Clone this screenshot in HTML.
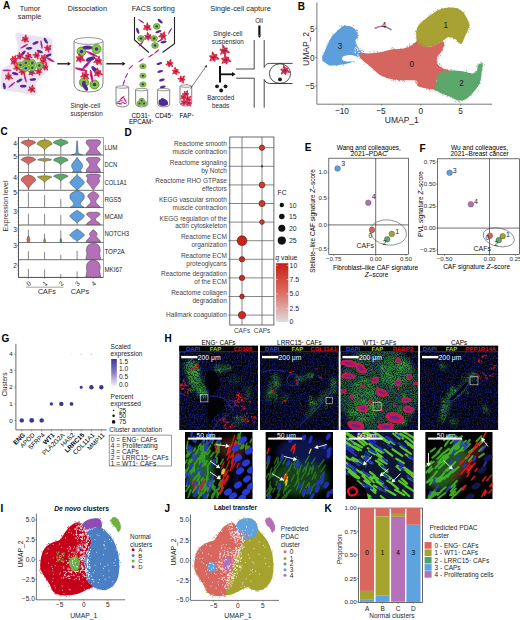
<!DOCTYPE html>
<html><head><meta charset="utf-8"><style>
html,body{margin:0;padding:0;background:#fff;}
svg{display:block;font-family:"Liberation Sans",sans-serif;}
</style></head><body>
<svg width="520" height="620" viewBox="0 0 520 620">
<rect width="520" height="620" fill="#fff"/>
<text x="0.6" y="135.4" font-size="10" font-weight="bold" fill="#000">C</text>
<rect x="18.5" y="137.5" width="84.8" height="17.5" fill="none" stroke="#666" stroke-width="0.6"/>
<rect x="18.5" y="155.0" width="84.8" height="17.5" fill="none" stroke="#666" stroke-width="0.6"/>
<rect x="18.5" y="172.5" width="84.8" height="17.7" fill="none" stroke="#666" stroke-width="0.6"/>
<rect x="18.5" y="190.2" width="84.8" height="17.4" fill="none" stroke="#666" stroke-width="0.6"/>
<rect x="18.5" y="207.6" width="84.8" height="17.4" fill="none" stroke="#666" stroke-width="0.6"/>
<rect x="18.5" y="225.0" width="84.8" height="17.4" fill="none" stroke="#666" stroke-width="0.6"/>
<rect x="18.5" y="242.4" width="84.8" height="17.4" fill="none" stroke="#666" stroke-width="0.6"/>
<rect x="18.5" y="259.8" width="84.8" height="17.6" fill="none" stroke="#666" stroke-width="0.6"/>
<line x1="18.5" y1="137.5" x2="18.5" y2="277.4" stroke="#444" stroke-width="0.8"/>
<line x1="18.5" y1="277.4" x2="103.3" y2="277.4" stroke="#444" stroke-width="0.8"/>
<line x1="28.4" y1="138.2" x2="28.4" y2="140.0" stroke="#555" stroke-width="0.7"/>
<line x1="28.4" y1="147.8" x2="28.4" y2="154.7" stroke="#555" stroke-width="0.7"/>
<path d="M28.7,140.0 L32.0,140.5 L33.5,140.9 L34.5,141.4 L35.2,141.9 L35.6,142.3 L35.7,142.8 L34.4,143.4 L33.1,144.1 L32.0,144.7 L31.0,145.3 L30.1,145.9 L29.3,146.6 L28.7,147.2 L28.7,147.8 L28.1,147.8 L28.1,147.2 L27.5,146.6 L26.7,145.9 L25.8,145.3 L24.8,144.7 L23.7,144.1 L22.4,143.4 L21.1,142.8 L21.2,142.3 L21.6,141.9 L22.3,141.4 L23.3,140.9 L24.8,140.5 L28.1,140.0Z" fill="#d4665f" stroke="#333" stroke-width="0.45"/>
<line x1="44.6" y1="138.2" x2="44.6" y2="139.8" stroke="#555" stroke-width="0.7"/>
<line x1="44.6" y1="150.4" x2="44.6" y2="154.7" stroke="#555" stroke-width="0.7"/>
<path d="M44.9,139.8 L48.3,140.5 L49.9,141.3 L50.9,142.0 L51.6,142.7 L52.0,143.5 L52.1,144.2 L50.7,145.0 L49.5,145.8 L48.3,146.5 L47.3,147.3 L46.3,148.1 L45.5,148.8 L44.9,149.6 L44.9,150.4 L44.3,150.4 L44.3,149.6 L43.7,148.8 L42.9,148.1 L41.9,147.3 L40.9,146.5 L39.7,145.8 L38.5,145.0 L37.1,144.2 L37.2,143.5 L37.6,142.7 L38.3,142.0 L39.3,141.3 L40.9,140.5 L44.3,139.8Z" fill="#a8a133" stroke="#333" stroke-width="0.45"/>
<line x1="60.8" y1="138.2" x2="60.8" y2="139.6" stroke="#555" stroke-width="0.7"/>
<line x1="60.8" y1="146.9" x2="60.8" y2="154.7" stroke="#555" stroke-width="0.7"/>
<path d="M61.1,139.6 L64.4,140.2 L65.9,140.7 L66.9,141.3 L67.6,141.9 L68.0,142.4 L68.1,143.0 L66.8,143.5 L65.5,144.0 L64.4,144.5 L63.4,144.9 L62.5,145.4 L61.7,145.9 L61.1,146.4 L61.1,146.9 L60.5,146.9 L60.5,146.4 L59.9,145.9 L59.1,145.4 L58.2,144.9 L57.2,144.5 L56.1,144.0 L54.8,143.5 L53.5,143.0 L53.6,142.4 L54.0,141.9 L54.7,141.3 L55.7,140.7 L57.2,140.2 L60.5,139.6Z" fill="#5ca86c" stroke="#333" stroke-width="0.45"/>
<path d="M77.3,140.8 L77.7,146.0 L78.0,151.0 L78.4,153.4 L80.6,154.2 L82.6,154.7 L71.6,154.7 L73.6,154.2 L75.8,153.4 L76.2,151.0 L76.5,146.0 L76.9,140.8Z" fill="#5d9fdc" stroke="#333" stroke-width="0.45"/>
<path d="M97.8,139.8 L100.1,140.6 L100.6,142.8 L98.8,145.5 L96.8,147.5 L96.9,149.5 L98.8,151.5 L100.3,153.5 L100.7,154.7 L85.9,154.7 L86.3,153.5 L87.8,151.5 L89.7,149.5 L89.8,147.5 L87.8,145.5 L86.0,142.8 L86.5,140.6 L88.8,139.8Z" fill="#b46fb9" stroke="#333" stroke-width="0.45"/>
<line x1="28.4" y1="165.0" x2="28.4" y2="172.0" stroke="#555" stroke-width="0.7"/>
<path d="M28.7,156.8 L32.0,157.3 L33.5,157.9 L34.5,158.4 L35.2,158.9 L35.6,159.5 L35.7,160.0 L34.4,160.6 L33.1,161.2 L32.0,161.9 L31.0,162.5 L30.1,163.1 L29.3,163.8 L28.7,164.4 L28.7,165.0 L28.1,165.0 L28.1,164.4 L27.5,163.8 L26.7,163.1 L25.8,162.5 L24.8,161.9 L23.7,161.2 L22.4,160.6 L21.1,160.0 L21.2,159.5 L21.6,158.9 L22.3,158.4 L23.3,157.9 L24.8,157.3 L28.1,156.8Z" fill="#d4665f" stroke="#333" stroke-width="0.45"/>
<line x1="44.6" y1="156.0" x2="44.6" y2="158.4" stroke="#555" stroke-width="0.7"/>
<line x1="44.6" y1="161.6" x2="44.6" y2="171.8" stroke="#555" stroke-width="0.7"/>
<path d="M44.9,158.4 L48.0,158.7 L49.5,158.9 L50.5,159.2 L51.1,159.5 L51.5,159.7 L51.6,160.0 L50.3,160.2 L49.1,160.4 L48.1,160.6 L47.1,160.8 L46.2,161.0 L45.5,161.2 L44.9,161.4 L44.9,161.6 L44.3,161.6 L44.3,161.4 L43.7,161.2 L43.0,161.0 L42.1,160.8 L41.1,160.6 L40.1,160.4 L38.9,160.2 L37.6,160.0 L37.7,159.7 L38.1,159.5 L38.7,159.2 L39.7,158.9 L41.2,158.7 L44.3,158.4Z" fill="#a8a133" stroke="#333" stroke-width="0.45"/>
<line x1="60.8" y1="156.0" x2="60.8" y2="157.2" stroke="#555" stroke-width="0.7"/>
<line x1="60.8" y1="164.8" x2="60.8" y2="171.8" stroke="#555" stroke-width="0.7"/>
<path d="M61.1,157.2 L64.3,157.7 L65.9,158.3 L66.9,158.8 L67.5,159.3 L67.9,159.9 L68.0,160.4 L66.7,161.0 L65.5,161.5 L64.4,162.1 L63.3,162.6 L62.5,163.2 L61.7,163.7 L61.1,164.2 L61.1,164.8 L60.5,164.8 L60.5,164.2 L59.9,163.7 L59.1,163.2 L58.3,162.6 L57.2,162.1 L56.1,161.5 L54.9,161.0 L53.6,160.4 L53.7,159.9 L54.1,159.3 L54.7,158.8 L55.7,158.3 L57.3,157.7 L60.5,157.2Z" fill="#5ca86c" stroke="#333" stroke-width="0.45"/>
<path d="M77.4,157.6 L78.6,159.5 L80.3,161.5 L81.9,163.5 L82.7,165.8 L82.1,168.0 L80.6,170.0 L80.6,171.5 L82.1,172.2 L72.1,172.2 L73.6,171.5 L73.6,170.0 L72.1,168.0 L71.5,165.8 L72.3,163.5 L73.9,161.5 L75.6,159.5 L76.8,157.6Z" fill="#5d9fdc" stroke="#333" stroke-width="0.45"/>
<path d="M97.8,157.5 L99.8,158.3 L100.3,159.8 L98.3,162.0 L96.7,164.5 L97.8,166.8 L99.8,169.0 L100.3,171.6 L100.5,172.3 L86.1,172.3 L86.3,171.6 L86.8,169.0 L88.8,166.8 L89.9,164.5 L88.3,162.0 L86.3,159.8 L86.8,158.3 L88.8,157.5Z" fill="#b46fb9" stroke="#333" stroke-width="0.45"/>
<line x1="28.4" y1="173.2" x2="28.4" y2="175.0" stroke="#555" stroke-width="0.7"/>
<path d="M28.7,175.0 L32.0,175.9 L33.5,176.8 L34.5,177.8 L35.2,178.7 L35.6,179.6 L35.7,180.5 L34.4,181.6 L33.1,182.8 L32.0,183.9 L31.0,185.1 L30.1,186.2 L29.3,187.3 L28.7,188.5 L28.7,189.6 L28.1,189.6 L28.1,188.5 L27.5,187.3 L26.7,186.2 L25.8,185.1 L24.8,183.9 L23.7,182.8 L22.4,181.6 L21.1,180.5 L21.2,179.6 L21.6,178.7 L22.3,177.8 L23.3,176.8 L24.8,175.9 L28.1,175.0Z" fill="#d4665f" stroke="#333" stroke-width="0.45"/>
<line x1="44.6" y1="173.2" x2="44.6" y2="175.8" stroke="#555" stroke-width="0.7"/>
<line x1="44.6" y1="182.6" x2="44.6" y2="189.6" stroke="#555" stroke-width="0.7"/>
<path d="M44.9,175.8 L48.2,176.0 L49.7,176.2 L50.7,176.4 L51.4,176.7 L51.8,176.9 L51.9,177.1 L50.6,177.8 L49.3,178.5 L48.2,179.2 L47.2,179.8 L46.3,180.5 L45.5,181.2 L44.9,181.9 L44.9,182.6 L44.3,182.6 L44.3,181.9 L43.7,181.2 L42.9,180.5 L42.0,179.8 L41.0,179.2 L39.9,178.5 L38.6,177.8 L37.3,177.1 L37.4,176.9 L37.8,176.7 L38.5,176.4 L39.5,176.2 L41.0,176.0 L44.3,175.8Z" fill="#a8a133" stroke="#333" stroke-width="0.45"/>
<line x1="60.8" y1="173.2" x2="60.8" y2="174.2" stroke="#555" stroke-width="0.7"/>
<line x1="60.8" y1="181.2" x2="60.8" y2="189.6" stroke="#555" stroke-width="0.7"/>
<path d="M61.1,174.2 L64.3,174.6 L65.9,174.9 L66.9,175.3 L67.5,175.7 L67.9,176.0 L68.0,176.4 L66.7,177.0 L65.5,177.6 L64.4,178.2 L63.3,178.8 L62.5,179.4 L61.7,180.0 L61.1,180.6 L61.1,181.2 L60.5,181.2 L60.5,180.6 L59.9,180.0 L59.1,179.4 L58.3,178.8 L57.2,178.2 L56.1,177.6 L54.9,177.0 L53.6,176.4 L53.7,176.0 L54.1,175.7 L54.7,175.3 L55.7,174.9 L57.3,174.6 L60.5,174.2Z" fill="#5ca86c" stroke="#333" stroke-width="0.45"/>
<line x1="77.1" y1="173.2" x2="77.1" y2="175.0" stroke="#555" stroke-width="0.7"/>
<path d="M77.4,175.0 L78.6,176.2 L80.0,177.5 L81.4,178.8 L82.6,180.0 L83.7,181.2 L84.5,182.5 L83.7,183.8 L82.6,185.0 L81.4,186.2 L80.0,187.5 L78.6,188.8 L77.4,190.0 L76.8,190.0 L75.6,188.8 L74.2,187.5 L72.8,186.2 L71.6,185.0 L70.5,183.8 L69.7,182.5 L70.5,181.2 L71.6,180.0 L72.8,178.8 L74.2,177.5 L75.6,176.2 L76.8,175.0Z" fill="#5d9fdc" stroke="#333" stroke-width="0.45"/>
<path d="M96.8,174.0 L99.8,174.8 L100.7,176.2 L98.8,177.8 L99.1,179.5 L99.9,181.2 L98.3,183.5 L95.8,186.5 L93.7,189.6 L92.9,189.6 L90.8,186.5 L88.3,183.5 L86.7,181.2 L87.5,179.5 L87.8,177.8 L85.9,176.2 L86.8,174.8 L89.8,174.0Z" fill="#b46fb9" stroke="#333" stroke-width="0.45"/>
<line x1="28.4" y1="192.2" x2="28.4" y2="207.3" stroke="#555" stroke-width="0.7"/>
<line x1="44.6" y1="195.0" x2="44.6" y2="207.3" stroke="#555" stroke-width="0.7"/>
<line x1="60.8" y1="199.0" x2="60.8" y2="207.3" stroke="#555" stroke-width="0.7"/>
<path d="M77.4,190.7 L79.6,191.4 L82.7,193.0 L84.3,195.5 L84.1,198.5 L82.1,201.0 L80.3,203.2 L80.7,205.2 L83.1,206.6 L84.1,207.4 L70.1,207.4 L71.1,206.6 L73.5,205.2 L73.9,203.2 L72.1,201.0 L70.1,198.5 L69.9,195.5 L71.5,193.0 L74.6,191.4 L76.8,190.7Z" fill="#5d9fdc" stroke="#333" stroke-width="0.45"/>
<path d="M93.6,191.4 L96.3,193.0 L98.5,195.0 L98.9,196.6 L97.3,198.5 L95.7,201.0 L96.3,203.3 L98.8,205.5 L100.3,207.3 L86.3,207.3 L87.8,205.5 L90.3,203.3 L90.9,201.0 L89.3,198.5 L87.7,196.6 L88.1,195.0 L90.3,193.0 L93.0,191.4Z" fill="#b46fb9" stroke="#333" stroke-width="0.45"/>
<line x1="28.4" y1="213.8" x2="28.4" y2="224.8" stroke="#555" stroke-width="0.7"/>
<line x1="44.6" y1="213.8" x2="44.6" y2="224.8" stroke="#555" stroke-width="0.7"/>
<line x1="60.8" y1="215.0" x2="60.8" y2="224.8" stroke="#555" stroke-width="0.7"/>
<line x1="77.1" y1="222.8" x2="77.1" y2="224.8" stroke="#555" stroke-width="0.7"/>
<path d="M77.4,210.2 L78.6,211.2 L80.0,212.1 L81.4,213.1 L82.6,214.1 L83.7,215.0 L84.5,216.0 L83.7,217.1 L82.6,218.3 L81.4,219.4 L80.0,220.5 L78.6,221.7 L77.4,222.8 L76.8,222.8 L75.6,221.7 L74.2,220.5 L72.8,219.4 L71.6,218.3 L70.5,217.1 L69.7,216.0 L70.5,215.0 L71.6,214.1 L72.8,213.1 L74.2,212.1 L75.6,211.2 L76.8,210.2Z" fill="#5d9fdc" stroke="#333" stroke-width="0.45"/>
<path d="M97.3,212.2 L99.3,213.0 L100.1,214.5 L98.1,216.5 L95.3,218.6 L95.7,220.5 L98.8,222.5 L100.5,224.6 L86.1,224.6 L87.8,222.5 L90.9,220.5 L91.3,218.6 L88.5,216.5 L86.5,214.5 L87.3,213.0 L89.3,212.2Z" fill="#b46fb9" stroke="#333" stroke-width="0.45"/>
<line x1="28.4" y1="229.8" x2="28.4" y2="242.2" stroke="#555" stroke-width="0.7"/>
<line x1="44.6" y1="233.7" x2="44.6" y2="242.2" stroke="#555" stroke-width="0.7"/>
<line x1="60.8" y1="230.5" x2="60.8" y2="242.2" stroke="#555" stroke-width="0.7"/>
<path d="M28.7,236.0 L29.6,238.0 L29.9,240.0 L29.6,241.5 L28.9,242.2 L27.9,242.2 L27.2,241.5 L26.9,240.0 L27.2,238.0 L28.1,236.0Z" fill="#d4665f" stroke="#333" stroke-width="0.45"/>
<path d="M44.8,238.5 L45.5,240.5 L45.2,242.2 L44.0,242.2 L43.7,240.5 L44.4,238.5Z" fill="#a8a133" stroke="#333" stroke-width="0.45"/>
<path d="M61.0,238.5 L61.7,240.5 L61.4,242.2 L60.2,242.2 L59.9,240.5 L60.6,238.5Z" fill="#5ca86c" stroke="#333" stroke-width="0.45"/>
<line x1="77.1" y1="241.2" x2="77.1" y2="242.2" stroke="#555" stroke-width="0.7"/>
<path d="M77.4,229.0 L78.6,230.0 L80.0,231.0 L81.4,231.9 L82.6,232.9 L83.7,233.9 L84.5,234.9 L83.7,235.9 L82.6,237.0 L81.4,238.1 L80.0,239.1 L78.6,240.1 L77.4,241.2 L76.8,241.2 L75.6,240.1 L74.2,239.1 L72.8,238.1 L71.6,237.0 L70.5,235.9 L69.7,234.9 L70.5,233.9 L71.6,232.9 L72.8,231.9 L74.2,231.0 L75.6,230.0 L76.8,229.0Z" fill="#5d9fdc" stroke="#333" stroke-width="0.45"/>
<path d="M93.6,229.8 L95.3,231.3 L96.7,232.8 L97.1,234.6 L96.1,236.3 L97.8,238.3 L99.8,240.3 L100.5,242.1 L86.1,242.1 L86.8,240.3 L88.8,238.3 L90.5,236.3 L89.5,234.6 L89.9,232.8 L91.3,231.3 L93.0,229.8Z" fill="#b46fb9" stroke="#333" stroke-width="0.45"/>
<line x1="28.4" y1="251.1" x2="28.4" y2="259.6" stroke="#555" stroke-width="0.7"/>
<line x1="44.6" y1="252.0" x2="44.6" y2="259.6" stroke="#555" stroke-width="0.7"/>
<line x1="60.8" y1="254.9" x2="60.8" y2="259.6" stroke="#555" stroke-width="0.7"/>
<line x1="77.1" y1="250.8" x2="77.1" y2="259.6" stroke="#555" stroke-width="0.7"/>
<path d="M94.8,243.2 L96.8,244.0 L98.8,245.5 L99.9,247.5 L100.2,250.5 L99.7,253.8 L100.2,256.5 L100.6,258.5 L100.7,259.6 L85.9,259.6 L86.0,258.5 L86.4,256.5 L86.9,253.8 L86.4,250.5 L86.7,247.5 L87.8,245.5 L89.8,244.0 L91.8,243.2Z" fill="#b46fb9" stroke="#333" stroke-width="0.45"/>
<line x1="28.4" y1="269.0" x2="28.4" y2="277.2" stroke="#555" stroke-width="0.7"/>
<line x1="44.6" y1="269.4" x2="44.6" y2="277.2" stroke="#555" stroke-width="0.7"/>
<line x1="60.8" y1="274.1" x2="60.8" y2="277.2" stroke="#555" stroke-width="0.7"/>
<line x1="77.1" y1="271.5" x2="77.1" y2="277.2" stroke="#555" stroke-width="0.7"/>
<path d="M94.8,260.3 L96.8,261.1 L98.8,262.6 L99.9,264.7 L100.2,267.8 L99.7,271.2 L100.2,273.9 L100.6,276.0 L100.7,277.2 L85.9,277.2 L86.0,276.0 L86.4,273.9 L86.9,271.2 L86.4,267.8 L86.7,264.7 L87.8,262.6 L89.8,261.1 L91.8,260.3Z" fill="#b46fb9" stroke="#333" stroke-width="0.45"/>
<text x="104.4" y="150.4" font-size="6.6" fill="#1e1e1e" textLength="13.1" lengthAdjust="spacingAndGlyphs">LUM</text>
<text x="104.4" y="167.2" font-size="6.6" fill="#1e1e1e" textLength="12.8" lengthAdjust="spacingAndGlyphs">DCN</text>
<text x="104.4" y="184.8" font-size="6.6" fill="#1e1e1e" textLength="22.5" lengthAdjust="spacingAndGlyphs">COL1A1</text>
<text x="104.4" y="201.8" font-size="6.6" fill="#1e1e1e" textLength="16.7" lengthAdjust="spacingAndGlyphs">RGS5</text>
<text x="104.4" y="219.0" font-size="6.6" fill="#1e1e1e" textLength="18.4" lengthAdjust="spacingAndGlyphs">MCAM</text>
<text x="104.4" y="235.9" font-size="6.6" fill="#1e1e1e" textLength="24.7" lengthAdjust="spacingAndGlyphs">NOTCH3</text>
<text x="104.4" y="254.1" font-size="6.6" fill="#1e1e1e" textLength="20.4" lengthAdjust="spacingAndGlyphs">TOP2A</text>
<text x="104.4" y="271.5" font-size="6.6" fill="#1e1e1e" textLength="17.9" lengthAdjust="spacingAndGlyphs">MKI67</text>
<text x="16.8" y="145.9" font-size="6.6" text-anchor="end" fill="#2a2a2a">4</text>
<line x1="17.0" y1="143.5" x2="18.5" y2="143.5" stroke="#444" stroke-width="0.5"/>
<text x="16.8" y="159.2" font-size="6.6" text-anchor="end" fill="#2a2a2a">5</text>
<line x1="17.0" y1="156.8" x2="18.5" y2="156.8" stroke="#444" stroke-width="0.5"/>
<text x="16.8" y="180.2" font-size="6.6" text-anchor="end" fill="#2a2a2a">4</text>
<line x1="17.0" y1="177.8" x2="18.5" y2="177.8" stroke="#444" stroke-width="0.5"/>
<text x="16.8" y="194.6" font-size="6.6" text-anchor="end" fill="#2a2a2a">5</text>
<line x1="17.0" y1="192.2" x2="18.5" y2="192.2" stroke="#444" stroke-width="0.5"/>
<text x="16.8" y="214.0" font-size="6.6" text-anchor="end" fill="#2a2a2a">3</text>
<line x1="17.0" y1="211.6" x2="18.5" y2="211.6" stroke="#444" stroke-width="0.5"/>
<text x="16.8" y="232.2" font-size="6.6" text-anchor="end" fill="#2a2a2a">3</text>
<line x1="17.0" y1="229.8" x2="18.5" y2="229.8" stroke="#444" stroke-width="0.5"/>
<text x="16.8" y="247.7" font-size="6.6" text-anchor="end" fill="#2a2a2a">3</text>
<line x1="17.0" y1="245.3" x2="18.5" y2="245.3" stroke="#444" stroke-width="0.5"/>
<text x="16.8" y="267.7" font-size="6.6" text-anchor="end" fill="#2a2a2a">2</text>
<line x1="17.0" y1="265.3" x2="18.5" y2="265.3" stroke="#444" stroke-width="0.5"/>
<line x1="17.3" y1="141.0" x2="18.5" y2="141.0" stroke="#555" stroke-width="0.4"/>
<line x1="17.3" y1="144.5" x2="18.5" y2="144.5" stroke="#555" stroke-width="0.4"/>
<line x1="17.3" y1="148.0" x2="18.5" y2="148.0" stroke="#555" stroke-width="0.4"/>
<line x1="17.3" y1="151.5" x2="18.5" y2="151.5" stroke="#555" stroke-width="0.4"/>
<line x1="17.3" y1="158.5" x2="18.5" y2="158.5" stroke="#555" stroke-width="0.4"/>
<line x1="17.3" y1="162.0" x2="18.5" y2="162.0" stroke="#555" stroke-width="0.4"/>
<line x1="17.3" y1="165.5" x2="18.5" y2="165.5" stroke="#555" stroke-width="0.4"/>
<line x1="17.3" y1="169.0" x2="18.5" y2="169.0" stroke="#555" stroke-width="0.4"/>
<line x1="17.3" y1="176.0" x2="18.5" y2="176.0" stroke="#555" stroke-width="0.4"/>
<line x1="17.3" y1="179.6" x2="18.5" y2="179.6" stroke="#555" stroke-width="0.4"/>
<line x1="17.3" y1="183.1" x2="18.5" y2="183.1" stroke="#555" stroke-width="0.4"/>
<line x1="17.3" y1="186.7" x2="18.5" y2="186.7" stroke="#555" stroke-width="0.4"/>
<line x1="17.3" y1="193.7" x2="18.5" y2="193.7" stroke="#555" stroke-width="0.4"/>
<line x1="17.3" y1="197.2" x2="18.5" y2="197.2" stroke="#555" stroke-width="0.4"/>
<line x1="17.3" y1="200.6" x2="18.5" y2="200.6" stroke="#555" stroke-width="0.4"/>
<line x1="17.3" y1="204.1" x2="18.5" y2="204.1" stroke="#555" stroke-width="0.4"/>
<line x1="17.3" y1="211.1" x2="18.5" y2="211.1" stroke="#555" stroke-width="0.4"/>
<line x1="17.3" y1="214.6" x2="18.5" y2="214.6" stroke="#555" stroke-width="0.4"/>
<line x1="17.3" y1="218.0" x2="18.5" y2="218.0" stroke="#555" stroke-width="0.4"/>
<line x1="17.3" y1="221.5" x2="18.5" y2="221.5" stroke="#555" stroke-width="0.4"/>
<line x1="17.3" y1="228.5" x2="18.5" y2="228.5" stroke="#555" stroke-width="0.4"/>
<line x1="17.3" y1="232.0" x2="18.5" y2="232.0" stroke="#555" stroke-width="0.4"/>
<line x1="17.3" y1="235.4" x2="18.5" y2="235.4" stroke="#555" stroke-width="0.4"/>
<line x1="17.3" y1="238.9" x2="18.5" y2="238.9" stroke="#555" stroke-width="0.4"/>
<line x1="17.3" y1="245.9" x2="18.5" y2="245.9" stroke="#555" stroke-width="0.4"/>
<line x1="17.3" y1="249.4" x2="18.5" y2="249.4" stroke="#555" stroke-width="0.4"/>
<line x1="17.3" y1="252.8" x2="18.5" y2="252.8" stroke="#555" stroke-width="0.4"/>
<line x1="17.3" y1="256.3" x2="18.5" y2="256.3" stroke="#555" stroke-width="0.4"/>
<line x1="17.3" y1="263.3" x2="18.5" y2="263.3" stroke="#555" stroke-width="0.4"/>
<line x1="17.3" y1="266.8" x2="18.5" y2="266.8" stroke="#555" stroke-width="0.4"/>
<line x1="17.3" y1="270.4" x2="18.5" y2="270.4" stroke="#555" stroke-width="0.4"/>
<line x1="17.3" y1="273.9" x2="18.5" y2="273.9" stroke="#555" stroke-width="0.4"/>
<text transform="translate(5.2,206.0) rotate(-90)" x="0" y="2.5" font-size="7.0" text-anchor="middle" fill="#2e2e2e">Expression level</text>
<text transform="translate(28.6,283.5) rotate(-45)" x="0" y="2.4" font-size="6.6" text-anchor="middle" fill="#2e2e2e">0</text>
<line x1="28.4" y1="277.4" x2="28.4" y2="278.9" stroke="#444" stroke-width="0.5"/>
<text transform="translate(44.8,283.5) rotate(-45)" x="0" y="2.4" font-size="6.6" text-anchor="middle" fill="#2e2e2e">1</text>
<line x1="44.6" y1="277.4" x2="44.6" y2="278.9" stroke="#444" stroke-width="0.5"/>
<text transform="translate(61.0,283.5) rotate(-45)" x="0" y="2.4" font-size="6.6" text-anchor="middle" fill="#2e2e2e">2</text>
<line x1="60.8" y1="277.4" x2="60.8" y2="278.9" stroke="#444" stroke-width="0.5"/>
<text transform="translate(77.3,283.5) rotate(-45)" x="0" y="2.4" font-size="6.6" text-anchor="middle" fill="#2e2e2e">3</text>
<line x1="77.1" y1="277.4" x2="77.1" y2="278.9" stroke="#444" stroke-width="0.5"/>
<text transform="translate(93.5,283.5) rotate(-45)" x="0" y="2.4" font-size="6.6" text-anchor="middle" fill="#2e2e2e">4</text>
<line x1="93.3" y1="277.4" x2="93.3" y2="278.9" stroke="#444" stroke-width="0.5"/>
<line x1="26.0" y1="287.2" x2="63.5" y2="287.2" stroke="#666" stroke-width="0.6"/>
<text x="46.9" y="293.9" font-size="7.2" text-anchor="middle" fill="#2e2e2e">CAFs</text>
<text x="80.0" y="293.9" font-size="7.2" text-anchor="middle" fill="#2e2e2e">CAPs</text>
<text x="124.6" y="135.6" font-size="10" font-weight="bold" fill="#000">D</text>
<rect x="229.8" y="137.0" width="44.1" height="188.0" fill="none" stroke="#444" stroke-width="0.8"/>
<line x1="242.0" y1="137.0" x2="242.0" y2="325.0" stroke="#555" stroke-width="0.7"/>
<line x1="262.0" y1="137.0" x2="262.0" y2="325.0" stroke="#555" stroke-width="0.7"/>
<line x1="229.8" y1="147.7" x2="273.9" y2="147.7" stroke="#555" stroke-width="0.7"/>
<line x1="228.3" y1="147.7" x2="229.8" y2="147.7" stroke="#444" stroke-width="0.5"/>
<line x1="229.8" y1="166.3" x2="273.9" y2="166.3" stroke="#555" stroke-width="0.7"/>
<line x1="228.3" y1="166.3" x2="229.8" y2="166.3" stroke="#444" stroke-width="0.5"/>
<line x1="229.8" y1="184.9" x2="273.9" y2="184.9" stroke="#555" stroke-width="0.7"/>
<line x1="228.3" y1="184.9" x2="229.8" y2="184.9" stroke="#444" stroke-width="0.5"/>
<line x1="229.8" y1="203.5" x2="273.9" y2="203.5" stroke="#555" stroke-width="0.7"/>
<line x1="228.3" y1="203.5" x2="229.8" y2="203.5" stroke="#444" stroke-width="0.5"/>
<line x1="229.8" y1="222.1" x2="273.9" y2="222.1" stroke="#555" stroke-width="0.7"/>
<line x1="228.3" y1="222.1" x2="229.8" y2="222.1" stroke="#444" stroke-width="0.5"/>
<line x1="229.8" y1="240.7" x2="273.9" y2="240.7" stroke="#555" stroke-width="0.7"/>
<line x1="228.3" y1="240.7" x2="229.8" y2="240.7" stroke="#444" stroke-width="0.5"/>
<line x1="229.8" y1="259.3" x2="273.9" y2="259.3" stroke="#555" stroke-width="0.7"/>
<line x1="228.3" y1="259.3" x2="229.8" y2="259.3" stroke="#444" stroke-width="0.5"/>
<line x1="229.8" y1="277.9" x2="273.9" y2="277.9" stroke="#555" stroke-width="0.7"/>
<line x1="228.3" y1="277.9" x2="229.8" y2="277.9" stroke="#444" stroke-width="0.5"/>
<line x1="229.8" y1="296.5" x2="273.9" y2="296.5" stroke="#555" stroke-width="0.7"/>
<line x1="228.3" y1="296.5" x2="229.8" y2="296.5" stroke="#444" stroke-width="0.5"/>
<line x1="229.8" y1="315.1" x2="273.9" y2="315.1" stroke="#555" stroke-width="0.7"/>
<line x1="228.3" y1="315.1" x2="229.8" y2="315.1" stroke="#444" stroke-width="0.5"/>
<text x="226.8" y="146.1" font-size="6.5" text-anchor="end" fill="#444">Reactome smooth</text>
<text x="226.8" y="153.9" font-size="6.5" text-anchor="end" fill="#444">muscle contraction</text>
<text x="226.8" y="164.7" font-size="6.5" text-anchor="end" fill="#444">Reactome signaling</text>
<text x="226.8" y="172.5" font-size="6.5" text-anchor="end" fill="#444">by Notch</text>
<text x="226.8" y="183.3" font-size="6.5" text-anchor="end" fill="#444">Reactome RHO GTPase</text>
<text x="226.8" y="191.1" font-size="6.5" text-anchor="end" fill="#444">effectors</text>
<text x="226.8" y="201.9" font-size="6.5" text-anchor="end" fill="#444">KEGG vascular smooth</text>
<text x="226.8" y="209.7" font-size="6.5" text-anchor="end" fill="#444">muscle contraction</text>
<text x="226.8" y="220.5" font-size="6.5" text-anchor="end" fill="#444">KEGG regulation of the</text>
<text x="226.8" y="228.3" font-size="6.5" text-anchor="end" fill="#444">actin cytoskeleton</text>
<text x="226.8" y="239.1" font-size="6.5" text-anchor="end" fill="#444">Reactome ECM</text>
<text x="226.8" y="246.9" font-size="6.5" text-anchor="end" fill="#444">organization</text>
<text x="226.8" y="257.7" font-size="6.5" text-anchor="end" fill="#444">Reactome ECM</text>
<text x="226.8" y="265.5" font-size="6.5" text-anchor="end" fill="#444">proteoglycans</text>
<text x="226.8" y="276.3" font-size="6.5" text-anchor="end" fill="#444">Reactome degradation</text>
<text x="226.8" y="284.1" font-size="6.5" text-anchor="end" fill="#444">of the ECM</text>
<text x="226.8" y="294.9" font-size="6.5" text-anchor="end" fill="#444">Reactome collagen</text>
<text x="226.8" y="302.7" font-size="6.5" text-anchor="end" fill="#444">degradation</text>
<text x="226.8" y="317.4" font-size="6.5" text-anchor="end" fill="#444">Hallmark coagulation</text>
<circle cx="262.0" cy="147.7" r="2.70" fill="#d03a2c" stroke="#3a0e08" stroke-width="0.5"/>
<circle cx="262.0" cy="166.3" r="0.90" fill="#c8342a" stroke="#3a0e08" stroke-width="0.5"/>
<circle cx="262.0" cy="184.9" r="2.90" fill="#d03a2c" stroke="#3a0e08" stroke-width="0.5"/>
<circle cx="262.0" cy="203.5" r="3.10" fill="#d03a2c" stroke="#3a0e08" stroke-width="0.5"/>
<circle cx="262.0" cy="222.1" r="2.40" fill="#d03a2c" stroke="#3a0e08" stroke-width="0.5"/>
<circle cx="242.0" cy="240.7" r="4.90" fill="#c8241c" stroke="#3a0e08" stroke-width="0.5"/>
<circle cx="242.0" cy="259.3" r="2.70" fill="#cc2a20" stroke="#3a0e08" stroke-width="0.5"/>
<circle cx="242.0" cy="277.9" r="2.70" fill="#cc2a20" stroke="#3a0e08" stroke-width="0.5"/>
<circle cx="242.0" cy="296.5" r="2.40" fill="#cc2a20" stroke="#3a0e08" stroke-width="0.5"/>
<circle cx="242.0" cy="315.1" r="3.70" fill="#cc2a20" stroke="#3a0e08" stroke-width="0.5"/>
<text x="242.0" y="332.6" font-size="6.5" text-anchor="middle" fill="#444">CAFs</text>
<text x="262.0" y="332.6" font-size="6.5" text-anchor="middle" fill="#444">CAPs</text>
<text x="277.6" y="195.2" font-size="6.9" fill="#1e1e1e">FC</text>
<circle cx="281.8" cy="205.0" r="2.20" fill="#111"/>
<text x="289.0" y="207.5" font-size="6.9" fill="#1e1e1e">10</text>
<circle cx="281.8" cy="216.5" r="2.80" fill="#111"/>
<text x="289.0" y="219.0" font-size="6.9" fill="#1e1e1e">15</text>
<circle cx="281.8" cy="228.2" r="3.50" fill="#111"/>
<text x="289.0" y="230.7" font-size="6.9" fill="#1e1e1e">20</text>
<circle cx="281.8" cy="240.6" r="4.10" fill="#111"/>
<text x="289.0" y="243.1" font-size="6.9" fill="#1e1e1e">25</text>
<text x="275.2" y="259.7" font-size="6.9" fill="#1e1e1e"><tspan font-style="italic">q</tspan> value</text>
<defs><linearGradient id="qg" x1="0" y1="0" x2="0" y2="1"><stop offset="0" stop-color="#c81e14"/><stop offset="0.5" stop-color="#dc6e64"/><stop offset="1" stop-color="#dcdcdc"/></linearGradient></defs>
<rect x="276.0" y="263.2" width="12.3" height="58.8" fill="url(#qg)"/>
<text x="289.6" y="267.8" font-size="6.9" fill="#1e1e1e">10</text>
<line x1="276.0" y1="265.3" x2="277.8" y2="265.3" stroke="#fff" stroke-width="0.5"/>
<line x1="286.5" y1="265.3" x2="288.3" y2="265.3" stroke="#fff" stroke-width="0.5"/>
<text x="289.6" y="282.1" font-size="6.9" fill="#1e1e1e">7.5</text>
<line x1="276.0" y1="279.6" x2="277.8" y2="279.6" stroke="#fff" stroke-width="0.5"/>
<line x1="286.5" y1="279.6" x2="288.3" y2="279.6" stroke="#fff" stroke-width="0.5"/>
<text x="289.6" y="296.4" font-size="6.9" fill="#1e1e1e">5.0</text>
<line x1="276.0" y1="293.9" x2="277.8" y2="293.9" stroke="#fff" stroke-width="0.5"/>
<line x1="286.5" y1="293.9" x2="288.3" y2="293.9" stroke="#fff" stroke-width="0.5"/>
<text x="289.6" y="310.9" font-size="6.9" fill="#1e1e1e">2.5</text>
<line x1="276.0" y1="308.4" x2="277.8" y2="308.4" stroke="#fff" stroke-width="0.5"/>
<line x1="286.5" y1="308.4" x2="288.3" y2="308.4" stroke="#fff" stroke-width="0.5"/>
<text x="289.6" y="324.1" font-size="6.9" fill="#1e1e1e">0</text>
<line x1="276.0" y1="321.6" x2="277.8" y2="321.6" stroke="#fff" stroke-width="0.5"/>
<line x1="286.5" y1="321.6" x2="288.3" y2="321.6" stroke="#fff" stroke-width="0.5"/>
<text x="304.8" y="151.0" font-size="10" font-weight="bold" fill="#000">E</text>
<text x="368.8" y="150.1" font-size="6.5" text-anchor="middle">Wang and colleagues,</text>
<text x="368.8" y="156.2" font-size="6.5" text-anchor="middle">2021–PDAC</text>
<rect x="328.8" y="158.2" width="79.7" height="96.4" fill="none" stroke="#333" stroke-width="0.7"/>
<line x1="375.7" y1="158.2" x2="375.7" y2="254.6" stroke="#333" stroke-width="0.7"/>
<line x1="328.8" y1="224.9" x2="408.5" y2="224.9" stroke="#333" stroke-width="0.7"/>
<ellipse cx="388.4" cy="232.5" rx="18.2" ry="12.6" transform="rotate(8 388.4 232.5)" fill="none" stroke="#555" stroke-width="0.6"/>
<circle cx="337.6" cy="168.5" r="2.80" fill="#5d9fdc" stroke="#444" stroke-width="0.4"/>
<text x="341.2" y="165.8" font-size="7.0" fill="#1e1e1e">3</text>
<circle cx="368.3" cy="202.7" r="2.80" fill="#b46fb9" stroke="#444" stroke-width="0.4"/>
<text x="371.7" y="199.0" font-size="7.0" fill="#1e1e1e">4</text>
<circle cx="372.0" cy="229.9" r="2.80" fill="#d4665f" stroke="#444" stroke-width="0.4"/>
<text x="368.4" y="238.0" font-size="7.0" fill="#1e1e1e">0</text>
<circle cx="391.8" cy="233.9" r="2.80" fill="#a8a133" stroke="#444" stroke-width="0.4"/>
<text x="395.2" y="233.8" font-size="7.0" fill="#1e1e1e">1</text>
<circle cx="387.2" cy="239.2" r="2.80" fill="#5ca86c" stroke="#444" stroke-width="0.4"/>
<text x="382.7" y="245.3" font-size="7.0" fill="#1e1e1e">2</text>
<text x="327.0" y="174.4" font-size="6.2" text-anchor="end" fill="#2e2e2e">1.0</text>
<line x1="327.5" y1="172.2" x2="328.8" y2="172.2" stroke="#333" stroke-width="0.5"/>
<text x="327.0" y="200.3" font-size="6.2" text-anchor="end" fill="#2e2e2e">0.5</text>
<line x1="327.5" y1="198.1" x2="328.8" y2="198.1" stroke="#333" stroke-width="0.5"/>
<text x="327.0" y="227.1" font-size="6.2" text-anchor="end" fill="#2e2e2e">0.0</text>
<line x1="327.5" y1="224.9" x2="328.8" y2="224.9" stroke="#333" stroke-width="0.5"/>
<text x="327.0" y="250.8" font-size="6.2" text-anchor="end" fill="#2e2e2e">−0.5</text>
<line x1="327.5" y1="248.6" x2="328.8" y2="248.6" stroke="#333" stroke-width="0.5"/>
<text x="333.6" y="261.4" font-size="6.2" text-anchor="middle" fill="#2e2e2e">−0.75</text>
<line x1="333.6" y1="254.6" x2="333.6" y2="255.9" stroke="#333" stroke-width="0.5"/>
<text x="375.7" y="261.4" font-size="6.2" text-anchor="middle" fill="#2e2e2e">0.00</text>
<line x1="375.7" y1="254.6" x2="375.7" y2="255.9" stroke="#333" stroke-width="0.5"/>
<text x="405.9" y="261.4" font-size="6.2" text-anchor="middle" fill="#2e2e2e">0.50</text>
<line x1="405.9" y1="254.6" x2="405.9" y2="255.9" stroke="#333" stroke-width="0.5"/>
<text x="356.5" y="248.1" font-size="7.0" fill="#1e1e1e">CAFs</text>
<text transform="translate(312.6,221.0) rotate(-90)" x="0" y="2.3" font-size="6.5" text-anchor="middle">Stellate–like CAF signature <tspan font-style="italic">Z</tspan>–score</text>
<text x="375.6" y="269.5" font-size="6.5" text-anchor="middle">Fibroblast–like CAF signature</text>
<text x="376.6" y="276.9" font-size="6.5" text-anchor="middle"><tspan font-style="italic">Z</tspan>–score</text>
<text x="419.4" y="152.2" font-size="10" font-weight="bold" fill="#000">F</text>
<text x="479.6" y="150.1" font-size="6.5" text-anchor="middle">Wu and colleagues,</text>
<text x="479.6" y="156.2" font-size="6.5" text-anchor="middle">2021–Breast cancer</text>
<rect x="437.6" y="158.8" width="81.9" height="95.8" fill="none" stroke="#333" stroke-width="0.7"/>
<line x1="489.5" y1="158.8" x2="489.5" y2="254.6" stroke="#333" stroke-width="0.7"/>
<line x1="437.6" y1="228.1" x2="519.5" y2="228.1" stroke="#333" stroke-width="0.7"/>
<ellipse cx="498.8" cy="237.3" rx="15.8" ry="9.2" transform="rotate(12 498.8 237.3)" fill="none" stroke="#555" stroke-width="0.6"/>
<circle cx="449.6" cy="172.7" r="2.80" fill="#5d9fdc" stroke="#444" stroke-width="0.4"/>
<text x="452.8" y="172.6" font-size="7.0" fill="#1e1e1e">3</text>
<circle cx="470.9" cy="204.3" r="2.80" fill="#b46fb9" stroke="#444" stroke-width="0.4"/>
<text x="473.9" y="203.8" font-size="7.0" fill="#1e1e1e">4</text>
<circle cx="490.0" cy="235.7" r="2.80" fill="#d4665f" stroke="#444" stroke-width="0.4"/>
<text x="485.4" y="239.7" font-size="7.0" fill="#1e1e1e">0</text>
<circle cx="502.7" cy="236.2" r="2.80" fill="#a8a133" stroke="#444" stroke-width="0.4"/>
<text x="505.9" y="237.1" font-size="7.0" fill="#1e1e1e">1</text>
<circle cx="498.8" cy="240.1" r="2.80" fill="#5ca86c" stroke="#444" stroke-width="0.4"/>
<text x="494.2" y="245.8" font-size="7.0" fill="#1e1e1e">2</text>
<text x="435.8" y="164.0" font-size="6.2" text-anchor="end" fill="#2e2e2e">0.75</text>
<line x1="436.3" y1="161.8" x2="437.6" y2="161.8" stroke="#333" stroke-width="0.5"/>
<text x="435.8" y="186.4" font-size="6.2" text-anchor="end" fill="#2e2e2e">0.50</text>
<line x1="436.3" y1="184.2" x2="437.6" y2="184.2" stroke="#333" stroke-width="0.5"/>
<text x="435.8" y="208.4" font-size="6.2" text-anchor="end" fill="#2e2e2e">0.25</text>
<line x1="436.3" y1="206.2" x2="437.6" y2="206.2" stroke="#333" stroke-width="0.5"/>
<text x="435.8" y="230.3" font-size="6.2" text-anchor="end" fill="#2e2e2e">0.00</text>
<line x1="436.3" y1="228.1" x2="437.6" y2="228.1" stroke="#333" stroke-width="0.5"/>
<text x="435.8" y="252.2" font-size="6.2" text-anchor="end" fill="#2e2e2e">−0.25</text>
<line x1="436.3" y1="250.0" x2="437.6" y2="250.0" stroke="#333" stroke-width="0.5"/>
<text x="444.5" y="261.4" font-size="6.2" text-anchor="middle" fill="#2e2e2e">−0.50</text>
<line x1="444.5" y1="254.6" x2="444.5" y2="255.9" stroke="#333" stroke-width="0.5"/>
<text x="489.5" y="261.4" font-size="6.2" text-anchor="middle" fill="#2e2e2e">0.00</text>
<line x1="489.5" y1="254.6" x2="489.5" y2="255.9" stroke="#333" stroke-width="0.5"/>
<text x="515.5" y="261.4" font-size="6.2" text-anchor="middle" fill="#2e2e2e">0.25</text>
<line x1="515.5" y1="254.6" x2="515.5" y2="255.9" stroke="#333" stroke-width="0.5"/>
<text x="473.5" y="250.9" font-size="7.0" fill="#1e1e1e">CAFs</text>
<text transform="translate(420.8,204.0) rotate(-90)" x="0" y="2.3" font-size="6.5" text-anchor="middle">PVL signature <tspan font-style="italic">Z</tspan>–score</text>
<text x="476.6" y="269.1" font-size="6.5" text-anchor="middle">CAF signature <tspan font-style="italic">Z</tspan>–score</text>
<text x="1.4" y="342.4" font-size="10" font-weight="bold" fill="#000">G</text>
<line x1="15.9" y1="343.8" x2="15.9" y2="429.9" stroke="#444" stroke-width="0.8"/>
<line x1="15.9" y1="429.9" x2="106.8" y2="429.9" stroke="#444" stroke-width="0.8"/>
<text x="12.8" y="356.4" font-size="6.2" text-anchor="end" fill="#1e1e1e">4</text>
<line x1="14.4" y1="354.2" x2="15.9" y2="354.2" stroke="#444" stroke-width="0.5"/>
<text x="12.8" y="372.9" font-size="6.2" text-anchor="end" fill="#1e1e1e">3</text>
<line x1="14.4" y1="370.7" x2="15.9" y2="370.7" stroke="#444" stroke-width="0.5"/>
<text x="12.8" y="389.4" font-size="6.2" text-anchor="end" fill="#1e1e1e">2</text>
<line x1="14.4" y1="387.2" x2="15.9" y2="387.2" stroke="#444" stroke-width="0.5"/>
<text x="12.8" y="406.1" font-size="6.2" text-anchor="end" fill="#1e1e1e">1</text>
<line x1="14.4" y1="403.9" x2="15.9" y2="403.9" stroke="#444" stroke-width="0.5"/>
<text x="12.8" y="422.6" font-size="6.2" text-anchor="end" fill="#1e1e1e">0</text>
<line x1="14.4" y1="420.4" x2="15.9" y2="420.4" stroke="#444" stroke-width="0.5"/>
<circle cx="21.8" cy="420.4" r="2.20" fill="#37399a"/>
<circle cx="31.7" cy="420.4" r="2.40" fill="#37399a"/>
<circle cx="41.7" cy="420.4" r="2.20" fill="#37399a"/>
<circle cx="51.4" cy="403.9" r="1.70" fill="#37399a"/>
<circle cx="61.3" cy="403.9" r="2.20" fill="#37399a"/>
<circle cx="71.5" cy="403.9" r="1.90" fill="#37399a"/>
<circle cx="81.2" cy="387.2" r="1.50" fill="#37399a"/>
<circle cx="91.4" cy="387.2" r="2.20" fill="#37399a"/>
<circle cx="101.3" cy="387.2" r="2.20" fill="#37399a"/>
<circle cx="71.5" cy="354.2" r="1.00" fill="#f4f0f8"/>
<circle cx="81.2" cy="354.2" r="1.00" fill="#e8def0"/>
<circle cx="91.4" cy="354.2" r="1.00" fill="#ddd0ea"/>
<text transform="translate(4.8,384.4) rotate(-90)" x="0" y="2.3" font-size="6.5" text-anchor="middle" fill="#1e1e1e">Clusters</text>
<line x1="21.8" y1="429.9" x2="21.8" y2="431.4" stroke="#444" stroke-width="0.5"/>
<text transform="translate(23.8,433.8) rotate(-45)" x="0" y="2.3" font-size="6.4" text-anchor="end" font-weight="bold">ENG</text>
<line x1="31.7" y1="429.9" x2="31.7" y2="431.4" stroke="#444" stroke-width="0.5"/>
<text transform="translate(33.7,433.8) rotate(-45)" x="0" y="2.3" font-size="6.4" text-anchor="end">APOD</text>
<line x1="41.7" y1="429.9" x2="41.7" y2="431.4" stroke="#444" stroke-width="0.5"/>
<text transform="translate(43.7,433.8) rotate(-45)" x="0" y="2.3" font-size="6.4" text-anchor="end">SFRP4</text>
<line x1="51.4" y1="429.9" x2="51.4" y2="431.4" stroke="#444" stroke-width="0.5"/>
<text transform="translate(53.4,433.8) rotate(-45)" x="0" y="2.3" font-size="6.4" text-anchor="end" font-weight="bold">WT1</text>
<line x1="61.3" y1="429.9" x2="61.3" y2="431.4" stroke="#444" stroke-width="0.5"/>
<text transform="translate(63.3,433.8) rotate(-45)" x="0" y="2.3" font-size="6.4" text-anchor="end">PLA2G2A</text>
<line x1="71.5" y1="429.9" x2="71.5" y2="431.4" stroke="#444" stroke-width="0.5"/>
<text transform="translate(73.5,433.8) rotate(-45)" x="0" y="2.3" font-size="6.4" text-anchor="end">HAS2</text>
<line x1="81.2" y1="429.9" x2="81.2" y2="431.4" stroke="#444" stroke-width="0.5"/>
<text transform="translate(83.2,433.8) rotate(-45)" x="0" y="2.3" font-size="6.4" text-anchor="end" font-weight="bold">LRRC15</text>
<line x1="91.4" y1="429.9" x2="91.4" y2="431.4" stroke="#444" stroke-width="0.5"/>
<text transform="translate(93.4,433.8) rotate(-45)" x="0" y="2.3" font-size="6.4" text-anchor="end">COL11A1</text>
<line x1="101.3" y1="429.9" x2="101.3" y2="431.4" stroke="#444" stroke-width="0.5"/>
<text transform="translate(103.3,433.8) rotate(-45)" x="0" y="2.3" font-size="6.4" text-anchor="end">MMP11</text>
<text x="110.6" y="348.7" font-size="6.6" fill="#1e1e1e">Scaled</text>
<text x="110.6" y="355.5" font-size="6.6" fill="#1e1e1e">expression</text>
<defs><linearGradient id="sg" x1="0" y1="0" x2="0" y2="1"><stop offset="0" stop-color="#3a3894"/><stop offset="0.5" stop-color="#8a7cc0"/><stop offset="1" stop-color="#f8f4fa"/></linearGradient></defs>
<rect x="111.2" y="359.0" width="5.6" height="27.4" fill="url(#sg)"/>
<text x="118.9" y="364.3" font-size="6.6" fill="#1e1e1e">1.5</text>
<text x="118.9" y="371.2" font-size="6.6" fill="#1e1e1e">1.0</text>
<text x="118.9" y="379.0" font-size="6.6" fill="#1e1e1e">0.5</text>
<text x="118.9" y="386.8" font-size="6.6" fill="#1e1e1e">0.0</text>
<text x="110.6" y="399.3" font-size="6.6" fill="#1e1e1e">Percent</text>
<text x="110.6" y="406.2" font-size="6.6" fill="#1e1e1e">expressed</text>
<circle cx="113.6" cy="410.5" r="0.70" fill="#111"/>
<text x="118.9" y="412.9" font-size="6.6" fill="#1e1e1e">25</text>
<circle cx="113.6" cy="415.8" r="1.30" fill="#111"/>
<text x="118.9" y="418.2" font-size="6.6" fill="#1e1e1e">50</text>
<circle cx="113.6" cy="421.9" r="1.80" fill="#111"/>
<text x="118.9" y="424.3" font-size="6.6" fill="#1e1e1e">75</text>
<text x="109.3" y="432.0" font-size="6.5" fill="#1e1e1e">Cluster annotation</text>
<rect x="109.2" y="435.1" width="62.3" height="30.9" fill="none" stroke="#555" stroke-width="0.6"/>
<text x="110.8" y="442.3" font-size="6.8" fill="#1e1e1e" textLength="46.3" lengthAdjust="spacingAndGlyphs">0 = ENG<tspan baseline-shift="super" font-size="4">+</tspan> CAFs</text>
<text x="110.8" y="448.3" font-size="6.8" fill="#1e1e1e" textLength="47.0" lengthAdjust="spacingAndGlyphs">4 = Proliferating</text>
<text x="110.8" y="454.1" font-size="6.8" fill="#1e1e1e" textLength="28.1" lengthAdjust="spacingAndGlyphs">3 = CAPs</text>
<text x="110.8" y="460.1" font-size="6.8" fill="#1e1e1e" textLength="57.8" lengthAdjust="spacingAndGlyphs">2 = LRRC15<tspan baseline-shift="super" font-size="4">+</tspan> CAFs</text>
<text x="110.8" y="466.0" font-size="6.8" fill="#1e1e1e" textLength="45.6" lengthAdjust="spacingAndGlyphs">1 = WT1<tspan baseline-shift="super" font-size="4">+</tspan> CAFs</text>
<text x="324.4" y="511.8" font-size="10" font-weight="bold" fill="#000">K</text>
<rect x="358.6" y="508.1" width="63.9" height="94.5" fill="none" stroke="#444" stroke-width="0.8"/>
<rect x="360.0" y="508.1" width="14.1" height="82.8" fill="#d9665f"/>
<rect x="360.0" y="590.9" width="14.1" height="8.3" fill="#a6a22e"/>
<rect x="360.0" y="599.2" width="14.1" height="2.7" fill="#5ea2e0"/>
<text x="367.1" y="554.9" font-size="6.5" text-anchor="middle">0</text>
<rect x="375.6" y="508.1" width="14.0" height="8.3" fill="#d9665f"/>
<rect x="375.6" y="516.4" width="14.0" height="79.3" fill="#a6a22e"/>
<rect x="375.6" y="595.7" width="14.0" height="6.2" fill="#5ea2e0"/>
<text x="382.6" y="554.9" font-size="6.5" text-anchor="middle">1</text>
<rect x="391.1" y="508.1" width="13.9" height="5.8" fill="#d9665f"/>
<rect x="391.1" y="513.9" width="13.9" height="2.9" fill="#a6a22e"/>
<rect x="391.1" y="516.8" width="13.9" height="84.5" fill="#b471b8"/>
<rect x="391.1" y="601.3" width="13.9" height="0.6" fill="#4fa36a"/>
<text x="398.1" y="554.9" font-size="6.5" text-anchor="middle">4</text>
<rect x="406.4" y="508.1" width="14.1" height="16.7" fill="#d9665f"/>
<rect x="406.4" y="524.8" width="14.1" height="76.2" fill="#5ea2e0"/>
<rect x="406.4" y="601.0" width="14.1" height="0.9" fill="#b471b8"/>
<text x="413.4" y="554.9" font-size="6.5" text-anchor="middle">3</text>
<text x="367.1" y="611.0" font-size="6.5" text-anchor="middle" fill="#1e1e1e">A</text>
<line x1="367.1" y1="602.6" x2="367.1" y2="603.9" stroke="#444" stroke-width="0.5"/>
<text x="382.6" y="611.0" font-size="6.5" text-anchor="middle" fill="#1e1e1e">B</text>
<line x1="382.6" y1="602.6" x2="382.6" y2="603.9" stroke="#444" stroke-width="0.5"/>
<text x="398.1" y="611.0" font-size="6.5" text-anchor="middle" fill="#1e1e1e">C</text>
<line x1="398.1" y1="602.6" x2="398.1" y2="603.9" stroke="#444" stroke-width="0.5"/>
<text x="413.4" y="611.0" font-size="6.5" text-anchor="middle" fill="#1e1e1e">D</text>
<line x1="413.4" y1="602.6" x2="413.4" y2="603.9" stroke="#444" stroke-width="0.5"/>
<text x="356.6" y="510.3" font-size="6.2" text-anchor="end" fill="#1e1e1e">1.00</text>
<line x1="357.0" y1="508.1" x2="358.6" y2="508.1" stroke="#444" stroke-width="0.5"/>
<text x="356.6" y="533.7" font-size="6.2" text-anchor="end" fill="#1e1e1e">0.75</text>
<line x1="357.0" y1="531.5" x2="358.6" y2="531.5" stroke="#444" stroke-width="0.5"/>
<text x="356.6" y="557.1" font-size="6.2" text-anchor="end" fill="#1e1e1e">0.50</text>
<line x1="357.0" y1="554.9" x2="358.6" y2="554.9" stroke="#444" stroke-width="0.5"/>
<text x="356.6" y="580.6" font-size="6.2" text-anchor="end" fill="#1e1e1e">0.25</text>
<line x1="357.0" y1="578.4" x2="358.6" y2="578.4" stroke="#444" stroke-width="0.5"/>
<text x="356.6" y="604.1" font-size="6.2" text-anchor="end" fill="#1e1e1e">0.00</text>
<line x1="357.0" y1="601.9" x2="358.6" y2="601.9" stroke="#444" stroke-width="0.5"/>
<text transform="translate(339.6,549.3) rotate(-90)" x="0" y="2.3" font-size="6.4" text-anchor="middle" fill="#1e1e1e">Proportion</text>
<text x="391.9" y="618.3" font-size="6.5" text-anchor="middle" fill="#1e1e1e">Normal clusters</text>
<text x="429.6" y="530.2" font-size="6.6" fill="#1e1e1e">Predicted PDAC</text>
<text x="429.6" y="538.0" font-size="6.6" fill="#1e1e1e">cluster</text>
<rect x="424.6" y="542.1" width="7.0" height="6.6" fill="#d9665f"/>
<text x="434.6" y="547.7" font-size="6.5" fill="#1e1e1e">0 - ENG<tspan baseline-shift="super" font-size="4">+</tspan> CAFs</text>
<rect x="424.6" y="549.4" width="7.0" height="6.6" fill="#a6a22e"/>
<text x="434.6" y="555.0" font-size="6.5" fill="#1e1e1e">1 - WT1<tspan baseline-shift="super" font-size="4">+</tspan> CAFs</text>
<rect x="424.6" y="556.9" width="7.0" height="6.6" fill="#4fa36a"/>
<text x="434.6" y="562.5" font-size="6.5" fill="#1e1e1e">2 - LRRC15<tspan baseline-shift="super" font-size="4">+</tspan> CAFs</text>
<rect x="424.6" y="564.1" width="7.0" height="6.6" fill="#5ea2e0"/>
<text x="434.6" y="569.7" font-size="6.5" fill="#1e1e1e">3 - CAPs</text>
<rect x="424.6" y="571.1" width="7.0" height="6.6" fill="#b471b8"/>
<text x="434.6" y="576.7" font-size="6.5" fill="#1e1e1e">4 - Proliferating cells</text>
<defs><g id="rc"><path d="M4.11,1.27 L1.29,1.39 L0.73,3.22 L-0.56,1.82 L-2.93,2.72 L-1.85,0.42 L-3.34,-1.03 L-1.29,-1.39 L-0.98,-4.29 L0.56,-1.82 L2.35,-2.17 L1.85,-0.42Z" fill="#e0243a" stroke="#e0243a" stroke-width="1.1" stroke-linejoin="round"/><path d="M-2.2,-1.2 q0.8,-1.2 1.8,-0.3 M1.2,1.4 q0.9,0.6 1.5,-0.4 M-1.6,1.6 q-0.5,0.8 0.4,1.2" stroke="#f8c8d0" stroke-width="0.45" fill="none"/><ellipse rx="1.6" ry="0.7" fill="#4a36a8"/></g><g id="gc"><circle r="3.2" fill="#8cc63e" stroke="#5c9c28" stroke-width="0.7"/><circle r="1.3" fill="#3a30b0"/></g><g id="pc"><ellipse rx="3.3" ry="1.35" fill="#5b2c90"/><ellipse rx="1.4" ry="0.5" fill="#3a2a9c"/></g><g id="mc"><ellipse rx="4.4" ry="0.85" fill="#c8288e"/><ellipse rx="1.5" ry="0.4" fill="#6a2a90"/></g></defs>
<text x="2.9" y="9.0" font-size="10" font-weight="bold" fill="#000">A</text>
<text x="30.0" y="10.5" font-size="7.9" text-anchor="middle" fill="#1e1e1e" textLength="20.5" lengthAdjust="spacingAndGlyphs">Tumor</text>
<text x="29.6" y="19.0" font-size="7.9" text-anchor="middle" fill="#1e1e1e" textLength="23.5" lengthAdjust="spacingAndGlyphs">sample</text>
<text x="87.3" y="10.7" font-size="7.9" text-anchor="middle" fill="#1e1e1e" textLength="39.3" lengthAdjust="spacingAndGlyphs">Dissociation</text>
<text x="153.3" y="10.7" font-size="7.9" text-anchor="middle" fill="#1e1e1e" textLength="43" lengthAdjust="spacingAndGlyphs">FACS sorting</text>
<text x="240.5" y="10.7" font-size="7.9" text-anchor="middle" fill="#1e1e1e" textLength="60.5" lengthAdjust="spacingAndGlyphs">Single-cell capture</text>
<text x="70.6" y="107.9" font-size="6.4" fill="#1e1e1e">Single-cell</text>
<text x="70.6" y="115.5" font-size="6.4" fill="#1e1e1e">suspension</text>
<path d="M16.2,33.4 C18.8,31.8 27.3,34.7 33.0,35.5 C38.7,36.3 47.4,36.2 50.6,38.1 C53.9,40.0 52.3,43.9 52.5,47.0 C52.7,50.1 52.5,54.2 52.0,57.0 C51.5,59.8 50.4,61.5 49.5,64.0 C48.6,66.5 47.9,69.7 46.5,72.0 C45.1,74.3 42.8,76.0 41.0,78.0 C39.2,80.0 36.9,81.2 36.0,84.0 C35.1,86.8 38.2,93.6 35.5,95.0 C32.8,96.4 25.6,93.5 20.0,92.5 C14.4,91.5 5.4,91.3 2.2,89.2 C-1.0,87.1 1.0,83.2 0.8,80.0 C0.6,76.8 0.3,72.2 1.2,70.0 C2.1,67.8 4.2,67.8 6.0,66.5 C7.8,65.2 10.2,63.8 12.0,62.0 C13.8,60.2 16.1,58.8 17.0,56.0 C17.9,53.2 17.6,48.8 17.5,45.0 C17.4,41.2 13.6,35.0 16.2,33.4Z" fill="#ebe3f3"/>
<path d="M20,36 L21,55 M30,36 L31,55 M40,37 L41,56 M10,70 L10,90 M20,72 L20,92 M30,76 L30,94" stroke="#e2d6ee" stroke-width="0.6"/>
<use href="#mc" transform="translate(24.2,46.2) rotate(-30)"/>
<use href="#mc" transform="translate(41.5,44.5) rotate(80)"/>
<use href="#mc" transform="translate(49.5,59.1) rotate(30)"/>
<use href="#mc" transform="translate(7.0,70.4)"/>
<use href="#mc" transform="translate(50.6,60.2) rotate(25)"/>
<use href="#mc" transform="translate(25.3,78.5) rotate(75)"/>
<use href="#mc" transform="translate(11.8,84.9) rotate(-40)"/>
<use href="#pc" transform="translate(35.5,42.9) rotate(-20)"/>
<use href="#pc" transform="translate(45.8,40.8) rotate(60)"/>
<use href="#pc" transform="translate(29.1,48.3) rotate(-5)"/>
<use href="#pc" transform="translate(39.8,51.5) rotate(20)"/>
<use href="#pc" transform="translate(23.2,53.2) rotate(-50)"/>
<use href="#pc" transform="translate(48.5,55.3) rotate(-20)"/>
<use href="#pc" transform="translate(15.1,73.6) rotate(15)"/>
<use href="#pc" transform="translate(19.4,80.6) rotate(-30)"/>
<use href="#pc" transform="translate(4.3,86.0) rotate(80)"/>
<use href="#pc" transform="translate(23.2,86.2)"/>
<use href="#pc" transform="translate(32.8,79.5) rotate(-5)"/>
<use href="#rc" transform="translate(25.3,39.2) rotate(20) scale(0.95)"/>
<use href="#rc" transform="translate(47.9,48.3) rotate(60) scale(0.95)"/>
<use href="#rc" transform="translate(8.6,76.8) rotate(9) scale(0.95)"/>
<use href="#rc" transform="translate(31.8,89.2) rotate(25) scale(0.95)"/>
<use href="#rc" transform="translate(14.0,59.1) rotate(41) scale(0.9)"/>
<use href="#rc" transform="translate(19.9,56.4) rotate(3) scale(0.9)"/>
<use href="#rc" transform="translate(28.5,56.4) rotate(4) scale(0.9)"/>
<use href="#rc" transform="translate(36.6,55.3) rotate(52) scale(0.9)"/>
<use href="#rc" transform="translate(43.6,58.0) rotate(34) scale(0.9)"/>
<use href="#rc" transform="translate(14.0,61.8) rotate(6) scale(0.9)"/>
<use href="#rc" transform="translate(17.2,67.7) rotate(23) scale(0.9)"/>
<use href="#rc" transform="translate(22.6,72.0) rotate(37) scale(0.9)"/>
<use href="#rc" transform="translate(31.8,72.5) rotate(3) scale(0.9)"/>
<use href="#rc" transform="translate(38.8,71.5) rotate(58) scale(0.9)"/>
<use href="#rc" transform="translate(45.2,67.2) rotate(32) scale(0.9)"/>
<use href="#rc" transform="translate(43.1,61.2) rotate(13) scale(0.9)"/>
<use href="#rc" transform="translate(26.9,59.1) rotate(2) scale(0.9)"/>
<use href="#gc" transform="translate(20.5,65.0)"/>
<use href="#gc" transform="translate(25.8,62.8)"/>
<use href="#gc" transform="translate(32.3,62.8)"/>
<use href="#gc" transform="translate(25.8,68.2)"/>
<use href="#gc" transform="translate(32.3,67.7)"/>
<use href="#gc" transform="translate(39.3,65.5)"/>
<circle cx="16.8" cy="64.5" r="1.60" fill="#c05a20" opacity="0.8"/>
<line x1="57.2" y1="63.8" x2="67.6" y2="63.8" stroke="#111" stroke-width="1.3"/>
<path d="M70.8,63.8 L67.6,65.8 L67.6,61.8Z" fill="#111"/>
<line x1="106.3" y1="63.8" x2="122.3" y2="63.8" stroke="#111" stroke-width="1.3"/>
<path d="M125.5,63.8 L122.3,65.8 L122.3,61.8Z" fill="#111"/>
<path d="M74.0,41.0 L74.0,83.3 Q74.0,92.0 88.5,92.0 Q103.0,92.0 103.0,83.3 L103.0,41.0" fill="#fbfbfb" stroke="#555" stroke-width="0.7"/>
<ellipse cx="88.5" cy="41.0" rx="14.5" ry="3.4" fill="#fdfdfd" stroke="#555" stroke-width="0.6"/>
<use href="#gc" transform="translate(81.5,51.5) scale(1.4)"/>
<use href="#gc" transform="translate(96.5,49.0) scale(1.4)"/>
<use href="#gc" transform="translate(84.0,82.5) scale(1.4)"/>
<use href="#gc" transform="translate(94.5,84.5) scale(1.4)"/>
<use href="#mc" transform="translate(92.0,54.0) rotate(25) scale(1.5)"/>
<use href="#mc" transform="translate(86.5,65.0) rotate(-45) scale(1.5)"/>
<use href="#mc" transform="translate(81.0,69.5) rotate(15) scale(1.5)"/>
<use href="#mc" transform="translate(91.5,76.0) rotate(80) scale(1.5)"/>
<use href="#pc" transform="translate(87.5,47.5) scale(1.5)"/>
<use href="#pc" transform="translate(90.5,59.0) rotate(-20) scale(1.5)"/>
<use href="#pc" transform="translate(95.0,70.0) rotate(50) scale(1.5)"/>
<use href="#pc" transform="translate(85.0,86.5) rotate(60) scale(1.5)"/>
<use href="#rc" transform="translate(80.0,58.5) rotate(5) scale(1.1)"/>
<use href="#rc" transform="translate(98.0,61.0) rotate(27) scale(1.1)"/>
<use href="#rc" transform="translate(85.0,75.5) rotate(26) scale(1.1)"/>
<use href="#rc" transform="translate(98.0,73.0) rotate(4) scale(1.1)"/>
<path d="M134.5,17 L134.5,40 L148.8,52.5 M174.5,17 L174.5,43.8 L162.5,52.5" fill="none" stroke="#222" stroke-width="1.1"/>
<use href="#mc" transform="translate(141.1,21.2) rotate(35) scale(0.85)"/>
<use href="#mc" transform="translate(141.1,43.7) rotate(-50) scale(0.85)"/>
<use href="#mc" transform="translate(160.2,40.3) rotate(-30) scale(0.85)"/>
<use href="#mc" transform="translate(170.0,31.0) rotate(-60) scale(0.85)"/>
<use href="#pc" transform="translate(160.2,21.2) rotate(40) scale(0.95)"/>
<use href="#pc" transform="translate(137.7,30.8) rotate(70) scale(0.95)"/>
<use href="#pc" transform="translate(163.6,42.0) rotate(-10) scale(0.95)"/>
<use href="#pc" transform="translate(158.4,31.6) rotate(-20) scale(0.95)"/>
<use href="#rc" transform="translate(147.2,27.3) rotate(15)"/>
<use href="#rc" transform="translate(148.1,36.8) rotate(5)"/>
<use href="#rc" transform="translate(162.8,36.0) rotate(35)"/>
<use href="#gc" transform="translate(156.7,26.4) scale(1.05,0.9)"/>
<use href="#gc" transform="translate(141.1,38.5) scale(1.05,0.9)"/>
<use href="#gc" transform="translate(154.1,38.5) scale(1.05,0.9)"/>
<use href="#gc" transform="translate(155,45.5) scale(1.05,0.9)"/>
<use href="#mc" transform="translate(156.7,51.5) rotate(-40) scale(0.75)"/>
<use href="#mc" transform="translate(150.7,55.8) rotate(-30) scale(0.75)"/>
<use href="#mc" transform="translate(141.1,60.2) rotate(-35) scale(0.75)"/>
<use href="#mc" transform="translate(130.8,67.1) rotate(-45) scale(0.75)"/>
<use href="#mc" transform="translate(126.4,75.7) rotate(-60) scale(0.75)"/>
<use href="#mc" transform="translate(123.8,82.7) rotate(-70) scale(0.75)"/>
<use href="#mc" transform="translate(122.1,91.3) rotate(-80) scale(0.75)"/>
<use href="#gc" transform="translate(142.9,66.2) scale(1.0,0.8)"/>
<use href="#gc" transform="translate(142.9,75.7) scale(1.0,0.8)"/>
<use href="#gc" transform="translate(142.9,84.4) scale(1.0,0.8)"/>
<use href="#gc" transform="translate(142.9,93.9) scale(1.0,0.8)"/>
<use href="#pc" transform="translate(159.3,63.6) rotate(-15) scale(0.9)"/>
<use href="#pc" transform="translate(160.2,71.4) rotate(-15) scale(0.9)"/>
<use href="#pc" transform="translate(161.9,80.0) rotate(-15) scale(0.9)"/>
<use href="#pc" transform="translate(162.8,87.0) rotate(-15) scale(0.9)"/>
<use href="#pc" transform="translate(162.8,93.9) rotate(-15) scale(0.9)"/>
<use href="#rc" transform="translate(169.7,63.6) rotate(27) scale(0.95)"/>
<use href="#rc" transform="translate(175.7,71.4) rotate(3) scale(0.95)"/>
<use href="#rc" transform="translate(181.8,79.2) rotate(52) scale(0.95)"/>
<use href="#rc" transform="translate(185.3,88.7) rotate(36) scale(0.95)"/>
<path d="M116.0,87.0 L116.0,103.1 Q116.0,106.9 122.35,106.9 Q128.7,106.9 128.7,103.1 L128.7,87.0" fill="#fbfbfb" stroke="#555" stroke-width="0.7"/>
<ellipse cx="122.35" cy="87.0" rx="6.349999999999994" ry="1.2" fill="#fdfdfd" stroke="#555" stroke-width="0.6"/>
<path d="M135.6,89.6 L135.6,103.3 Q135.6,106.9 141.64999999999998,106.9 Q147.7,106.9 147.7,103.3 L147.7,89.6" fill="#fbfbfb" stroke="#555" stroke-width="0.7"/>
<ellipse cx="141.64999999999998" cy="89.6" rx="6.049999999999997" ry="1.2" fill="#fdfdfd" stroke="#555" stroke-width="0.6"/>
<path d="M157.6,89.6 L157.6,103.3 Q157.6,106.9 163.64999999999998,106.9 Q169.7,106.9 169.7,103.3 L169.7,89.6" fill="#fbfbfb" stroke="#555" stroke-width="0.7"/>
<ellipse cx="163.64999999999998" cy="89.6" rx="6.049999999999997" ry="1.2" fill="#fdfdfd" stroke="#555" stroke-width="0.6"/>
<path d="M180.0,86.1 L180.0,102.5 Q180.0,106.0 185.85,106.0 Q191.7,106.0 191.7,102.5 L191.7,86.1" fill="#fbfbfb" stroke="#555" stroke-width="0.7"/>
<ellipse cx="185.85" cy="86.1" rx="5.849999999999994" ry="1.2" fill="#fdfdfd" stroke="#555" stroke-width="0.6"/>
<use href="#mc" transform="translate(120.0,101.0) rotate(-20) scale(0.75)"/>
<use href="#mc" transform="translate(124.0,103.0) rotate(20) scale(0.75)"/>
<use href="#mc" transform="translate(122.0,98.0) rotate(-40) scale(0.75)"/>
<use href="#mc" transform="translate(125.0,100.0) rotate(60) scale(0.75)"/>
<use href="#mc" transform="translate(119.0,103.5) rotate(10) scale(0.75)"/>
<use href="#gc" transform="translate(139.5,103.5) scale(0.85,0.75)"/>
<use href="#gc" transform="translate(144,103.5) scale(0.85,0.75)"/>
<use href="#gc" transform="translate(141.7,100.5) scale(0.85,0.75)"/>
<path d="M158.8,104.5 Q158,99 160.5,99.5 Q162,97 164.5,99 Q168.5,100 168,104.5 Q163,107.5 158.8,104.5Z" fill="#4a2a9a"/>
<use href="#rc" transform="translate(183.5,97.0) rotate(7) scale(0.85)"/>
<use href="#rc" transform="translate(188.0,99.0) rotate(60) scale(0.85)"/>
<use href="#rc" transform="translate(184.0,102.5) rotate(14) scale(0.85)"/>
<use href="#rc" transform="translate(188.5,103.0) rotate(40) scale(0.85)"/>
<use href="#rc" transform="translate(186.0,94.0) rotate(40) scale(0.85)"/>
<text x="140.8" y="117.8" font-size="6.3" text-anchor="middle">CD31<tspan baseline-shift="super" font-size="4">+</tspan></text>
<text x="164.2" y="117.8" font-size="6.3" text-anchor="middle">CD45<tspan baseline-shift="super" font-size="4">+</tspan></text>
<text x="141.3" y="124.4" font-size="6.3" text-anchor="middle">EPCAM<tspan baseline-shift="super" font-size="4">+</tspan></text>
<text x="186.6" y="117.6" font-size="6.3" text-anchor="middle">FAP<tspan baseline-shift="super" font-size="4">+</tspan></text>
<line x1="190.5" y1="88.5" x2="205.6" y2="67.0" stroke="#222" stroke-width="0.6"/>
<path d="M207.0,65.0 L206.7,67.7 L204.6,66.2Z" fill="#222"/>
<text x="227.8" y="36.2" font-size="6.3" text-anchor="middle" fill="#1e1e1e">Single-cell</text>
<text x="227.8" y="43.7" font-size="6.3" text-anchor="middle" fill="#1e1e1e">suspension</text>
<use href="#rc" transform="translate(213.7,57.3) scale(1.2)"/>
<use href="#rc" transform="translate(224.3,50.7) scale(1.2)"/>
<use href="#rc" transform="translate(225.8,59.9) scale(1.2)"/>
<line x1="220.0" y1="66.0" x2="220.0" y2="82.5" stroke="#111" stroke-width="2.0"/>
<line x1="220.0" y1="74.3" x2="232.0" y2="74.3" stroke="#111" stroke-width="1.8"/>
<path d="M235.6,74.3 L232.0,76.5 L232.0,72.1Z" fill="#111"/>
<circle cx="217.0" cy="86.3" r="1.90" fill="#1a1a1a"/>
<circle cx="225.5" cy="86.3" r="1.90" fill="#1a1a1a"/>
<circle cx="221.2" cy="90.5" r="1.90" fill="#1a1a1a"/>
<text x="220.7" y="99.9" font-size="6.3" text-anchor="middle" fill="#1e1e1e">Barcoded</text>
<text x="220.7" y="107.8" font-size="6.3" text-anchor="middle" fill="#1e1e1e">beads</text>
<text x="259.0" y="22.6" font-size="6.3" text-anchor="middle" fill="#1e1e1e">Oil</text>
<line x1="259.4" y1="25.5" x2="259.4" y2="35.4" stroke="#111" stroke-width="2.2"/>
<path d="M259.4,38.0 L257.8,35.4 L261.0,35.4Z" fill="#111"/>
<path d="M254.2,40 L254.2,69 L236.1,69 M236.1,78.2 L254.2,78.2 L254.2,107.7 M264.2,40 L264.2,67.5 Q265.5,63.4 269.5,63.4 L292.6,63.4 M264.2,107.7 L264.2,79.5 Q265.5,83.5 269.5,83.5 L292.6,83.5" fill="none" stroke="#333" stroke-width="0.9"/>
<ellipse cx="280.0" cy="73.6" rx="10.6" ry="9.8" fill="none" stroke="#222" stroke-width="0.8"/>
<use href="#rc" transform="translate(284.8,70.6) scale(1.15)"/>
<circle cx="280.0" cy="79.4" r="1.90" fill="#1a1a1a"/>
<defs>
<filter id="nzB" filterUnits="userSpaceOnUse" x="160" y="330" width="360" height="180" color-interpolation-filters="sRGB"><feTurbulence type="fractalNoise" baseFrequency="0.75" numOctaves="2" seed="3" result="t"/><feColorMatrix in="t" type="matrix" values="0 0 0 0 0  0 0 0 0 0  0 0 0 0 0  4.0 0 0 0 -1.78" result="m"/><feComposite in="SourceGraphic" in2="m" operator="in"/></filter>
<filter id="nzB2" filterUnits="userSpaceOnUse" x="160" y="330" width="360" height="180" color-interpolation-filters="sRGB"><feTurbulence type="fractalNoise" baseFrequency="0.9" numOctaves="2" seed="5" result="t"/><feColorMatrix in="t" type="matrix" values="0 0 0 0 0  0 0 0 0 0  0 0 0 0 0  4.5 0 0 0 -1.6" result="m"/><feComposite in="SourceGraphic" in2="m" operator="in"/></filter>
<filter id="nzG2" filterUnits="userSpaceOnUse" x="160" y="330" width="360" height="180" color-interpolation-filters="sRGB"><feTurbulence type="fractalNoise" baseFrequency="0.9" numOctaves="2" seed="21" result="t"/><feColorMatrix in="t" type="matrix" values="0 0 0 0 0  0 0 0 0 0  0 0 0 0 0  3.2 0 0 0 -0.9" result="m"/><feGaussianBlur in="SourceGraphic" stdDeviation="2.2" result="bl"/><feComposite in="bl" in2="m" operator="in"/></filter>
<filter id="nzG" filterUnits="userSpaceOnUse" x="160" y="330" width="360" height="180" color-interpolation-filters="sRGB"><feTurbulence type="fractalNoise" baseFrequency="0.6" numOctaves="2" seed="8" result="t"/><feColorMatrix in="t" type="matrix" values="0 0 0 0 0  0 0 0 0 0  0 0 0 0 0  3.6 0 0 0 -1.35" result="m"/><feGaussianBlur in="SourceGraphic" stdDeviation="1.0" result="bl"/><feComposite in="bl" in2="m" operator="in"/></filter>
<filter id="nzR" filterUnits="userSpaceOnUse" x="160" y="330" width="360" height="180" color-interpolation-filters="sRGB"><feTurbulence type="fractalNoise" baseFrequency="0.6" numOctaves="2" seed="11" result="t"/><feColorMatrix in="t" type="matrix" values="0 0 0 0 0  0 0 0 0 0  0 0 0 0 0  3.5 0 0 0 -1.3" result="m"/><feGaussianBlur in="SourceGraphic" stdDeviation="0.6" result="bl"/><feComposite in="bl" in2="m" operator="in"/></filter>
<filter id="sb" x="-20%" y="-20%" width="140%" height="140%"><feGaussianBlur stdDeviation="0.7"/></filter>
<filter id="sb2" x="-20%" y="-20%" width="140%" height="140%"><feGaussianBlur stdDeviation="0.65"/></filter>
<filter id="hz" x="-50%" y="-50%" width="200%" height="200%"><feGaussianBlur stdDeviation="3"/></filter>
</defs>
<text x="164.6" y="341.8" font-size="10" font-weight="bold" fill="#000">H</text>
<clipPath id="cb0"><rect x="179.2" y="345.6" width="78.8" height="84.4"/></clipPath>
<clipPath id="cs0"><rect x="185.0" y="432.0" width="67.7" height="67.0"/></clipPath>
<text x="218.6" y="345.1" font-size="6.4" text-anchor="middle">ENG<tspan baseline-shift="super" font-size="4">+</tspan> CAFs</text>
<clipPath id="cb1"><rect x="260.0" y="345.6" width="78.8" height="84.4"/></clipPath>
<clipPath id="cs1"><rect x="265.4" y="432.0" width="67.6" height="67.0"/></clipPath>
<text x="299.4" y="345.1" font-size="6.4" text-anchor="middle">LRRC15<tspan baseline-shift="super" font-size="4">+</tspan> CAFs</text>
<clipPath id="cb2"><rect x="340.4" y="345.6" width="77.9" height="84.4"/></clipPath>
<clipPath id="cs2"><rect x="345.8" y="432.0" width="67.7" height="67.0"/></clipPath>
<text x="379.4" y="345.1" font-size="6.4" text-anchor="middle">WT1<tspan baseline-shift="super" font-size="4">+</tspan> CAFs</text>
<clipPath id="cb3"><rect x="420.0" y="345.6" width="78.3" height="84.4"/></clipPath>
<clipPath id="cs3"><rect x="425.2" y="432.0" width="67.5" height="67.0"/></clipPath>
<text x="459.1" y="345.1" font-size="6.4" text-anchor="middle">CAPs</text>
<g clip-path="url(#cb0)">
<rect x="179.2" y="345.6" width="78.8" height="84.4" fill="#03030a"/>
<rect x="179.2" y="345.6" width="78.8" height="84.4" fill="#1c2aa4" filter="url(#nzB)" opacity="0.7"/>
<g filter="url(#nzG2)" fill="#40b43a"><ellipse cx="194" cy="376" rx="6" ry="17" opacity="0.75" transform="rotate(-30 194 376)"/><ellipse cx="203" cy="393" rx="4" ry="6" opacity="0.54" transform="rotate(0 203 393)"/><ellipse cx="222" cy="368" rx="8" ry="4" opacity="0.42" transform="rotate(0 222 368)"/><ellipse cx="235" cy="380" rx="6" ry="3" opacity="0.33" transform="rotate(0 235 380)"/><ellipse cx="248" cy="392" rx="3" ry="7" opacity="0.36" transform="rotate(0 248 392)"/><ellipse cx="240" cy="420" rx="8" ry="4" opacity="0.39" transform="rotate(-40 240 420)"/></g>
<g filter="url(#nzG)" opacity="0.8">
<g fill="#44b83a" opacity="1.0"><ellipse cx="205.8" cy="394.7" rx="1.9" ry="1.1" transform="rotate(42 205.8 394.7)"/><ellipse cx="190.1" cy="382.1" rx="3.0" ry="1.7" transform="rotate(108 190.1 382.1)"/><ellipse cx="191.7" cy="372.8" rx="2.0" ry="1.1" transform="rotate(131 191.7 372.8)"/><ellipse cx="200.1" cy="393.1" rx="3.5" ry="1.9" transform="rotate(101 200.1 393.1)"/><ellipse cx="194.0" cy="383.2" rx="3.5" ry="1.9" transform="rotate(7 194.0 383.2)"/><ellipse cx="201.5" cy="396.3" rx="3.1" ry="1.7" transform="rotate(14 201.5 396.3)"/><ellipse cx="190.8" cy="389.8" rx="2.7" ry="1.5" transform="rotate(156 190.8 389.8)"/><ellipse cx="203.9" cy="387.7" rx="2.5" ry="1.4" transform="rotate(63 203.9 387.7)"/><ellipse cx="224.2" cy="368.5" rx="2.4" ry="1.3" transform="rotate(108 224.2 368.5)"/><ellipse cx="219.8" cy="370.8" rx="3.3" ry="1.8" transform="rotate(89 219.8 370.8)"/><ellipse cx="246.3" cy="397.6" rx="2.6" ry="1.4" transform="rotate(110 246.3 397.6)"/><ellipse cx="192.8" cy="390.2" rx="2.7" ry="1.5" transform="rotate(165 192.8 390.2)"/><ellipse cx="191.4" cy="381.2" rx="2.1" ry="1.2" transform="rotate(80 191.4 381.2)"/><ellipse cx="228.6" cy="367.7" rx="2.6" ry="1.5" transform="rotate(25 228.6 367.7)"/><ellipse cx="193.6" cy="374.4" rx="3.6" ry="2.0" transform="rotate(24 193.6 374.4)"/><ellipse cx="189.4" cy="373.1" rx="2.5" ry="1.4" transform="rotate(37 189.4 373.1)"/><ellipse cx="236.1" cy="417.2" rx="2.8" ry="1.5" transform="rotate(175 236.1 417.2)"/><ellipse cx="200.6" cy="391.6" rx="2.7" ry="1.5" transform="rotate(83 200.6 391.6)"/><ellipse cx="198.0" cy="374.9" rx="2.0" ry="1.1" transform="rotate(92 198.0 374.9)"/><ellipse cx="199.2" cy="391.7" rx="3.1" ry="1.7" transform="rotate(1 199.2 391.7)"/><ellipse cx="190.1" cy="363.6" rx="3.1" ry="1.7" transform="rotate(70 190.1 363.6)"/><ellipse cx="205.7" cy="392.4" rx="2.5" ry="1.4" transform="rotate(36 205.7 392.4)"/><ellipse cx="215.4" cy="368.4" rx="2.9" ry="1.6" transform="rotate(55 215.4 368.4)"/><ellipse cx="191.9" cy="360.9" rx="3.4" ry="1.9" transform="rotate(59 191.9 360.9)"/><ellipse cx="196.4" cy="365.9" rx="3.8" ry="2.1" transform="rotate(53 196.4 365.9)"/><ellipse cx="199.8" cy="392.9" rx="3.1" ry="1.7" transform="rotate(152 199.8 392.9)"/><ellipse cx="194.3" cy="386.7" rx="3.5" ry="2.0" transform="rotate(36 194.3 386.7)"/><ellipse cx="229.1" cy="367.8" rx="2.8" ry="1.6" transform="rotate(39 229.1 367.8)"/><ellipse cx="195.8" cy="362.5" rx="2.6" ry="1.4" transform="rotate(159 195.8 362.5)"/><ellipse cx="190.6" cy="377.8" rx="2.8" ry="1.6" transform="rotate(182 190.6 377.8)"/><ellipse cx="197.0" cy="370.6" rx="3.2" ry="1.8" transform="rotate(135 197.0 370.6)"/><ellipse cx="193.4" cy="368.6" rx="3.7" ry="2.1" transform="rotate(84 193.4 368.6)"/><ellipse cx="198.8" cy="371.2" rx="2.8" ry="1.6" transform="rotate(117 198.8 371.2)"/><ellipse cx="195.0" cy="375.9" rx="3.1" ry="1.7" transform="rotate(90 195.0 375.9)"/><ellipse cx="200.7" cy="390.7" rx="3.8" ry="2.1" transform="rotate(30 200.7 390.7)"/></g>
</g>
<path d="M197.6,383.7h0M197.0,363.7h0M235.1,423.0h0M190.6,376.0h0M219.2,368.4h0M229.7,381.4h0M249.0,396.4h0M205.6,397.5h0M189.8,376.4h0M249.7,393.5h0M216.4,365.1h0M200.0,387.7h0M203.2,392.8h0M228.1,364.5h0M188.5,362.3h0M188.3,389.4h0M191.9,392.1h0M200.6,390.3h0M205.5,393.1h0M194.3,388.8h0M246.8,423.1h0M193.4,373.2h0M191.8,381.8h0M190.6,369.3h0M197.3,390.9h0M201.9,390.0h0M193.6,384.4h0M198.6,364.5h0M200.8,395.5h0M238.5,419.4h0M189.1,371.4h0M193.5,382.9h0M194.2,369.0h0M233.8,423.3h0M198.5,361.9h0M198.9,365.2h0M227.1,370.8h0M206.6,391.9h0M203.1,392.9h0M191.3,386.2h0M198.7,368.1h0M189.1,367.9h0M200.8,390.2h0M188.1,392.8h0M199.0,380.1h0M196.5,390.9h0M236.2,417.4h0M242.1,420.2h0M193.3,381.9h0M197.6,392.8h0M188.2,376.2h0M240.2,418.0h0M195.9,381.1h0M203.4,397.7h0M236.9,417.7h0M190.4,389.0h0M216.2,371.9h0M245.4,416.1h0M206.0,392.2h0M196.0,371.9h0M206.8,394.2h0M199.4,389.2h0M188.0,371.4h0M199.8,370.0h0M198.6,366.4h0M192.0,361.9h0M195.9,367.4h0M215.5,370.5h0M195.0,372.4h0M195.6,361.9h0" stroke="#48b83a" stroke-width="0.70" stroke-linecap="round" fill="none" opacity="0.7"/>
<g filter="url(#nzR)">
<g fill="#e8182a" opacity="1.0"><ellipse cx="196.2" cy="366.4" rx="3.3" ry="1.3" transform="rotate(145 196.2 366.4)"/><ellipse cx="247.0" cy="412.5" rx="2.1" ry="0.8" transform="rotate(97 247.0 412.5)"/><ellipse cx="223.4" cy="420.5" rx="2.4" ry="0.9" transform="rotate(126 223.4 420.5)"/><ellipse cx="225.1" cy="420.2" rx="3.1" ry="1.3" transform="rotate(10 225.1 420.2)"/><ellipse cx="222.6" cy="419.3" rx="2.8" ry="1.1" transform="rotate(-3 222.6 419.3)"/><ellipse cx="252.8" cy="416.8" rx="2.4" ry="1.0" transform="rotate(-10 252.8 416.8)"/><ellipse cx="238.2" cy="406.1" rx="2.4" ry="1.0" transform="rotate(30 238.2 406.1)"/><ellipse cx="231.1" cy="426.0" rx="3.0" ry="1.2" transform="rotate(98 231.1 426.0)"/><ellipse cx="225.8" cy="428.3" rx="2.0" ry="0.8" transform="rotate(115 225.8 428.3)"/><ellipse cx="233.5" cy="426.2" rx="2.1" ry="0.8" transform="rotate(14 233.5 426.2)"/><ellipse cx="181.7" cy="385.0" rx="2.8" ry="1.1" transform="rotate(130 181.7 385.0)"/><ellipse cx="180.5" cy="388.7" rx="3.4" ry="1.4" transform="rotate(7 180.5 388.7)"/><ellipse cx="236.4" cy="397.9" rx="2.4" ry="1.0" transform="rotate(158 236.4 397.9)"/><ellipse cx="247.1" cy="420.2" rx="2.4" ry="1.0" transform="rotate(35 247.1 420.2)"/><ellipse cx="250.0" cy="401.7" rx="2.3" ry="0.9" transform="rotate(182 250.0 401.7)"/><ellipse cx="187.6" cy="392.2" rx="2.0" ry="0.8" transform="rotate(69 187.6 392.2)"/><ellipse cx="247.5" cy="420.6" rx="2.2" ry="0.9" transform="rotate(105 247.5 420.6)"/><ellipse cx="244.3" cy="408.6" rx="2.9" ry="1.1" transform="rotate(82 244.3 408.6)"/><ellipse cx="235.0" cy="404.0" rx="2.2" ry="0.9" transform="rotate(52 235.0 404.0)"/><ellipse cx="242.9" cy="400.7" rx="1.5" ry="0.6" transform="rotate(123 242.9 400.7)"/><ellipse cx="180.4" cy="393.3" rx="1.7" ry="0.7" transform="rotate(177 180.4 393.3)"/><ellipse cx="224.6" cy="425.1" rx="2.8" ry="1.1" transform="rotate(100 224.6 425.1)"/><ellipse cx="192.4" cy="369.1" rx="3.0" ry="1.2" transform="rotate(138 192.4 369.1)"/><ellipse cx="184.2" cy="382.3" rx="3.3" ry="1.3" transform="rotate(88 184.2 382.3)"/><ellipse cx="186.9" cy="385.7" rx="2.7" ry="1.1" transform="rotate(40 186.9 385.7)"/><ellipse cx="245.6" cy="398.9" rx="1.8" ry="0.7" transform="rotate(66 245.6 398.9)"/><ellipse cx="237.3" cy="395.6" rx="2.3" ry="0.9" transform="rotate(42 237.3 395.6)"/><ellipse cx="252.7" cy="422.4" rx="1.7" ry="0.7" transform="rotate(103 252.7 422.4)"/><ellipse cx="243.6" cy="419.3" rx="3.0" ry="1.2" transform="rotate(79 243.6 419.3)"/><ellipse cx="242.1" cy="407.3" rx="2.1" ry="0.9" transform="rotate(79 242.1 407.3)"/><ellipse cx="188.6" cy="389.1" rx="2.3" ry="0.9" transform="rotate(123 188.6 389.1)"/><ellipse cx="238.1" cy="396.4" rx="2.6" ry="1.1" transform="rotate(72 238.1 396.4)"/><ellipse cx="240.8" cy="394.9" rx="1.7" ry="0.7" transform="rotate(157 240.8 394.9)"/><ellipse cx="243.9" cy="419.9" rx="3.1" ry="1.3" transform="rotate(159 243.9 419.9)"/><ellipse cx="238.9" cy="394.9" rx="3.4" ry="1.4" transform="rotate(71 238.9 394.9)"/><ellipse cx="198.3" cy="366.4" rx="2.4" ry="1.0" transform="rotate(92 198.3 366.4)"/><ellipse cx="186.8" cy="395.2" rx="1.7" ry="0.7" transform="rotate(157 186.8 395.2)"/><ellipse cx="227.3" cy="423.1" rx="3.1" ry="1.2" transform="rotate(-15 227.3 423.1)"/><ellipse cx="254.6" cy="419.6" rx="3.4" ry="1.4" transform="rotate(114 254.6 419.6)"/><ellipse cx="238.3" cy="399.5" rx="2.1" ry="0.8" transform="rotate(158 238.3 399.5)"/><ellipse cx="238.1" cy="401.7" rx="2.6" ry="1.0" transform="rotate(170 238.1 401.7)"/><ellipse cx="241.1" cy="398.7" rx="2.6" ry="1.0" transform="rotate(80 241.1 398.7)"/><ellipse cx="236.3" cy="400.5" rx="1.9" ry="0.8" transform="rotate(165 236.3 400.5)"/><ellipse cx="184.5" cy="393.8" rx="2.2" ry="0.9" transform="rotate(97 184.5 393.8)"/><ellipse cx="244.7" cy="421.8" rx="1.5" ry="0.6" transform="rotate(66 244.7 421.8)"/><ellipse cx="181.8" cy="388.1" rx="3.0" ry="1.2" transform="rotate(34 181.8 388.1)"/><ellipse cx="241.0" cy="400.3" rx="2.7" ry="1.1" transform="rotate(126 241.0 400.3)"/><ellipse cx="240.4" cy="401.0" rx="2.7" ry="1.1" transform="rotate(148 240.4 401.0)"/><ellipse cx="181.3" cy="384.7" rx="2.9" ry="1.2" transform="rotate(31 181.3 384.7)"/><ellipse cx="246.9" cy="420.5" rx="1.7" ry="0.7" transform="rotate(17 246.9 420.5)"/></g>
</g>
<path d="M248.4,417.5h0M243.4,407.4h0M194.4,364.1h0M179.8,386.6h0M226.2,426.6h0M244.4,398.9h0M216.8,426.1h0M184.4,387.0h0M243.7,401.6h0M244.0,420.0h0M235.0,401.4h0M216.2,420.9h0M185.1,385.5h0M248.9,394.7h0M251.0,424.8h0M243.3,403.5h0M233.9,419.7h0M217.1,426.2h0M244.6,406.6h0M231.3,420.3h0M226.2,408.9h0M242.6,396.4h0M246.7,401.4h0M226.9,424.1h0M229.8,400.5h0M247.7,418.7h0M183.3,380.9h0M185.2,382.8h0M249.7,409.6h0M180.3,387.3h0M219.7,424.4h0M230.2,426.8h0M232.7,398.3h0M232.2,401.0h0M181.4,384.1h0M218.8,419.6h0M231.9,402.4h0M241.6,417.4h0M179.0,394.9h0M236.8,400.0h0M219.7,419.5h0M253.2,413.1h0M184.1,382.2h0M252.4,420.6h0M185.4,391.8h0M226.9,399.4h0M189.0,379.7h0M254.6,423.0h0M223.2,422.7h0M241.2,410.5h0" stroke="#e8182a" stroke-width="0.70" stroke-linecap="round" fill="none" opacity="0.9"/>
<path d="M217.9,382.7h0M232.3,362.4h0M231.4,381.8h0M258.3,403.4h0M183.3,409.6h0M212.3,351.5h0M243.4,401.6h0M211.6,425.4h0M191.7,359.1h0M225.4,379.2h0M189.6,354.1h0M243.7,381.7h0M253.4,409.0h0M207.0,362.9h0M184.6,380.7h0M242.6,414.4h0M246.2,353.5h0M204.4,398.6h0M186.1,407.0h0M250.5,401.2h0M228.9,399.2h0M217.0,395.2h0M254.3,362.5h0M191.2,427.7h0M194.6,420.7h0M233.0,403.4h0M210.4,386.5h0M241.4,401.9h0M199.1,381.1h0M219.5,364.3h0M258.1,387.2h0M228.7,415.5h0M244.0,382.0h0M207.9,379.2h0M219.5,402.6h0M189.6,423.8h0M236.8,356.4h0M250.8,402.2h0M181.3,355.3h0M234.6,358.8h0M250.1,373.0h0M242.8,404.9h0M196.9,416.6h0M199.4,375.9h0M251.6,386.5h0M256.3,388.4h0M228.5,369.0h0M195.1,382.3h0M201.5,376.2h0M242.6,371.1h0M183.1,418.7h0M215.4,391.7h0M250.9,370.2h0M247.7,409.0h0M209.3,379.5h0M205.7,356.5h0M228.4,426.6h0M220.5,374.8h0M248.8,424.3h0M237.8,409.8h0M202.5,400.0h0M208.3,353.8h0M228.2,353.6h0M224.6,374.3h0M221.9,383.1h0M189.9,379.3h0M191.9,351.1h0M235.8,386.1h0M190.8,403.2h0M244.1,427.4h0" stroke="#b01828" stroke-width="0.60" stroke-linecap="round" fill="none" opacity="0.7"/>
<path d="M207.0,372.0 C208.3,370.2 211.0,370.0 213.0,371.0 C215.0,372.0 217.8,375.5 219.0,378.0 C220.2,380.5 220.7,383.7 220.0,386.0 C219.3,388.3 216.2,390.3 215.0,392.0 C213.8,393.7 211.8,395.0 213.0,396.0 C214.2,397.0 220.2,396.3 222.0,398.0 C223.8,399.7 224.5,403.5 224.0,406.0 C223.5,408.5 220.8,411.0 219.0,413.0 C217.2,415.0 214.3,415.8 213.0,418.0 C211.7,420.2 211.8,426.0 211.0,426.0 C210.2,426.0 208.5,421.5 208.0,418.0 C207.5,414.5 207.7,408.7 208.0,405.0 C208.3,401.3 209.8,398.5 210.0,396.0 C210.2,393.5 209.8,392.3 209.0,390.0 C208.2,387.7 205.3,385.0 205.0,382.0 C204.7,379.0 205.7,373.8 207.0,372.0Z" fill="#030305"/>
<g fill="none" stroke="#2c3cc8" stroke-width="1.0" opacity="0.7"><path d="M210,396 Q216,396 223,398 Q230,402 233,410 Q230,416 224,416 Q218,420 213,430"/><path d="M228,404 a3.5,3.5 0 1,0 7,0 a3.5,3.5 0 1,0 -7,0"/></g>
<rect x="179.2" y="345.6" width="78.8" height="6.0" fill="#000"/>
<rect x="179.2" y="351.6" width="78.8" height="0.5" fill="#666"/>
</g>
<text x="185.9" y="350.8" font-size="6.0" font-weight="bold" fill="#3446d8">DAPI</text>
<text x="215.5" y="350.8" font-size="6.0" text-anchor="middle" font-weight="bold" fill="#9ed23a">FAP</text>
<text x="252.3" y="350.8" font-size="6.0" text-anchor="end" font-weight="bold" fill="#e4102a">CD105</text>
<rect x="181.2" y="355.9" width="16.3" height="2.4" fill="#fff"/>
<text x="197.8" y="359.5" font-size="6.8" fill="#fff">200 μm</text>
<g clip-path="url(#cb1)">
<rect x="260.0" y="345.6" width="78.8" height="84.4" fill="#03030a"/>
<rect x="260.0" y="345.6" width="78.8" height="84.4" fill="#1c2aa4" filter="url(#nzB)" opacity="0.62"/>
<g filter="url(#nzG2)" fill="#40b43a"><ellipse cx="273" cy="388" rx="5" ry="14" opacity="0.48" transform="rotate(25 273 388)"/><ellipse cx="304" cy="378" rx="11" ry="3" opacity="0.39" transform="rotate(-25 304 378)"/><ellipse cx="318" cy="403" rx="19" ry="4" opacity="0.45" transform="rotate(-50 318 403)"/><ellipse cx="333" cy="388" rx="3" ry="10" opacity="0.36" transform="rotate(10 333 388)"/><ellipse cx="285" cy="398" rx="6" ry="3" opacity="0.33" transform="rotate(-30 285 398)"/></g>
<g filter="url(#nzG)" opacity="0.8">
<g fill="#44b83a" opacity="1.0"><ellipse cx="275.0" cy="376.1" rx="3.1" ry="1.7" transform="rotate(108 275.0 376.1)"/><ellipse cx="299.5" cy="378.1" rx="1.8" ry="1.0" transform="rotate(-8 299.5 378.1)"/><ellipse cx="275.6" cy="399.3" rx="2.0" ry="1.1" transform="rotate(117 275.6 399.3)"/><ellipse cx="269.9" cy="393.2" rx="3.2" ry="1.8" transform="rotate(113 269.9 393.2)"/><ellipse cx="313.2" cy="402.9" rx="3.2" ry="1.8" transform="rotate(188 313.2 402.9)"/><ellipse cx="297.5" cy="377.6" rx="2.7" ry="1.5" transform="rotate(147 297.5 377.6)"/><ellipse cx="326.6" cy="406.6" rx="2.4" ry="1.3" transform="rotate(101 326.6 406.6)"/><ellipse cx="335.6" cy="383.6" rx="2.4" ry="1.3" transform="rotate(15 335.6 383.6)"/><ellipse cx="310.9" cy="399.5" rx="3.9" ry="2.2" transform="rotate(70 310.9 399.5)"/><ellipse cx="334.8" cy="391.6" rx="2.2" ry="1.2" transform="rotate(177 334.8 391.6)"/><ellipse cx="275.6" cy="399.3" rx="2.2" ry="1.2" transform="rotate(74 275.6 399.3)"/><ellipse cx="310.3" cy="375.7" rx="3.9" ry="2.2" transform="rotate(153 310.3 375.7)"/><ellipse cx="303.1" cy="378.0" rx="1.9" ry="1.0" transform="rotate(161 303.1 378.0)"/><ellipse cx="333.5" cy="381.9" rx="3.1" ry="1.7" transform="rotate(89 333.5 381.9)"/><ellipse cx="276.0" cy="395.1" rx="2.1" ry="1.2" transform="rotate(184 276.0 395.1)"/><ellipse cx="275.6" cy="396.6" rx="1.9" ry="1.1" transform="rotate(-6 275.6 396.6)"/><ellipse cx="333.1" cy="383.5" rx="3.9" ry="2.1" transform="rotate(103 333.1 383.5)"/><ellipse cx="333.1" cy="379.6" rx="2.6" ry="1.5" transform="rotate(33 333.1 379.6)"/><ellipse cx="277.5" cy="383.8" rx="3.4" ry="1.9" transform="rotate(26 277.5 383.8)"/><ellipse cx="311.2" cy="403.2" rx="3.5" ry="2.0" transform="rotate(108 311.2 403.2)"/></g>
</g>
<path d="M270.6,383.8h0M330.3,393.2h0M334.6,390.0h0M299.3,379.5h0M300.2,403.1h0M272.7,375.3h0M326.1,405.6h0M309.9,402.5h0M299.3,379.5h0M271.5,376.7h0M330.4,406.7h0M335.4,403.1h0M305.0,405.5h0M331.4,381.3h0M334.6,387.8h0M285.7,395.6h0M269.0,400.0h0M334.5,386.4h0M313.1,401.4h0M305.0,376.0h0M286.6,400.7h0M273.9,393.3h0M300.3,403.7h0M312.1,377.7h0M311.3,402.7h0M308.8,400.8h0M274.4,393.5h0M298.9,379.5h0M333.7,392.5h0M287.7,398.6h0M270.4,400.8h0M277.5,401.9h0M274.6,379.5h0M269.5,382.5h0M270.7,377.1h0M331.7,395.7h0M293.3,380.1h0M297.9,380.9h0M268.2,381.2h0M299.2,400.9h0" stroke="#48b83a" stroke-width="0.70" stroke-linecap="round" fill="none" opacity="0.7"/>
<g filter="url(#nzR)">
<g fill="#e8182a" opacity="1.0"><ellipse cx="291.9" cy="371.6" rx="2.8" ry="1.1" transform="rotate(159 291.9 371.6)"/><ellipse cx="320.1" cy="377.2" rx="2.7" ry="1.1" transform="rotate(28 320.1 377.2)"/><ellipse cx="283.7" cy="401.7" rx="2.9" ry="1.2" transform="rotate(151 283.7 401.7)"/><ellipse cx="296.8" cy="382.7" rx="3.2" ry="1.3" transform="rotate(68 296.8 382.7)"/><ellipse cx="271.7" cy="392.0" rx="3.2" ry="1.3" transform="rotate(154 271.7 392.0)"/><ellipse cx="316.4" cy="368.5" rx="1.7" ry="0.7" transform="rotate(34 316.4 368.5)"/></g>
</g>
<path d="M331.6,375.8h0M324.3,392.2h0M298.3,364.0h0M290.9,384.9h0M297.0,426.4h0M301.0,422.7h0" stroke="#e8182a" stroke-width="0.70" stroke-linecap="round" fill="none" opacity="0.9"/>
<path d="M309.1,401.0h0M290.5,354.9h0M333.2,400.3h0M306.4,358.7h0M292.0,426.3h0M339.5,426.9h0M273.2,424.4h0M323.9,365.5h0M317.7,415.2h0M313.3,416.5h0M293.1,429.7h0M312.0,412.4h0M322.7,368.4h0M315.0,428.6h0M298.5,414.4h0M288.6,402.4h0M298.8,399.9h0M331.8,362.2h0M290.8,356.8h0M286.0,425.4h0M287.6,396.6h0M276.8,355.8h0M308.7,396.3h0M274.9,386.2h0M276.7,382.2h0M308.8,405.0h0M267.2,422.1h0M310.9,373.8h0M277.0,356.3h0M313.7,359.4h0M293.5,416.2h0M304.6,388.7h0M316.0,369.7h0M308.0,408.8h0M285.7,405.7h0M283.7,387.3h0M340.0,404.1h0M288.8,401.7h0M263.7,408.9h0M324.7,357.5h0M320.6,361.6h0M293.2,360.2h0M312.7,377.3h0M304.3,423.0h0M287.4,370.1h0M283.1,378.4h0M286.7,428.7h0M287.6,366.3h0M269.4,365.4h0M270.2,427.8h0M339.7,381.9h0M292.5,395.9h0M268.7,353.7h0M298.0,411.3h0M300.1,393.5h0M271.8,403.9h0M330.1,356.6h0M310.7,400.0h0M313.1,419.5h0M268.0,424.4h0M329.8,361.1h0M316.8,419.0h0M262.7,351.6h0M306.3,423.1h0M301.8,416.0h0M293.7,405.7h0M265.4,404.4h0M339.5,402.8h0M321.6,393.9h0M297.8,421.7h0" stroke="#b01828" stroke-width="0.60" stroke-linecap="round" fill="none" opacity="0.7"/>
<g fill="none" stroke="#2c3cc8" stroke-width="1.0" opacity="0.7"><path d="M287,380 a6,6 0 1,0 12,0 a6,6 0 1,0 -12,0"/><path d="M300,425 Q318,410 336,385"/><path d="M262,372 Q275,368 285,372"/></g>
<rect x="260.0" y="345.6" width="78.8" height="6.0" fill="#000"/>
<rect x="260.0" y="351.6" width="78.8" height="0.5" fill="#666"/>
</g>
<text x="265.1" y="350.8" font-size="6.0" font-weight="bold" fill="#3446d8">DAPI</text>
<text x="297.4" y="350.8" font-size="6.0" text-anchor="middle" font-weight="bold" fill="#9ed23a">FAP</text>
<text x="337.0" y="350.8" font-size="6.0" text-anchor="end" font-weight="bold" fill="#e4102a">COL11A1</text>
<rect x="262.0" y="355.9" width="16.3" height="2.4" fill="#fff"/>
<text x="278.6" y="359.5" font-size="6.8" fill="#fff">200 μm</text>
<g clip-path="url(#cb2)">
<rect x="340.4" y="345.6" width="77.9" height="84.4" fill="#03030a"/>
<rect x="340.4" y="345.6" width="77.9" height="84.4" fill="#1c2aa4" filter="url(#nzB)" opacity="0.75"/>
<g filter="url(#nzG2)" fill="#40b43a"><ellipse cx="379" cy="390" rx="42" ry="44" opacity="0.46" transform="rotate(0 379 390)"/><ellipse cx="365" cy="400" rx="14" ry="22" opacity="0.45" transform="rotate(0 365 400)"/><ellipse cx="395" cy="372" rx="15" ry="15" opacity="0.42" transform="rotate(0 395 372)"/></g>
<g filter="url(#nzG)" opacity="0.8">
<g fill="#44b83a" opacity="1.0"><ellipse cx="363.8" cy="400.9" rx="3.2" ry="1.8" transform="rotate(192 363.8 400.9)"/><ellipse cx="399.9" cy="410.9" rx="2.4" ry="1.3" transform="rotate(100 399.9 410.9)"/><ellipse cx="403.0" cy="367.8" rx="3.4" ry="1.9" transform="rotate(111 403.0 367.8)"/><ellipse cx="392.0" cy="382.8" rx="2.9" ry="1.6" transform="rotate(136 392.0 382.8)"/><ellipse cx="397.5" cy="372.9" rx="1.9" ry="1.1" transform="rotate(166 397.5 372.9)"/><ellipse cx="359.0" cy="407.9" rx="3.1" ry="1.7" transform="rotate(186 359.0 407.9)"/><ellipse cx="359.5" cy="419.6" rx="3.4" ry="1.9" transform="rotate(71 359.5 419.6)"/><ellipse cx="405.9" cy="381.8" rx="2.2" ry="1.2" transform="rotate(143 405.9 381.8)"/><ellipse cx="387.5" cy="374.3" rx="3.4" ry="1.9" transform="rotate(51 387.5 374.3)"/><ellipse cx="357.7" cy="384.0" rx="3.1" ry="1.7" transform="rotate(166 357.7 384.0)"/><ellipse cx="401.3" cy="422.6" rx="3.1" ry="1.7" transform="rotate(166 401.3 422.6)"/><ellipse cx="356.2" cy="413.6" rx="2.3" ry="1.3" transform="rotate(89 356.2 413.6)"/><ellipse cx="377.1" cy="407.3" rx="3.8" ry="2.1" transform="rotate(149 377.1 407.3)"/><ellipse cx="404.1" cy="422.1" rx="3.9" ry="2.2" transform="rotate(45 404.1 422.1)"/><ellipse cx="382.4" cy="368.1" rx="2.9" ry="1.6" transform="rotate(98 382.4 368.1)"/><ellipse cx="355.9" cy="413.2" rx="3.4" ry="1.9" transform="rotate(169 355.9 413.2)"/><ellipse cx="351.0" cy="412.6" rx="3.8" ry="2.1" transform="rotate(86 351.0 412.6)"/><ellipse cx="355.1" cy="395.9" rx="2.6" ry="1.4" transform="rotate(7 355.1 395.9)"/><ellipse cx="364.2" cy="420.0" rx="2.5" ry="1.4" transform="rotate(79 364.2 420.0)"/><ellipse cx="410.6" cy="411.6" rx="2.4" ry="1.3" transform="rotate(98 410.6 411.6)"/><ellipse cx="399.6" cy="366.2" rx="3.8" ry="2.1" transform="rotate(103 399.6 366.2)"/><ellipse cx="367.3" cy="392.9" rx="2.5" ry="1.4" transform="rotate(-3 367.3 392.9)"/><ellipse cx="370.3" cy="405.5" rx="3.7" ry="2.0" transform="rotate(105 370.3 405.5)"/><ellipse cx="398.8" cy="379.5" rx="2.0" ry="1.1" transform="rotate(84 398.8 379.5)"/><ellipse cx="373.7" cy="414.8" rx="2.5" ry="1.4" transform="rotate(174 373.7 414.8)"/><ellipse cx="403.9" cy="395.8" rx="3.3" ry="1.8" transform="rotate(101 403.9 395.8)"/><ellipse cx="402.8" cy="362.9" rx="3.8" ry="2.1" transform="rotate(111 402.8 362.9)"/><ellipse cx="380.3" cy="403.1" rx="3.8" ry="2.1" transform="rotate(78 380.3 403.1)"/><ellipse cx="390.0" cy="377.3" rx="3.4" ry="1.9" transform="rotate(49 390.0 377.3)"/><ellipse cx="405.4" cy="376.1" rx="1.9" ry="1.0" transform="rotate(156 405.4 376.1)"/><ellipse cx="364.2" cy="380.8" rx="2.8" ry="1.6" transform="rotate(11 364.2 380.8)"/><ellipse cx="390.5" cy="426.1" rx="3.1" ry="1.7" transform="rotate(86 390.5 426.1)"/><ellipse cx="358.9" cy="409.9" rx="2.6" ry="1.4" transform="rotate(66 358.9 409.9)"/><ellipse cx="407.2" cy="364.7" rx="2.8" ry="1.6" transform="rotate(176 407.2 364.7)"/><ellipse cx="384.8" cy="379.4" rx="3.1" ry="1.7" transform="rotate(77 384.8 379.4)"/><ellipse cx="408.9" cy="368.2" rx="2.6" ry="1.5" transform="rotate(-13 408.9 368.2)"/><ellipse cx="391.8" cy="378.5" rx="2.0" ry="1.1" transform="rotate(59 391.8 378.5)"/><ellipse cx="399.3" cy="381.1" rx="3.7" ry="2.1" transform="rotate(65 399.3 381.1)"/><ellipse cx="365.0" cy="403.5" rx="3.0" ry="1.7" transform="rotate(66 365.0 403.5)"/><ellipse cx="400.9" cy="408.8" rx="2.8" ry="1.6" transform="rotate(28 400.9 408.8)"/></g>
</g>
<path d="M373.1,418.7h0M374.4,383.2h0M409.1,370.0h0M357.0,367.0h0M362.6,385.1h0M409.4,361.3h0M363.4,400.3h0M363.4,412.7h0M388.6,367.8h0M371.4,370.4h0M407.8,391.9h0M351.8,398.9h0M406.7,378.9h0M385.3,361.1h0M368.6,386.5h0M337.8,406.9h0M374.5,418.3h0M360.7,390.4h0M377.5,382.0h0M372.4,383.9h0M358.0,402.8h0M381.1,378.1h0M375.0,393.7h0M409.1,359.1h0M357.6,419.0h0M403.4,383.0h0M376.1,390.8h0M398.4,385.3h0M404.6,357.8h0M344.4,400.5h0M363.2,394.9h0M380.6,384.8h0M387.8,382.1h0M364.0,388.5h0M360.8,382.1h0M359.9,386.9h0M372.3,382.8h0M411.3,393.7h0M356.1,404.9h0M362.1,419.7h0M390.3,407.1h0M367.9,379.6h0M381.6,367.9h0M374.5,409.5h0M396.9,386.6h0M370.6,395.4h0M349.3,405.9h0M410.1,404.4h0M346.2,362.5h0M353.9,404.9h0M372.3,380.9h0M393.6,358.4h0M409.2,358.2h0M398.6,384.5h0M368.6,413.5h0M345.4,356.7h0M356.9,349.5h0M366.2,360.7h0M417.6,427.1h0M382.5,374.7h0M393.2,372.3h0M407.5,374.3h0M398.8,411.2h0M375.1,407.1h0M369.5,394.3h0M411.9,372.7h0M373.9,379.4h0M352.9,394.0h0M391.9,384.7h0M417.0,374.5h0M359.7,423.3h0M341.8,347.9h0M368.0,393.3h0M365.5,414.7h0M401.1,391.8h0M400.3,385.0h0M369.7,384.2h0M388.3,370.4h0M382.9,382.7h0M409.9,365.1h0" stroke="#48b83a" stroke-width="0.70" stroke-linecap="round" fill="none" opacity="0.7"/>
<g filter="url(#nzR)">
<g fill="#e8182a" opacity="1.0"><ellipse cx="363.0" cy="368.3" rx="2.3" ry="0.9" transform="rotate(15 363.0 368.3)"/><ellipse cx="394.0" cy="404.8" rx="3.5" ry="1.4" transform="rotate(41 394.0 404.8)"/><ellipse cx="372.8" cy="381.9" rx="3.2" ry="1.3" transform="rotate(116 372.8 381.9)"/><ellipse cx="366.9" cy="410.3" rx="2.7" ry="1.1" transform="rotate(97 366.9 410.3)"/><ellipse cx="398.5" cy="388.6" rx="2.1" ry="0.8" transform="rotate(109 398.5 388.6)"/><ellipse cx="369.7" cy="401.8" rx="3.1" ry="1.3" transform="rotate(78 369.7 401.8)"/><ellipse cx="380.8" cy="410.0" rx="3.4" ry="1.4" transform="rotate(179 380.8 410.0)"/><ellipse cx="378.8" cy="423.1" rx="2.1" ry="0.8" transform="rotate(89 378.8 423.1)"/><ellipse cx="354.8" cy="402.2" rx="3.0" ry="1.2" transform="rotate(76 354.8 402.2)"/><ellipse cx="371.0" cy="368.9" rx="1.5" ry="0.6" transform="rotate(1 371.0 368.9)"/></g>
</g>
<path d="M380.1,400.4h0M359.3,368.2h0M374.1,408.7h0M385.2,403.4h0M355.5,380.4h0M354.5,376.7h0M389.4,375.6h0M406.1,390.6h0M387.9,391.7h0M362.5,417.5h0" stroke="#e8182a" stroke-width="0.70" stroke-linecap="round" fill="none" opacity="0.9"/>
<path d="M345.2,395.2h0M386.0,400.5h0M395.7,350.9h0M397.3,394.2h0M372.2,357.9h0M342.8,364.0h0M385.8,419.7h0M381.5,361.5h0M388.5,361.6h0M381.2,352.3h0M416.2,389.2h0M374.8,414.0h0M395.2,396.3h0M359.5,372.0h0M390.7,418.7h0M345.4,365.3h0M342.0,367.6h0M401.5,353.5h0M359.5,367.8h0M387.4,363.9h0M409.8,386.4h0M360.6,420.9h0M345.8,404.2h0M387.2,383.1h0M397.3,351.8h0M347.4,363.6h0M341.0,420.6h0M369.4,376.8h0M367.3,402.1h0M374.2,423.0h0M371.4,387.4h0M375.2,372.3h0M404.8,369.3h0M356.1,393.6h0M384.8,387.4h0M359.6,379.4h0M372.8,400.3h0M364.2,388.1h0M409.1,404.0h0M420.2,397.7h0M419.6,392.8h0M381.2,360.0h0M394.6,357.3h0M399.3,411.2h0M397.9,361.6h0M397.3,405.6h0M358.9,365.1h0M345.8,423.1h0M401.1,365.4h0M347.4,373.1h0M372.3,378.5h0M377.6,400.2h0M409.4,424.9h0M369.7,414.0h0M412.2,352.0h0M377.4,430.0h0M412.9,357.8h0M362.1,398.7h0M394.6,382.4h0M374.9,410.6h0M399.5,394.2h0M415.7,395.2h0M380.2,391.7h0M394.0,396.0h0M349.3,411.1h0M412.5,420.0h0M396.1,427.9h0M343.4,375.5h0M368.1,423.1h0M399.9,429.8h0" stroke="#b01828" stroke-width="0.60" stroke-linecap="round" fill="none" opacity="0.7"/>
<path d="M357.4,365.3 C357.1,365.8 355.6,366.1 354.6,366.4 C353.5,366.6 352.3,367.1 350.9,367.0 C349.5,366.9 347.7,366.2 346.0,365.7 C344.4,365.2 341.8,364.6 340.9,364.0 C340.1,363.3 340.7,362.4 341.1,361.8 C341.4,361.2 342.2,360.8 343.2,360.5 C344.2,360.2 345.6,360.0 347.1,360.1 C348.6,360.1 350.7,360.5 352.3,361.0 C353.9,361.5 355.9,362.3 356.8,363.1 C357.6,363.8 357.8,364.7 357.4,365.3Z" fill="#c8164e" stroke="#de1c5c" stroke-width="0.6"/>
<path d="M353.6,364.5 C353.5,364.7 352.7,364.7 352.1,364.8 C351.5,364.8 350.9,364.9 350.2,364.8 C349.4,364.7 348.4,364.4 347.5,364.2 C346.6,363.9 345.1,363.6 344.7,363.3 C344.2,363.1 344.5,362.8 344.6,362.6 C344.8,362.4 345.2,362.2 345.7,362.2 C346.3,362.1 347.0,362.1 347.8,362.2 C348.7,362.3 349.8,362.5 350.7,362.7 C351.6,363.0 352.7,363.4 353.2,363.7 C353.7,363.9 353.8,364.3 353.6,364.5Z" fill="#5a2a8c"/>
<path d="M365.7,372.4 C365.1,373.0 364.1,373.3 363.2,373.3 C362.2,373.4 360.9,373.3 359.9,372.8 C359.0,372.2 358.4,370.9 357.6,370.0 C356.9,369.1 355.9,368.1 355.6,367.1 C355.3,366.2 355.5,364.9 356.0,364.3 C356.5,363.6 357.6,363.2 358.6,363.2 C359.6,363.3 361.0,363.9 362.0,364.5 C362.9,365.1 363.5,366.1 364.3,367.0 C365.2,367.9 366.7,369.1 366.9,370.0 C367.1,370.9 366.3,371.9 365.7,372.4Z" fill="#c8164e" stroke="#de1c5c" stroke-width="0.6"/>
<path d="M363.6,370.7 C363.3,370.8 362.9,370.9 362.5,370.8 C362.0,370.7 361.4,370.6 360.9,370.2 C360.4,369.9 360.0,369.3 359.6,368.8 C359.1,368.3 358.6,367.8 358.3,367.4 C358.1,366.9 358.1,366.4 358.2,366.2 C358.4,365.9 358.9,365.9 359.4,366.0 C359.8,366.1 360.6,366.5 361.1,366.9 C361.6,367.2 361.9,367.7 362.4,368.2 C362.9,368.7 363.7,369.3 363.9,369.7 C364.1,370.1 363.8,370.5 363.6,370.7Z" fill="#5a2a8c"/>
<path d="M355.6,376.7 C355.6,377.2 354.5,377.9 353.5,378.2 C352.5,378.6 350.9,378.6 349.6,378.6 C348.4,378.6 347.2,378.5 345.9,378.3 C344.6,378.1 342.5,377.8 341.8,377.4 C341.1,376.9 341.6,376.0 341.8,375.5 C342.1,374.9 342.4,374.5 343.1,374.0 C343.8,373.5 344.7,372.6 345.8,372.6 C347.0,372.5 348.8,373.3 350.1,373.7 C351.3,374.1 352.4,374.3 353.3,374.8 C354.3,375.3 355.6,376.1 355.6,376.7Z" fill="#c8164e" stroke="#de1c5c" stroke-width="0.6"/>
<path d="M352.2,376.4 C352.2,376.6 351.6,376.8 351.0,376.9 C350.5,377.0 349.6,377.0 348.9,376.9 C348.3,376.9 347.6,376.9 346.9,376.8 C346.2,376.7 345.0,376.5 344.6,376.4 C344.2,376.2 344.5,375.9 344.6,375.7 C344.7,375.5 344.9,375.4 345.3,375.2 C345.6,375.1 346.1,374.7 346.8,374.8 C347.4,374.8 348.4,375.1 349.1,375.2 C349.8,375.4 350.4,375.5 350.9,375.7 C351.4,375.9 352.2,376.2 352.2,376.4Z" fill="#5a2a8c"/>
<path d="M400.6,360.5 C400.7,361.0 400.9,361.7 400.6,362.1 C400.4,362.4 399.6,362.4 399.0,362.6 C398.5,362.8 397.9,363.2 397.4,363.1 C396.9,363.0 396.4,362.4 396.1,362.0 C395.8,361.6 395.6,361.0 395.6,360.5 C395.6,360.0 395.6,359.2 395.9,358.9 C396.3,358.6 397.1,358.7 397.6,358.5 C398.2,358.4 398.8,357.8 399.2,357.9 C399.6,358.0 400.0,358.8 400.2,359.2 C400.5,359.6 400.6,360.0 400.6,360.5Z" fill="#c8164e" stroke="#de1c5c" stroke-width="0.6"/>
<path d="M399.6,360.5 C399.6,360.7 399.7,360.9 399.6,361.0 C399.4,361.2 399.0,361.2 398.7,361.2 C398.4,361.3 398.1,361.4 397.8,361.4 C397.5,361.4 397.3,361.2 397.1,361.0 C396.9,360.9 396.8,360.7 396.8,360.5 C396.8,360.3 396.8,360.1 397.0,359.9 C397.2,359.8 397.6,359.9 397.9,359.8 C398.2,359.7 398.6,359.6 398.8,359.6 C399.0,359.6 399.2,359.9 399.4,360.0 C399.5,360.2 399.5,360.3 399.6,360.5Z" fill="#5a2a8c"/>
<path d="M378.3,380.0 C378.2,380.7 378.1,381.5 377.7,382.0 C377.3,382.4 376.5,382.4 375.8,382.6 C375.2,382.8 374.5,383.3 374.0,383.2 C373.4,383.1 372.7,382.4 372.4,381.9 C372.1,381.4 372.2,380.6 372.2,380.0 C372.2,379.4 372.0,378.5 372.4,378.1 C372.7,377.7 373.6,377.6 374.2,377.4 C374.8,377.3 375.3,377.0 375.9,377.1 C376.6,377.2 377.5,377.4 377.9,377.9 C378.3,378.4 378.3,379.3 378.3,380.0Z" fill="#c8164e" stroke="#de1c5c" stroke-width="0.6"/>
<path d="M376.8,380.0 C376.8,380.2 376.7,380.5 376.5,380.7 C376.3,380.8 375.8,380.8 375.5,380.9 C375.1,381.0 374.7,381.2 374.4,381.1 C374.1,381.1 373.7,380.8 373.6,380.7 C373.4,380.5 373.4,380.2 373.4,380.0 C373.4,379.8 373.4,379.5 373.5,379.3 C373.7,379.2 374.2,379.2 374.5,379.1 C374.9,379.0 375.2,379.0 375.5,379.0 C375.9,379.0 376.4,379.1 376.6,379.3 C376.8,379.4 376.8,379.8 376.8,380.0Z" fill="#5a2a8c"/>
<path d="M388.8,395.0 C388.7,395.5 386.9,395.5 385.9,395.9 C385.0,396.2 384.2,397.1 383.0,397.0 C381.7,396.9 379.6,396.0 378.5,395.2 C377.4,394.5 376.7,393.3 376.3,392.5 C375.9,391.7 376.1,391.1 376.3,390.4 C376.4,389.7 376.4,388.6 377.2,388.4 C378.1,388.2 380.0,389.0 381.3,389.3 C382.6,389.6 384.2,389.6 385.1,390.1 C386.0,390.6 386.3,391.6 386.9,392.5 C387.5,393.3 389.0,394.4 388.8,395.0Z" fill="#c8164e" stroke="#de1c5c" stroke-width="0.6"/>
<path d="M385.8,393.9 C385.7,394.1 384.8,393.9 384.3,394.0 C383.8,394.1 383.5,394.4 382.8,394.3 C382.2,394.1 381.0,393.6 380.3,393.3 C379.7,392.9 379.3,392.5 379.0,392.2 C378.8,391.8 378.8,391.6 378.8,391.4 C378.9,391.1 378.8,390.7 379.2,390.7 C379.6,390.7 380.7,391.1 381.4,391.3 C382.1,391.5 383.0,391.5 383.5,391.8 C384.0,392.1 384.2,392.5 384.6,392.8 C385.0,393.1 385.8,393.7 385.8,393.9Z" fill="#5a2a8c"/>
<path d="M411.3,400.0 C411.3,400.5 410.2,401.0 409.5,401.3 C408.8,401.7 408.1,401.9 407.2,402.0 C406.4,402.1 405.6,402.2 404.7,402.2 C403.7,402.1 402.0,402.0 401.6,401.7 C401.1,401.3 401.8,400.5 401.9,400.0 C402.0,399.5 401.9,399.0 402.3,398.6 C402.7,398.2 403.7,397.7 404.5,397.6 C405.4,397.5 406.4,397.7 407.3,397.9 C408.2,398.0 409.2,398.2 409.9,398.5 C410.5,398.9 411.4,399.5 411.3,400.0Z" fill="#c8164e" stroke="#de1c5c" stroke-width="0.6"/>
<path d="M408.9,400.0 C408.9,400.2 408.3,400.3 407.9,400.5 C407.6,400.6 407.1,400.6 406.7,400.7 C406.2,400.7 405.8,400.8 405.3,400.8 C404.7,400.7 403.8,400.7 403.6,400.6 C403.3,400.5 403.7,400.2 403.7,400.0 C403.8,399.8 403.7,399.6 404.0,399.5 C404.2,399.4 404.7,399.2 405.2,399.2 C405.6,399.1 406.2,399.2 406.7,399.2 C407.2,399.3 407.8,399.4 408.1,399.5 C408.5,399.6 409.0,399.8 408.9,400.0Z" fill="#5a2a8c"/>
<path d="M367.2,408.5 C367.1,409.2 367.5,409.7 367.1,410.3 C366.7,410.9 365.8,411.8 364.8,412.0 C363.9,412.2 362.5,411.7 361.4,411.5 C360.4,411.2 359.1,411.0 358.5,410.5 C358.0,410.0 358.2,409.2 358.2,408.5 C358.2,407.8 358.0,407.0 358.5,406.5 C359.1,406.1 360.5,406.0 361.6,405.8 C362.6,405.6 363.6,405.3 364.6,405.4 C365.7,405.5 367.3,405.8 367.8,406.4 C368.2,406.9 367.4,407.8 367.2,408.5Z" fill="#c8164e" stroke="#de1c5c" stroke-width="0.6"/>
<path d="M365.3,408.5 C365.3,408.7 365.5,408.9 365.2,409.1 C365.0,409.3 364.5,409.7 364.0,409.7 C363.5,409.8 362.7,409.6 362.1,409.5 C361.6,409.4 360.8,409.4 360.5,409.2 C360.2,409.0 360.4,408.7 360.4,408.5 C360.4,408.3 360.2,408.0 360.6,407.8 C360.9,407.6 361.7,407.6 362.2,407.5 C362.8,407.5 363.3,407.4 363.9,407.4 C364.5,407.4 365.4,407.6 365.6,407.8 C365.9,407.9 365.4,408.3 365.3,408.5Z" fill="#5a2a8c"/>
<path d="M403.6,419.6 C403.5,420.6 403.3,422.0 402.1,422.5 C400.9,423.1 398.2,422.9 396.4,422.7 C394.5,422.6 392.5,422.4 391.1,421.9 C389.6,421.3 388.6,420.2 387.8,419.3 C386.9,418.4 386.2,417.4 386.1,416.5 C386.0,415.6 386.3,414.4 387.3,413.7 C388.4,413.0 390.5,412.5 392.3,412.5 C394.2,412.5 396.6,413.0 398.4,413.6 C400.1,414.3 401.9,415.4 402.8,416.4 C403.7,417.4 403.7,418.6 403.6,419.6Z" fill="#c8164e" stroke="#de1c5c" stroke-width="0.6"/>
<path d="M399.5,418.9 C399.5,419.2 399.4,419.7 398.8,419.9 C398.1,420.0 396.7,419.9 395.7,419.8 C394.7,419.6 393.6,419.5 392.8,419.3 C392.0,419.0 391.4,418.6 390.9,418.2 C390.4,417.9 389.9,417.5 389.9,417.2 C389.8,416.8 389.9,416.4 390.5,416.2 C391.0,416.0 392.1,415.9 393.1,416.0 C394.1,416.0 395.5,416.3 396.5,416.6 C397.4,416.9 398.5,417.3 399.0,417.7 C399.5,418.1 399.5,418.5 399.5,418.9Z" fill="#5a2a8c"/>
<path d="M363.3,427.3 C363.2,428.2 364.1,429.7 363.1,430.1 C362.2,430.5 359.3,429.9 357.6,429.8 C355.9,429.7 354.1,429.9 352.7,429.5 C351.4,429.1 350.3,428.0 349.5,427.1 C348.7,426.3 348.0,425.5 347.8,424.5 C347.6,423.6 347.3,422.1 348.4,421.6 C349.4,421.1 352.1,421.3 354.0,421.4 C356.0,421.4 358.2,421.3 359.9,421.8 C361.5,422.4 363.3,423.7 363.9,424.6 C364.5,425.5 363.5,426.4 363.3,427.3Z" fill="#c8164e" stroke="#de1c5c" stroke-width="0.6"/>
<path d="M360.0,426.7 C360.0,427.0 360.5,427.6 360.0,427.7 C359.5,427.8 358.0,427.5 357.0,427.4 C356.1,427.3 355.1,427.3 354.3,427.1 C353.6,426.9 353.0,426.5 352.5,426.2 C352.0,425.9 351.6,425.5 351.5,425.2 C351.3,424.9 351.1,424.3 351.7,424.2 C352.3,424.0 353.7,424.2 354.8,424.3 C355.8,424.4 357.1,424.4 358.0,424.7 C358.9,424.9 359.9,425.4 360.3,425.8 C360.6,426.1 360.1,426.4 360.0,426.7Z" fill="#5a2a8c"/>
<path d="M393.1,427.0 C393.0,427.9 394.0,428.9 393.2,429.5 C392.4,430.0 390.0,430.2 388.4,430.5 C386.7,430.7 384.8,431.1 383.3,430.9 C381.9,430.7 380.6,429.8 379.6,429.2 C378.6,428.5 377.3,427.7 377.3,427.0 C377.3,426.3 378.6,425.4 379.6,424.8 C380.7,424.3 382.3,423.8 383.7,423.7 C385.1,423.5 386.6,423.7 388.2,423.8 C389.9,423.9 392.9,423.8 393.7,424.4 C394.5,424.9 393.2,426.1 393.1,427.0Z" fill="#c8164e" stroke="#de1c5c" stroke-width="0.6"/>
<path d="M389.9,427.0 C389.9,427.3 390.4,427.7 390.0,427.9 C389.5,428.1 388.2,428.1 387.3,428.2 C386.4,428.3 385.3,428.4 384.5,428.4 C383.7,428.3 383.0,428.0 382.5,427.8 C381.9,427.5 381.2,427.3 381.2,427.0 C381.2,426.7 381.9,426.4 382.5,426.2 C383.1,426.0 383.9,425.9 384.7,425.8 C385.5,425.8 386.3,425.8 387.2,425.9 C388.1,425.9 389.8,425.9 390.2,426.1 C390.7,426.3 390.0,426.7 389.9,427.0Z" fill="#5a2a8c"/>
<path d="M414.2,409.5 C414.3,410.2 413.1,411.1 412.5,411.6 C411.8,412.1 411.0,412.4 410.2,412.6 C409.4,412.8 408.7,412.8 407.8,412.7 C406.9,412.6 405.5,412.6 404.8,412.0 C404.1,411.5 403.7,410.4 403.6,409.5 C403.6,408.6 403.9,407.4 404.5,406.8 C405.2,406.2 406.7,406.0 407.6,405.9 C408.6,405.9 409.4,406.1 410.2,406.4 C411.0,406.6 411.7,406.9 412.4,407.4 C413.1,408.0 414.2,408.8 414.2,409.5Z" fill="#c8164e" stroke="#de1c5c" stroke-width="0.6"/>
<path d="M411.9,409.5 C411.9,409.7 411.3,410.0 410.9,410.2 C410.5,410.4 410.1,410.5 409.7,410.6 C409.2,410.7 408.8,410.6 408.3,410.6 C407.8,410.6 407.1,410.6 406.7,410.4 C406.3,410.2 406.1,409.8 406.0,409.5 C406.0,409.2 406.2,408.8 406.5,408.6 C406.9,408.3 407.7,408.3 408.2,408.2 C408.8,408.2 409.2,408.3 409.7,408.4 C410.1,408.5 410.5,408.6 410.9,408.8 C411.2,409.0 411.9,409.3 411.9,409.5Z" fill="#5a2a8c"/>
<path d="M412.0,376.8 C412.0,377.3 412.0,378.0 411.7,378.5 C411.4,379.0 410.8,379.7 410.3,379.9 C409.7,380.0 409.0,379.7 408.4,379.5 C407.9,379.3 407.2,378.9 407.0,378.5 C406.7,378.0 406.9,377.3 406.9,376.8 C407.0,376.3 407.0,375.7 407.3,375.4 C407.6,375.0 408.1,374.8 408.6,374.5 C409.0,374.3 409.7,374.0 410.2,374.1 C410.7,374.2 411.1,374.8 411.4,375.3 C411.7,375.7 411.9,376.3 412.0,376.8Z" fill="#c8164e" stroke="#de1c5c" stroke-width="0.6"/>
<path d="M410.8,376.8 C410.8,377.0 410.8,377.2 410.6,377.4 C410.5,377.6 410.1,377.8 409.8,377.9 C409.5,377.9 409.1,377.8 408.8,377.7 C408.5,377.7 408.2,377.5 408.0,377.4 C407.9,377.2 408.0,377.0 408.0,376.8 C408.0,376.6 408.1,376.4 408.2,376.3 C408.4,376.2 408.6,376.1 408.9,376.0 C409.2,375.9 409.5,375.8 409.8,375.8 C410.0,375.9 410.3,376.1 410.5,376.3 C410.6,376.4 410.7,376.6 410.8,376.8Z" fill="#5a2a8c"/>
<path d="M365.4,386.5 C365.4,386.8 365.1,387.3 364.7,387.5 C364.4,387.8 363.7,387.9 363.2,388.0 C362.8,388.0 362.3,387.9 361.8,387.8 C361.4,387.7 360.8,387.6 360.6,387.4 C360.4,387.2 360.5,386.8 360.5,386.5 C360.4,386.2 360.3,385.8 360.4,385.5 C360.6,385.3 361.2,384.9 361.7,384.8 C362.1,384.7 362.8,384.9 363.3,385.0 C363.7,385.2 363.9,385.5 364.2,385.7 C364.6,385.9 365.3,386.2 365.4,386.5Z" fill="#c8164e" stroke="#de1c5c" stroke-width="0.6"/>
<path d="M364.1,386.5 C364.1,386.6 363.9,386.8 363.7,386.9 C363.5,386.9 363.2,387.0 362.9,387.0 C362.6,387.0 362.4,387.0 362.1,387.0 C361.9,386.9 361.6,386.9 361.5,386.8 C361.3,386.7 361.4,386.6 361.4,386.5 C361.4,386.4 361.3,386.3 361.4,386.2 C361.5,386.1 361.8,385.9 362.0,385.9 C362.3,385.9 362.7,385.9 362.9,386.0 C363.2,386.0 363.3,386.1 363.4,386.2 C363.6,386.3 364.0,386.4 364.1,386.5Z" fill="#5a2a8c"/>
<path d="M346.6,391.3 C346.6,391.6 346.4,391.8 346.1,392.1 C345.9,392.4 345.6,392.8 345.0,393.0 C344.5,393.2 343.4,393.2 342.9,393.1 C342.4,393.0 342.1,392.4 341.9,392.1 C341.6,391.8 341.6,391.6 341.4,391.3 C341.3,391.0 340.8,390.4 341.1,390.2 C341.3,389.9 342.5,390.0 343.1,389.9 C343.8,389.8 344.5,389.5 345.0,389.6 C345.6,389.7 346.1,390.1 346.4,390.4 C346.7,390.7 346.7,391.0 346.6,391.3Z" fill="#c8164e" stroke="#de1c5c" stroke-width="0.6"/>
<path d="M345.5,391.3 C345.4,391.4 345.3,391.5 345.2,391.6 C345.0,391.7 344.9,391.8 344.6,391.9 C344.3,392.0 343.7,392.0 343.4,391.9 C343.1,391.9 343.0,391.7 342.8,391.6 C342.7,391.5 342.7,391.4 342.6,391.3 C342.5,391.2 342.2,391.0 342.4,390.9 C342.5,390.8 343.2,390.8 343.5,390.8 C343.9,390.8 344.3,390.7 344.6,390.7 C344.9,390.7 345.2,390.9 345.3,391.0 C345.5,391.1 345.5,391.2 345.5,391.3Z" fill="#5a2a8c"/>
<path d="M400.4,382.5 C400.4,383.0 400.9,383.7 400.6,384.1 C400.4,384.5 399.6,384.8 399.0,385.0 C398.4,385.1 397.6,385.0 397.1,384.9 C396.5,384.7 396.0,384.3 395.7,383.9 C395.3,383.5 395.0,383.0 395.0,382.5 C395.0,382.0 395.3,381.4 395.6,381.1 C396.0,380.7 396.6,380.4 397.1,380.2 C397.7,380.1 398.4,380.0 398.9,380.2 C399.5,380.3 400.2,380.6 400.5,381.0 C400.7,381.4 400.4,382.0 400.4,382.5Z" fill="#c8164e" stroke="#de1c5c" stroke-width="0.6"/>
<path d="M399.3,382.5 C399.3,382.7 399.6,382.9 399.4,383.1 C399.3,383.2 398.9,383.3 398.5,383.4 C398.2,383.4 397.8,383.4 397.5,383.3 C397.2,383.3 396.9,383.1 396.7,383.0 C396.5,382.9 396.4,382.7 396.4,382.5 C396.4,382.3 396.5,382.1 396.7,382.0 C396.9,381.9 397.2,381.8 397.5,381.7 C397.8,381.7 398.2,381.6 398.5,381.7 C398.8,381.7 399.2,381.8 399.4,382.0 C399.5,382.1 399.3,382.3 399.3,382.5Z" fill="#5a2a8c"/>
<path d="M418.0,383.5 C418.0,383.8 418.0,384.1 417.7,384.4 C417.5,384.6 417.1,385.0 416.7,385.0 C416.3,385.1 415.9,384.8 415.4,384.8 C415.0,384.7 414.3,384.7 414.0,384.5 C413.7,384.3 413.5,383.8 413.6,383.5 C413.6,383.2 414.0,382.9 414.3,382.6 C414.6,382.4 414.9,382.0 415.3,381.9 C415.7,381.8 416.3,381.9 416.7,382.0 C417.1,382.1 417.6,382.4 417.8,382.6 C418.0,382.9 418.0,383.2 418.0,383.5Z" fill="#c8164e" stroke="#de1c5c" stroke-width="0.6"/>
<path d="M417.1,383.5 C417.1,383.6 417.1,383.7 417.0,383.8 C416.8,383.9 416.6,384.0 416.4,384.0 C416.2,384.1 415.9,384.0 415.7,383.9 C415.4,383.9 415.1,383.9 414.9,383.9 C414.7,383.8 414.6,383.6 414.7,383.5 C414.7,383.4 414.9,383.3 415.1,383.2 C415.2,383.1 415.4,383.0 415.6,383.0 C415.8,382.9 416.2,382.9 416.4,383.0 C416.6,383.0 416.9,383.1 417.0,383.2 C417.1,383.3 417.1,383.4 417.1,383.5Z" fill="#5a2a8c"/>
<path d="M353.9,397.0 C353.9,397.3 353.9,397.7 353.7,397.9 C353.4,398.1 352.9,398.1 352.5,398.2 C352.1,398.3 351.7,398.6 351.3,398.6 C351.0,398.5 350.6,398.1 350.4,397.9 C350.2,397.6 350.0,397.3 350.0,397.0 C349.9,396.7 350.0,396.2 350.2,396.0 C350.5,395.8 351.1,395.8 351.5,395.7 C351.9,395.7 352.3,395.4 352.7,395.5 C353.0,395.5 353.5,395.8 353.7,396.1 C353.9,396.3 353.9,396.7 353.9,397.0Z" fill="#c8164e" stroke="#de1c5c" stroke-width="0.6"/>
<path d="M353.0,397.0 C353.0,397.1 353.0,397.2 352.9,397.3 C352.8,397.4 352.5,397.4 352.3,397.4 C352.1,397.5 351.8,397.6 351.6,397.6 C351.4,397.5 351.2,397.4 351.1,397.3 C351.0,397.2 350.9,397.1 350.9,397.0 C350.9,396.9 350.9,396.7 351.0,396.7 C351.2,396.6 351.5,396.6 351.7,396.6 C351.9,396.5 352.2,396.5 352.4,396.5 C352.6,396.5 352.8,396.6 352.9,396.7 C353.0,396.8 353.0,396.9 353.0,397.0Z" fill="#5a2a8c"/>
<rect x="340.4" y="345.6" width="77.9" height="6.0" fill="#000"/>
<rect x="340.4" y="351.6" width="77.9" height="0.5" fill="#666"/>
</g>
<text x="345.9" y="350.8" font-size="6.0" font-weight="bold" fill="#3446d8">DAPI</text>
<text x="377.4" y="350.8" font-size="6.0" text-anchor="middle" font-weight="bold" fill="#9ed23a">FAP</text>
<text x="413.0" y="350.8" font-size="6.0" text-anchor="end" font-weight="bold" fill="#e4102a">RABP2</text>
<rect x="342.4" y="355.9" width="16.3" height="2.4" fill="#fff"/>
<text x="359.0" y="359.5" font-size="6.8" fill="#fff">200 μm</text>
<g clip-path="url(#cb3)">
<rect x="420.0" y="345.6" width="78.3" height="84.4" fill="#03030a"/>
<rect x="420.0" y="345.6" width="78.3" height="84.4" fill="#1c2aa4" filter="url(#nzB)" opacity="0.62"/>
<g filter="url(#nzG2)" fill="#40b43a"><ellipse cx="446" cy="407" rx="4" ry="17" opacity="0.48" transform="rotate(20 446 407)"/><ellipse cx="457" cy="392" rx="12" ry="4" opacity="0.45" transform="rotate(-45 457 392)"/><ellipse cx="470" cy="378" rx="8" ry="3" opacity="0.42" transform="rotate(-45 470 378)"/><ellipse cx="443" cy="366" rx="4" ry="4" opacity="0.33" transform="rotate(0 443 366)"/><ellipse cx="486" cy="410" rx="3" ry="3" opacity="0.39" transform="rotate(0 486 410)"/><ellipse cx="455" cy="422" rx="4" ry="5" opacity="0.33" transform="rotate(0 455 422)"/></g>
<g filter="url(#nzG)" opacity="0.8">
<g fill="#44b83a" opacity="1.0"><ellipse cx="443.4" cy="401.0" rx="3.8" ry="2.1" transform="rotate(54 443.4 401.0)"/><ellipse cx="456.6" cy="393.9" rx="3.9" ry="2.2" transform="rotate(47 456.6 393.9)"/><ellipse cx="447.7" cy="395.3" rx="2.2" ry="1.2" transform="rotate(129 447.7 395.3)"/><ellipse cx="443.2" cy="410.3" rx="3.3" ry="1.8" transform="rotate(149 443.2 410.3)"/><ellipse cx="473.9" cy="376.0" rx="3.5" ry="2.0" transform="rotate(24 473.9 376.0)"/><ellipse cx="463.2" cy="388.7" rx="3.2" ry="1.8" transform="rotate(173 463.2 388.7)"/><ellipse cx="453.5" cy="389.3" rx="3.9" ry="2.2" transform="rotate(34 453.5 389.3)"/><ellipse cx="443.8" cy="416.6" rx="2.7" ry="1.5" transform="rotate(-10 443.8 416.6)"/><ellipse cx="475.2" cy="377.4" rx="2.1" ry="1.1" transform="rotate(41 475.2 377.4)"/><ellipse cx="447.8" cy="406.5" rx="2.0" ry="1.1" transform="rotate(125 447.8 406.5)"/><ellipse cx="462.8" cy="389.0" rx="3.4" ry="1.9" transform="rotate(-8 462.8 389.0)"/><ellipse cx="443.1" cy="406.0" rx="2.6" ry="1.4" transform="rotate(101 443.1 406.0)"/><ellipse cx="452.8" cy="393.8" rx="3.1" ry="1.7" transform="rotate(23 452.8 393.8)"/><ellipse cx="444.0" cy="418.2" rx="1.8" ry="1.0" transform="rotate(176 444.0 418.2)"/><ellipse cx="441.9" cy="366.1" rx="2.4" ry="1.3" transform="rotate(44 441.9 366.1)"/><ellipse cx="484.7" cy="407.6" rx="3.1" ry="1.7" transform="rotate(65 484.7 407.6)"/><ellipse cx="442.7" cy="368.6" rx="1.9" ry="1.0" transform="rotate(178 442.7 368.6)"/><ellipse cx="467.8" cy="392.7" rx="2.0" ry="1.1" transform="rotate(117 467.8 392.7)"/><ellipse cx="474.3" cy="375.5" rx="3.3" ry="1.8" transform="rotate(70 474.3 375.5)"/><ellipse cx="452.6" cy="421.7" rx="2.9" ry="1.6" transform="rotate(41 452.6 421.7)"/></g>
</g>
<path d="M465.4,379.9h0M467.3,377.8h0M484.9,409.0h0M450.4,390.0h0M486.7,410.8h0M464.3,377.3h0M449.9,402.1h0M471.4,375.8h0M476.6,380.4h0M443.6,404.5h0M463.6,379.8h0M440.9,368.4h0M442.6,422.7h0M453.7,394.8h0M449.0,414.3h0M461.9,393.4h0M487.7,410.0h0M487.9,413.0h0M443.6,420.2h0M468.5,377.4h0M446.4,366.7h0M447.8,398.6h0M472.5,380.8h0M443.5,421.4h0M466.9,377.1h0M468.3,393.5h0M476.8,380.0h0M449.2,395.2h0M463.2,393.0h0M442.2,391.6h0M466.4,390.3h0M447.4,389.9h0M443.0,391.7h0M448.5,409.6h0M462.1,376.6h0M462.2,376.9h0M444.6,419.5h0M445.9,410.7h0M484.0,412.2h0M439.7,366.9h0" stroke="#48b83a" stroke-width="0.70" stroke-linecap="round" fill="none" opacity="0.7"/>
<g filter="url(#nzR)">
<g fill="#e8182a" opacity="1.0"><ellipse cx="493.8" cy="367.4" rx="3.4" ry="1.4" transform="rotate(138 493.8 367.4)"/><ellipse cx="480.6" cy="362.5" rx="2.3" ry="0.9" transform="rotate(141 480.6 362.5)"/><ellipse cx="491.4" cy="368.6" rx="2.6" ry="1.0" transform="rotate(146 491.4 368.6)"/><ellipse cx="478.6" cy="376.2" rx="3.2" ry="1.3" transform="rotate(47 478.6 376.2)"/><ellipse cx="486.4" cy="377.4" rx="3.1" ry="1.3" transform="rotate(67 486.4 377.4)"/><ellipse cx="479.0" cy="360.8" rx="2.9" ry="1.2" transform="rotate(95 479.0 360.8)"/><ellipse cx="483.9" cy="374.0" rx="2.6" ry="1.0" transform="rotate(30 483.9 374.0)"/><ellipse cx="491.5" cy="375.7" rx="2.3" ry="0.9" transform="rotate(194 491.5 375.7)"/><ellipse cx="492.4" cy="374.1" rx="1.9" ry="0.8" transform="rotate(130 492.4 374.1)"/><ellipse cx="484.0" cy="356.6" rx="3.2" ry="1.3" transform="rotate(165 484.0 356.6)"/><ellipse cx="478.0" cy="376.1" rx="2.4" ry="1.0" transform="rotate(143 478.0 376.1)"/><ellipse cx="492.1" cy="363.6" rx="1.9" ry="0.8" transform="rotate(123 492.1 363.6)"/></g>
</g>
<path d="M471.4,375.4h0M489.9,364.4h0M481.5,377.8h0M489.4,376.6h0M471.6,373.0h0M480.9,363.8h0M478.8,377.1h0M498.5,375.0h0M497.1,374.5h0M474.8,363.2h0M471.1,376.9h0M480.0,370.6h0" stroke="#e8182a" stroke-width="0.70" stroke-linecap="round" fill="none" opacity="0.9"/>
<path d="M437.0,354.2h0M488.1,408.8h0M481.9,385.1h0M431.2,424.9h0M484.4,362.2h0M430.7,374.2h0M448.1,410.1h0M451.8,383.1h0M473.2,381.7h0M491.6,396.8h0M470.2,351.2h0M467.6,396.0h0M478.3,353.9h0M425.2,358.8h0M497.6,392.0h0M437.9,393.2h0M463.6,429.5h0M487.2,426.6h0M497.6,418.3h0M437.9,355.8h0M421.2,371.5h0M435.7,353.8h0M496.2,371.4h0M423.3,386.3h0M446.5,382.8h0M479.6,371.5h0M463.2,380.6h0M480.9,420.5h0M491.8,400.8h0M460.1,429.1h0M478.4,429.3h0M473.1,356.9h0M422.7,407.3h0M464.7,404.8h0M473.4,386.4h0M457.9,401.8h0M447.4,393.7h0M486.0,413.3h0M448.4,355.1h0M441.3,402.8h0M425.8,413.8h0M493.9,411.2h0M487.3,418.6h0M467.2,395.7h0M425.3,410.6h0M436.4,363.5h0M473.9,362.2h0M434.2,425.8h0M472.2,422.8h0M448.9,419.1h0M452.8,406.2h0M449.2,403.0h0M444.2,403.0h0M443.2,385.7h0M470.8,408.5h0M461.4,350.5h0M459.1,402.8h0M461.9,414.1h0M464.5,350.1h0M467.2,374.5h0M493.4,370.4h0M455.0,392.0h0M427.1,360.3h0M443.2,412.5h0M477.4,380.1h0M480.2,427.6h0M468.6,370.5h0M488.0,360.4h0M498.2,418.1h0M425.1,366.3h0" stroke="#b01828" stroke-width="0.60" stroke-linecap="round" fill="none" opacity="0.7"/>
<path d="M449.0,399.0 C449.7,397.5 453.5,394.7 456.0,392.0 C458.5,389.3 462.0,384.8 464.0,383.0 C466.0,381.2 467.7,380.3 468.0,381.0 C468.3,381.7 467.7,384.7 466.0,387.0 C464.3,389.3 460.3,392.7 458.0,395.0 C455.7,397.3 453.5,400.3 452.0,401.0 C450.5,401.7 448.3,400.5 449.0,399.0Z" fill="#030305"/>
<g fill="none" stroke="#2c3cc8" stroke-width="1.0" opacity="0.7"><path d="M447,401 Q456,394 463,385 Q467,380 470,381 Q466,390 458,397 Q452,402 447,401"/></g>
<rect x="420.0" y="345.6" width="78.3" height="6.0" fill="#000"/>
<rect x="420.0" y="351.6" width="78.3" height="0.5" fill="#666"/>
</g>
<text x="422.7" y="350.8" font-size="6.0" font-weight="bold" fill="#3446d8">DAPI</text>
<text x="451.5" y="350.8" font-size="6.0" text-anchor="middle" font-weight="bold" fill="#9ed23a">FAP</text>
<text x="496.2" y="350.8" font-size="6.0" text-anchor="end" font-weight="bold" fill="#e4102a">PPP1R14A</text>
<rect x="422.0" y="355.9" width="16.3" height="2.4" fill="#fff"/>
<text x="438.6" y="359.5" font-size="6.8" fill="#fff">200 μm</text>
<rect x="200.4" y="394.4" width="7.5" height="7.5" fill="none" stroke="#ddd" stroke-width="0.6"/>
<rect x="326.0" y="397.3" width="6.5" height="6.5" fill="none" stroke="#ddd" stroke-width="0.6"/>
<rect x="373.1" y="402.3" width="8.0" height="8.0" fill="none" stroke="#ddd" stroke-width="0.6"/>
<rect x="470.0" y="376.8" width="8.0" height="8.0" fill="none" stroke="#ddd" stroke-width="0.6"/>
<g clip-path="url(#cs0)">
<rect x="185.0" y="432.0" width="67.7" height="67.0" fill="#020202"/>
<g filter="url(#sb2)">
<g filter="url(#hz)"><ellipse cx="200" cy="472" rx="14" ry="26" fill="#2a7a30" opacity="0.8"/><ellipse cx="232" cy="448" rx="14" ry="10" fill="#603020" opacity="0.7"/><ellipse cx="243" cy="478" rx="8" ry="20" fill="#182080" opacity="0.7"/></g>
<path d="M207.7,491.6l1.2,-4.9M217.2,497.6l0.2,-5.8M217.0,490.5l2.4,-3.1M193.8,450.9l1.4,-2.7M188.5,474.2l2.6,-3.7M194.2,471.4l0.2,-7.2M201.2,453.7l2.2,-3.5M204.1,456.8l1.4,-7.2M216.8,462.8l0.3,-5.0M199.6,463.9l0.8,-7.9M197.9,473.6l0.1,-4.9M206.2,452.1l3.5,-5.3M190.2,466.0l1.5,-5.5M186.6,457.1l3.1,-7.0M214.8,445.3l2.7,-3.8M201.3,480.5l1.4,-2.7M207.9,490.2l-0.0,-4.1M188.0,456.1l3.6,-4.8M202.3,455.4l0.4,-3.9M207.1,487.2l3.9,-5.9M201.4,459.0l1.8,-3.4M200.9,486.4l2.8,-4.9M202.8,484.6l1.7,-5.0M186.8,448.4l0.9,-7.1M240.0,444.0l4.1,-6.4M187.1,470.2l3.5,-6.5M245.9,447.6l0.8,-4.2M205.4,464.6l1.7,-3.8M211.7,487.6l1.1,-6.2M238.0,438.7l0.4,-4.6M185.1,463.5l1.7,-3.7M212.0,443.2l0.9,-2.9M249.0,450.8l0.5,-4.4M198.7,487.0l0.6,-5.3M246.4,450.6l1.6,-4.2M203.8,441.9l0.4,-3.7M188.4,463.8l1.4,-4.4M186.0,491.4l3.3,-5.7M202.7,450.8l0.4,-5.0M185.1,477.6l1.6,-6.3M203.6,449.2l3.0,-5.9M201.0,450.2l-0.2,-6.2M239.8,440.3l0.2,-4.2M191.1,474.4l0.8,-4.2M201.5,447.9l2.6,-3.6M220.5,464.3l2.6,-5.1M187.3,451.4l0.0,-7.0M238.3,447.8l0.1,-3.9M250.3,442.4l1.4,-3.3M204.2,458.0l0.5,-4.2M242.3,448.6l1.7,-2.9M186.4,455.7l1.9,-3.4M186.3,486.3l1.4,-3.6M207.4,489.5l-0.1,-6.9M195.6,454.3l3.4,-5.9M206.5,481.9l1.5,-3.0M205.4,446.3l1.5,-4.4M198.6,446.9l1.8,-2.7M193.1,480.8l3.5,-4.7M242.2,448.4l1.3,-4.1M238.9,438.2l2.0,-6.7M203.8,452.8l3.1,-7.0M215.7,457.1l2.5,-5.6M202.1,490.1l3.4,-6.4M197.5,475.9l3.2,-4.9M220.2,485.1l2.1,-4.5M216.6,452.0l1.8,-7.5M199.6,489.8l3.1,-6.8M190.9,462.4l2.9,-7.2M214.3,490.4l0.6,-3.7M203.2,451.0l0.9,-3.0M207.4,454.6l2.8,-4.2M205.9,447.4l1.9,-4.5M213.1,489.2l0.3,-3.8M203.2,493.2l2.7,-3.7M204.6,489.7l2.8,-6.7M212.3,483.6l1.9,-3.0M197.1,481.6l2.9,-5.7M218.0,495.7l1.5,-3.3M238.3,442.9l1.5,-4.4M190.7,462.0l2.9,-5.8M218.8,485.4l2.2,-5.0M201.4,462.5l2.0,-3.0M192.3,473.7l0.4,-6.0M207.9,472.9l-0.2,-7.7M188.2,497.2l2.5,-7.6M198.3,498.9l1.7,-3.9M235.0,444.4l0.8,-3.3M215.8,491.8l2.9,-3.8M211.7,496.9l1.0,-3.1M219.0,446.2l1.7,-2.9M195.8,482.6l3.3,-4.9M218.5,489.7l1.9,-3.9M213.2,494.0l2.9,-4.1M207.9,450.0l2.7,-4.7M206.4,479.3l1.6,-4.8M206.0,447.3l0.9,-5.6M218.9,452.4l0.1,-5.0M240.4,448.5l1.9,-3.1M184.3,473.8l2.0,-4.1M207.2,466.6l4.1,-6.2M197.8,491.2l3.4,-5.6M208.1,487.8l3.0,-6.0M192.9,492.3l3.6,-6.3M195.2,463.6l3.5,-5.5M201.4,467.0l2.6,-3.6M201.3,495.3l0.0,-3.0M206.3,453.7l0.8,-6.6M245.8,449.7l0.2,-4.1M210.6,485.6l0.5,-3.1M221.4,491.2l1.0,-6.2M211.6,499.4l3.1,-6.1M210.9,456.5l2.6,-3.8M198.6,493.3l0.1,-3.1M204.1,465.5l0.6,-5.3M240.4,444.4l3.6,-4.7M201.9,455.5l1.6,-5.2M206.8,498.0l1.4,-3.9M216.6,449.1l3.5,-4.7M237.5,438.6l2.2,-3.7" stroke="#3cb028" stroke-width="1.77" stroke-linecap="round" fill="none" opacity="0.8"/>
<path d="M193.5,441.1l0.3,-4.2M196.9,472.8l1.1,-3.0M200.6,473.3l0.6,-4.9M197.3,490.6l1.6,-4.6M203.0,442.9l0.5,-5.3M210.3,437.5l1.6,-5.1M206.8,447.9l1.6,-5.3M207.3,437.6l1.4,-4.6M195.1,459.7l1.6,-4.7M200.5,467.5l1.2,-4.5M195.2,442.3l1.5,-4.9M186.2,475.9l1.2,-3.8M195.9,485.1l0.7,-3.2M193.9,486.8l2.0,-5.2M192.6,458.2l0.8,-4.9M190.7,451.7l1.4,-4.3M205.6,445.0l1.5,-4.1M188.8,476.3l0.7,-3.0M212.7,440.5l1.1,-3.4M211.2,484.4l0.7,-4.6M207.5,486.4l0.1,-3.6M209.7,442.2l2.0,-5.5M201.2,488.3l1.6,-5.5M201.4,475.9l1.2,-3.3M209.5,491.6l1.2,-4.2M202.5,442.7l0.9,-4.1M208.3,486.1l0.2,-4.7M191.8,477.2l1.0,-3.6M191.2,436.1l0.8,-4.1M212.7,479.8l0.2,-4.7" stroke="#2a3cc8" stroke-width="2.15" stroke-linecap="round" fill="none" opacity="0.85"/>
<ellipse cx="189" cy="448" rx="3.6" ry="1.8" transform="rotate(-75 189 448)" fill="#2434c4" opacity="0.9"/>
<ellipse cx="191" cy="466" rx="3.6" ry="1.8" transform="rotate(-75 191 466)" fill="#2434c4" opacity="0.9"/>
<ellipse cx="188" cy="482" rx="3.6" ry="1.8" transform="rotate(-75 188 482)" fill="#2434c4" opacity="0.9"/>
<ellipse cx="195" cy="494" rx="3.6" ry="1.8" transform="rotate(-75 195 494)" fill="#2434c4" opacity="0.9"/>
<ellipse cx="206" cy="448" rx="3.6" ry="1.8" transform="rotate(-75 206 448)" fill="#2434c4" opacity="0.9"/>
<ellipse cx="214" cy="462" rx="3.6" ry="1.8" transform="rotate(-75 214 462)" fill="#2434c4" opacity="0.9"/>
<ellipse cx="205" cy="496" rx="3.6" ry="1.8" transform="rotate(-75 205 496)" fill="#2434c4" opacity="0.9"/>
<ellipse cx="219" cy="440" rx="3.6" ry="1.8" transform="rotate(-75 219 440)" fill="#2434c4" opacity="0.9"/>
<path d="M236,499 L252,499 L252,455 Q246,458 240,470 Q236,485 236,499Z" fill="#020204"/>
<path d="M226.8,455.1l3.2,-8.2M222.1,484.7l1.9,-6.4M223.1,476.8l2.9,-5.2M192.0,484.4l1.8,-4.0M225.5,483.3l2.9,-7.0M225.5,476.2l2.8,-6.2M228.7,454.5l2.3,-4.5M220.1,493.8l3.5,-6.1M232.5,460.2l1.4,-5.0M202.9,485.7l1.7,-5.3M232.1,456.8l1.6,-4.7M227.3,460.1l2.2,-4.5M236.8,467.9l2.0,-4.6M221.5,483.4l1.1,-4.2M219.4,485.7l3.8,-7.0M233.5,447.6l1.5,-4.4M221.9,482.7l1.7,-4.5M236.2,460.3l2.6,-6.6M221.1,487.0l1.8,-3.6M223.4,478.7l2.7,-7.6M235.0,445.7l1.5,-4.1M227.3,465.9l2.0,-5.3M228.6,452.7l1.3,-4.1M222.4,485.2l3.2,-5.8M219.9,494.1l2.3,-7.4M199.4,491.4l2.4,-8.4M225.6,469.7l2.6,-4.7M230.3,470.8l2.2,-8.0M225.9,479.2l2.1,-4.2M227.7,452.2l2.0,-7.4M221.1,469.0l3.0,-7.0M224.6,484.3l3.0,-5.5M194.0,488.9l2.1,-4.4M214.8,453.2l2.0,-5.2M231.2,463.5l1.4,-4.9M230.3,457.9l2.0,-3.9M235.0,459.7l1.7,-5.0M232.1,465.3l1.4,-5.1M233.0,440.5l1.7,-5.1M215.4,447.8l1.9,-4.5M234.3,451.4l2.1,-7.0M201.0,487.9l3.8,-7.8M232.7,468.1l3.6,-7.4M236.4,446.6l1.1,-4.4M230.5,448.0l2.4,-6.0" stroke="#e01c1c" stroke-width="1.37" stroke-linecap="round" fill="none" opacity="0.9"/>
<ellipse cx="246" cy="463" rx="4.4" ry="2.9" transform="rotate(-35 246 463)" fill="#2a38d0"/>
<ellipse cx="240" cy="471" rx="4.4" ry="2.9" transform="rotate(-35 240 471)" fill="#2a38d0"/>
<ellipse cx="247" cy="479" rx="4.4" ry="2.9" transform="rotate(-35 247 479)" fill="#2a38d0"/>
<ellipse cx="238" cy="485" rx="4.4" ry="2.9" transform="rotate(-35 238 485)" fill="#2a38d0"/>
<ellipse cx="246" cy="492" rx="4.4" ry="2.9" transform="rotate(-35 246 492)" fill="#2a38d0"/>
<ellipse cx="233" cy="496" rx="4.4" ry="2.9" transform="rotate(-35 233 496)" fill="#2a38d0"/>
<ellipse cx="249" cy="451" rx="4.4" ry="2.9" transform="rotate(-35 249 451)" fill="#2a38d0"/>
<ellipse cx="243" cy="440" rx="4.4" ry="2.9" transform="rotate(-35 243 440)" fill="#2a38d0"/>
<ellipse cx="238" cy="458" rx="4.4" ry="2.9" transform="rotate(-35 238 458)" fill="#2a38d0"/>
<ellipse cx="251" cy="470" rx="4.4" ry="2.9" transform="rotate(-35 251 470)" fill="#2a38d0"/>
<ellipse cx="251" cy="486" rx="4.4" ry="2.9" transform="rotate(-35 251 486)" fill="#2a38d0"/>
<ellipse cx="242" cy="498" rx="4.4" ry="2.9" transform="rotate(-35 242 498)" fill="#2a38d0"/>
<ellipse cx="228" cy="492" rx="4.4" ry="2.9" transform="rotate(-35 228 492)" fill="#2a38d0"/>
<ellipse cx="236" cy="448" rx="4.4" ry="2.9" transform="rotate(-35 236 448)" fill="#2a38d0"/>
<path d="M223.3,473.4l1.3,-3.6M219.4,478.6l0.6,-2.5M222.7,472.8l0.6,-3.0M221.9,474.1l1.9,-3.3M221.9,473.2l0.6,-3.0M222.8,471.8l1.0,-2.8" stroke="#e8d830" stroke-width="1.58" stroke-linecap="round" fill="none" opacity="0.95"/>
</g>
</g>
<rect x="187.8" y="437.6" width="34" height="2.0" fill="#fff"/>
<text x="206.0" y="437.6" font-size="6.8" text-anchor="middle" fill="#fff">50 μm</text>
<line x1="216.0" y1="444.6" x2="225.7" y2="445.8" stroke="#fff" stroke-width="0.9"/>
<path d="M229.5,446.2 L225.5,447.9 L226.0,443.6Z" fill="#fff"/>
<line x1="210.0" y1="461.0" x2="217.1" y2="466.0" stroke="#fff" stroke-width="0.9"/>
<path d="M220.2,468.2 L215.8,467.8 L218.4,464.2Z" fill="#fff"/>
<line x1="210.0" y1="472.0" x2="217.6" y2="477.1" stroke="#fff" stroke-width="0.9"/>
<path d="M220.8,479.2 L216.4,478.9 L218.9,475.3Z" fill="#fff"/>
<g clip-path="url(#cs1)">
<rect x="265.4" y="432.0" width="67.6" height="67.0" fill="#020202"/>
<g filter="url(#sb2)">
<g filter="url(#hz)"><ellipse cx="300" cy="478" rx="28" ry="18" fill="#1a5020" opacity="0.8"/><ellipse cx="305" cy="452" rx="28" ry="14" fill="#141a60" opacity="0.8"/></g>
<path d="M272.8,492.2l2.2,-3.9M311.7,463.5l3.3,-5.5M294.2,486.6l4.8,-7.0M305.3,462.7l3.9,-6.8M272.8,476.5l3.1,-7.8M266.7,495.5l3.6,-6.3M265.3,479.0l3.3,-5.3M281.5,499.3l3.2,-4.5M277.5,463.0l0.9,-4.7M293.6,464.5l3.0,-7.7M304.9,468.5l3.0,-4.0M283.2,493.6l2.8,-8.4M266.5,468.6l2.9,-7.0M310.8,469.5l2.7,-3.9M301.1,479.7l2.6,-5.3M298.1,472.9l3.3,-7.9M272.8,472.9l2.6,-4.1M269.4,493.0l2.9,-4.4M277.0,467.8l4.7,-7.5M269.2,479.1l5.0,-7.3M269.6,490.4l1.2,-4.5M286.7,473.3l3.8,-6.5M291.2,481.3l3.2,-6.7M295.9,483.5l2.7,-6.4M286.7,495.2l4.5,-5.6M321.2,471.4l4.3,-6.2M305.5,470.5l2.9,-8.1M283.8,491.7l5.3,-6.6M284.0,498.6l2.8,-3.4M297.6,477.8l1.9,-7.5M307.3,475.8l2.4,-5.3M303.6,496.3l1.5,-6.4M301.7,486.7l2.6,-5.7M297.1,474.1l3.0,-4.7M305.9,487.5l3.3,-5.0M302.6,471.9l2.2,-4.5M300.0,492.6l3.0,-7.7M274.3,463.9l2.9,-6.7M267.3,496.6l2.8,-5.4M266.5,491.7l2.5,-3.6M274.0,468.1l4.8,-6.3M266.9,463.7l1.1,-4.9M269.2,475.6l2.5,-7.3M285.2,497.6l1.6,-5.1M268.1,501.0l2.0,-8.1M294.0,467.6l4.2,-7.9M310.0,494.1l2.1,-5.1M283.8,462.9l1.8,-3.9M312.0,479.8l3.3,-7.4M314.7,478.7l1.6,-3.7M277.4,495.1l3.1,-7.1M296.8,473.8l1.0,-5.0M295.1,469.1l3.3,-5.3M274.3,500.7l5.4,-6.5M268.4,480.0l2.6,-7.1M306.9,493.3l2.5,-6.1M311.6,473.3l1.8,-5.3M275.9,485.2l1.2,-4.0M310.9,489.7l4.4,-6.0M282.9,464.1l3.5,-6.2M268.7,493.0l2.7,-5.6M320.6,477.6l3.5,-5.7M308.7,474.4l1.6,-7.7M318.8,466.9l5.1,-7.1M269.1,488.9l1.4,-7.2M304.6,473.8l2.0,-4.3M308.1,491.6l1.6,-8.4M296.5,489.8l2.7,-7.6M288.9,471.3l3.0,-7.5M286.4,496.7l2.7,-6.2" stroke="#2f8a26" stroke-width="1.38" stroke-linecap="round" fill="none" opacity="0.75"/>
<ellipse cx="328.3" cy="494.3" rx="3.8" ry="1.8" transform="rotate(-74 328.3 494.3)" fill="#2434c0" opacity="0.9"/>
<ellipse cx="279.0" cy="486.3" rx="3.9" ry="1.8" transform="rotate(-75 279.0 486.3)" fill="#2434c0" opacity="0.9"/>
<ellipse cx="318.2" cy="482.4" rx="4.1" ry="1.8" transform="rotate(-58 318.2 482.4)" fill="#2434c0" opacity="0.9"/>
<ellipse cx="300.3" cy="485.7" rx="2.8" ry="1.9" transform="rotate(-60 300.3 485.7)" fill="#2434c0" opacity="0.9"/>
<ellipse cx="312.2" cy="496.5" rx="3.7" ry="1.7" transform="rotate(-62 312.2 496.5)" fill="#2434c0" opacity="0.9"/>
<ellipse cx="322.2" cy="478.3" rx="3.7" ry="1.5" transform="rotate(-80 322.2 478.3)" fill="#2434c0" opacity="0.9"/>
<ellipse cx="282.1" cy="457.3" rx="3.9" ry="1.7" transform="rotate(-79 282.1 457.3)" fill="#2434c0" opacity="0.9"/>
<ellipse cx="269.4" cy="497.9" rx="3.1" ry="1.7" transform="rotate(-58 269.4 497.9)" fill="#2434c0" opacity="0.9"/>
<ellipse cx="328.7" cy="454.7" rx="3.7" ry="1.8" transform="rotate(-73 328.7 454.7)" fill="#2434c0" opacity="0.9"/>
<ellipse cx="328.3" cy="436.8" rx="3.7" ry="2.0" transform="rotate(-61 328.3 436.8)" fill="#2434c0" opacity="0.9"/>
<ellipse cx="303.9" cy="492.5" rx="3.9" ry="2.0" transform="rotate(-79 303.9 492.5)" fill="#2434c0" opacity="0.9"/>
<ellipse cx="324.8" cy="446.6" rx="3.0" ry="1.7" transform="rotate(-67 324.8 446.6)" fill="#2434c0" opacity="0.9"/>
<ellipse cx="288.2" cy="463.1" rx="3.2" ry="1.7" transform="rotate(-62 288.2 463.1)" fill="#2434c0" opacity="0.9"/>
<ellipse cx="310.6" cy="439.4" rx="4.1" ry="1.6" transform="rotate(-72 310.6 439.4)" fill="#2434c0" opacity="0.9"/>
<ellipse cx="317.3" cy="489.1" rx="4.1" ry="2.1" transform="rotate(-66 317.3 489.1)" fill="#2434c0" opacity="0.9"/>
<ellipse cx="326.2" cy="485.2" rx="4.0" ry="2.2" transform="rotate(-56 326.2 485.2)" fill="#2434c0" opacity="0.9"/>
<ellipse cx="297.6" cy="464.6" rx="3.8" ry="2.1" transform="rotate(-62 297.6 464.6)" fill="#2434c0" opacity="0.9"/>
<ellipse cx="290.5" cy="440.0" rx="3.0" ry="2.1" transform="rotate(-57 290.5 440.0)" fill="#2434c0" opacity="0.9"/>
<ellipse cx="268.7" cy="458.9" rx="3.7" ry="1.8" transform="rotate(-79 268.7 458.9)" fill="#2434c0" opacity="0.9"/>
<ellipse cx="322.9" cy="475.7" rx="3.2" ry="1.8" transform="rotate(-71 322.9 475.7)" fill="#2434c0" opacity="0.9"/>
<ellipse cx="308.5" cy="491.0" rx="3.6" ry="1.7" transform="rotate(-71 308.5 491.0)" fill="#2434c0" opacity="0.9"/>
<ellipse cx="321.5" cy="481.8" rx="3.3" ry="2.1" transform="rotate(-65 321.5 481.8)" fill="#2434c0" opacity="0.9"/>
<ellipse cx="331.9" cy="491.6" rx="2.9" ry="1.8" transform="rotate(-80 331.9 491.6)" fill="#2434c0" opacity="0.9"/>
<ellipse cx="329.1" cy="450.1" rx="3.1" ry="1.9" transform="rotate(-57 329.1 450.1)" fill="#2434c0" opacity="0.9"/>
<ellipse cx="309.8" cy="489.5" rx="3.7" ry="1.9" transform="rotate(-68 309.8 489.5)" fill="#2434c0" opacity="0.9"/>
<ellipse cx="304.0" cy="437.5" rx="3.0" ry="2.2" transform="rotate(-75 304.0 437.5)" fill="#2434c0" opacity="0.9"/>
<path d="M293.3,453.2l1.5,-5.4M291.1,450.7l2.3,-5.0M293.8,448.7l1.5,-4.4M267.1,453.4l1.9,-5.2" stroke="#e01818" stroke-width="1.60" stroke-linecap="round" fill="none" opacity="0.95"/>
<path d="M285.1,483.1l2.4,-6.2M309.3,453.2l1.6,-4.0M283.6,480.6l2.1,-6.4M285.9,485.3l1.4,-5.2" stroke="#e8c820" stroke-width="1.46" stroke-linecap="round" fill="none" opacity="0.95"/>
<path d="M284.6,479.2l0.8,-3.2M285.8,478.5l1.1,-4.1" stroke="#e03010" stroke-width="1.41" stroke-linecap="round" fill="none" opacity="0.9"/>
</g>
</g>
<rect x="268.2" y="437.6" width="34" height="2.0" fill="#fff"/>
<text x="286.4" y="437.6" font-size="6.8" text-anchor="middle" fill="#fff">50 μm</text>
<line x1="326.7" y1="444.5" x2="317.9" y2="447.0" stroke="#fff" stroke-width="0.9"/>
<path d="M314.2,448.0 L317.3,444.9 L318.5,449.1Z" fill="#fff"/>
<line x1="283.8" y1="456.3" x2="293.3" y2="458.8" stroke="#fff" stroke-width="0.9"/>
<path d="M297.0,459.8 L292.8,461.0 L293.9,456.7Z" fill="#fff"/>
<line x1="272.0" y1="473.6" x2="280.5" y2="478.7" stroke="#fff" stroke-width="0.9"/>
<path d="M283.8,480.6 L279.4,480.6 L281.7,476.8Z" fill="#fff"/>
<g clip-path="url(#cs2)">
<rect x="345.8" y="432.0" width="67.7" height="67.0" fill="#020202"/>
<g filter="url(#sb2)">
<rect x="345" y="432" width="70" height="67" fill="#0c1430"/>
<path d="M395.2,489.8l9.1,5.2M356.0,485.3l5.4,3.2M408.7,478.1l7.2,4.0M354.0,485.5l7.1,4.8M337.9,486.4l8.5,7.4M369.1,451.1l5.7,3.2M369.0,477.8l4.8,4.5M363.7,458.1l8.0,5.0M349.2,469.4l6.2,3.4M399.1,480.8l6.7,4.9M375.9,460.6l7.0,4.9M364.8,455.7l5.0,2.7M362.5,475.9l7.2,6.2M397.4,465.8l9.3,4.9M374.0,475.9l9.2,7.2M351.3,473.8l3.9,3.2M384.1,475.1l6.1,4.0M354.0,483.3l7.7,4.4M358.1,436.3l8.9,7.8M396.4,458.7l7.4,4.5M376.6,481.8l9.8,6.2M355.9,469.2l8.9,6.5M396.0,432.6l7.2,6.0M401.4,447.3l9.5,6.6M345.1,443.4l4.7,3.7M352.6,457.8l10.3,5.7M344.9,437.3l9.6,6.9M348.9,486.0l7.5,3.9M369.9,471.9l4.9,3.9M361.4,435.4l4.6,2.6M389.6,440.8l4.7,3.2M365.2,493.5l5.1,2.9M362.0,456.5l6.9,4.7M385.6,489.4l9.8,5.6M383.2,472.9l7.7,5.2M396.5,466.5l3.8,3.4M340.3,471.5l6.8,5.2M342.0,482.0l6.9,4.9M348.6,471.7l9.4,6.6M405.4,485.7l8.4,5.4M365.9,473.8l7.1,4.5M410.1,439.9l4.8,4.2M355.2,474.7l4.0,3.0M361.2,471.6l8.6,6.2M379.2,464.4l8.2,7.4M373.9,485.5l7.1,3.7M367.8,448.1l8.1,5.7M379.7,437.1l9.3,6.1M371.2,489.2l4.3,3.6M365.8,431.1l5.4,4.6M356.9,482.0l7.4,4.3M376.2,480.3l7.5,5.9M384.4,449.6l7.8,6.1M342.6,485.6l5.4,4.5M401.5,478.6l5.5,5.0M400.5,446.3l6.6,4.7M345.4,482.7l4.9,4.3M400.4,433.6l9.3,5.7M407.2,471.9l7.4,6.0M358.3,440.0l4.9,4.3M355.4,447.2l5.4,2.9M360.3,496.8l6.8,3.6M408.2,443.1l6.9,4.6M343.0,454.5l6.6,5.1M353.7,446.9l4.8,3.4M402.9,490.5l6.2,5.5M377.7,434.3l9.7,6.8M364.3,435.9l4.8,3.2M374.1,447.8l7.6,4.8M392.6,449.3l9.7,6.6M364.9,480.6l7.3,6.6M405.4,441.2l7.1,6.5M351.3,441.3l8.5,5.2M381.9,458.2l4.7,2.8M387.2,480.7l5.0,3.0M345.4,441.3l7.8,5.7M407.4,434.0l9.6,5.9M375.7,452.1l6.8,5.4M380.8,496.0l4.9,4.4M346.2,467.1l9.1,7.3M365.6,496.4l8.1,4.2M369.3,484.6l6.5,5.7M402.3,431.3l4.8,2.5M377.1,455.1l6.3,4.1M405.7,454.4l5.0,3.6M346.8,483.4l6.3,3.5M344.7,461.9l8.5,5.8M357.1,438.9l3.8,3.4M364.3,480.7l7.0,5.9M371.9,429.8l8.8,8.1M408.0,444.6l10.2,5.3M357.8,481.3l5.7,4.6M393.2,433.5l6.3,5.2M352.3,458.5l4.3,3.8M404.0,467.5l9.8,6.8M392.7,484.4l5.4,4.5M343.0,464.4l4.9,4.0M355.0,443.1l7.0,4.2M373.4,477.0l4.5,3.5M377.8,448.7l5.7,3.7M361.2,430.6l9.1,6.0M345.1,433.2l5.9,3.4M367.1,475.8l4.9,2.9M378.5,459.3l8.1,4.3M347.2,432.9l8.0,5.4M351.2,494.7l8.2,6.6M344.6,483.8l5.6,3.4M358.3,440.1l6.0,5.1M351.1,459.3l5.1,3.0M369.4,443.8l7.2,6.4" stroke="#5cd02a" stroke-width="2.26" stroke-linecap="round" fill="none" opacity="0.95"/>
<path d="M396.9,434.7l4.1,2.4M346.4,447.1l6.6,4.9M378.4,487.3l7.3,4.9M398.9,462.8l4.3,2.7M349.0,450.1l7.2,5.3M386.1,436.8l5.5,2.8M343.8,447.0l6.3,3.5M366.2,457.9l6.6,5.2M379.4,447.4l3.2,2.7M362.6,471.0l6.5,5.2M371.9,433.5l6.1,3.9M408.8,456.0l4.1,3.3M342.6,463.5l5.1,3.2M383.3,485.1l4.2,3.6M364.1,457.8l6.0,4.8M349.4,441.2l3.2,2.8M365.0,455.1l4.0,3.7M352.2,469.3l4.5,3.6M387.7,444.6l4.3,2.3M370.3,437.7l5.0,4.2M359.2,459.6l6.5,6.1M367.7,439.5l5.9,4.9M362.5,436.4l6.7,3.5M381.5,465.5l3.9,2.3M398.5,443.2l6.5,4.5M348.9,464.2l6.7,4.8M371.6,442.7l7.4,5.0M342.5,443.0l5.1,3.2M369.6,449.5l6.2,3.7M378.3,447.3l6.2,4.3M342.0,470.5l5.8,4.0M383.0,458.4l3.5,3.2M407.2,475.8l6.8,5.5M363.4,484.4l3.4,2.7M353.9,428.6l5.2,3.5M365.9,452.2l3.5,2.8M349.7,447.1l4.1,3.0M399.5,466.9l4.3,3.2M383.8,474.0l4.4,3.8M385.8,437.4l3.6,2.8M343.8,486.5l3.5,2.0M355.2,462.6l4.4,2.9M388.9,437.8l6.0,5.4M367.1,485.2l5.1,3.2M379.4,480.0l3.5,2.5" stroke="#2232c0" stroke-width="2.14" stroke-linecap="round" fill="none" opacity="0.95"/>
<path d="M345,474 Q356,478 366,490 L368,499 L345,499Z" fill="#030303"/>
<path d="M348,490 q4,-5 8,-1 q3,4 -2,6 q-6,2 -6,-5z" fill="none" stroke="#e8102a" stroke-width="2.2"/>
<path d="M401.2,465.1h0M398.4,475.2h0M365.7,467.2h0M395.8,440.1h0M366.5,445.9h0M399.6,493.2h0M391.7,480.6h0M354.6,487.6h0M383.4,443.5h0M409.6,438.2h0M386.3,477.1h0M356.0,484.6h0M407.6,493.8h0M388.1,447.7h0M402.2,462.1h0M358.4,453.1h0M387.0,441.4h0M407.9,434.4h0M349.4,477.9h0M366.4,480.0h0M359.9,494.5h0M412.0,468.4h0M350.0,451.3h0M410.5,475.3h0M386.8,489.5h0M382.9,457.1h0M402.4,493.1h0M364.4,494.0h0M355.1,452.6h0M352.5,461.1h0M377.4,455.3h0M388.4,482.0h0M394.1,458.7h0M379.7,491.4h0M356.6,481.9h0M358.6,495.1h0M410.4,474.8h0M384.8,490.7h0M369.7,440.8h0M386.3,486.9h0" stroke="#d01850" stroke-width="0.80" stroke-linecap="round" fill="none" opacity="0.9"/>
</g>
</g>
<rect x="348.6" y="437.6" width="34" height="2.0" fill="#fff"/>
<text x="366.8" y="437.6" font-size="6.8" text-anchor="middle" fill="#fff">50 μm</text>
<line x1="372.0" y1="456.3" x2="365.7" y2="462.6" stroke="#fff" stroke-width="0.9"/>
<path d="M363.0,465.3 L364.1,461.1 L367.2,464.2Z" fill="#fff"/>
<line x1="388.7" y1="468.8" x2="382.6" y2="473.9" stroke="#fff" stroke-width="0.9"/>
<path d="M379.7,476.4 L381.2,472.3 L384.0,475.6Z" fill="#fff"/>
<line x1="400.5" y1="473.6" x2="394.2" y2="479.9" stroke="#fff" stroke-width="0.9"/>
<path d="M391.5,482.6 L392.6,478.4 L395.7,481.5Z" fill="#fff"/>
<g clip-path="url(#cs3)">
<rect x="425.2" y="432.0" width="67.5" height="67.0" fill="#020202"/>
<g filter="url(#sb2)">
<g filter="url(#hz)"><ellipse cx="448" cy="468" rx="16" ry="26" transform="rotate(40 448 468)" fill="#2a6a20" opacity="0.8"/><ellipse cx="468" cy="462" rx="6" ry="24" transform="rotate(40 468 462)" fill="#602020" opacity="0.7"/></g>
<path d="M450.0,495.2l5.8,-6.6M441.4,479.5l6.5,-4.9M445.8,456.5l5.4,-3.8M450.6,487.5l6.3,-6.6M429.9,496.0l5.2,-5.9M432.4,457.7l6.9,-5.9M443.2,461.6l5.1,-4.6M455.1,495.2l6.5,-6.7M452.9,449.5l7.8,-6.1M468.8,460.9l3.8,-4.8M451.0,499.4l3.6,-4.6M450.8,491.5l4.4,-6.0M446.0,443.7l5.8,-6.9M430.7,451.6l4.3,-3.2M451.6,472.8l7.0,-5.9M449.5,473.2l2.9,-2.9M435.5,467.9l5.4,-5.8M457.0,449.0l6.5,-6.0M469.9,453.0l6.1,-6.0M451.4,495.1l4.1,-3.3M429.9,498.7l8.0,-6.0M454.7,454.4l5.3,-4.0M433.7,475.5l3.2,-4.1M458.9,447.2l7.1,-6.5M437.5,452.5l4.1,-4.8M467.3,443.3l2.5,-3.5M425.2,466.7l6.3,-5.1M427.6,482.5l4.7,-3.3M460.5,450.9l5.7,-5.3M476.6,441.3l4.8,-5.0M428.7,496.3l3.5,-3.8M447.2,470.8l5.2,-5.2M453.6,451.1l6.2,-7.3M436.9,482.1l5.1,-5.6M429.9,464.6l3.7,-2.9M426.4,482.4l6.5,-5.8M451.1,452.7l5.3,-7.0M440.8,491.2l4.8,-3.9M444.0,440.2l5.5,-5.5M454.4,449.0l3.4,-4.6M450.6,450.1l6.5,-7.4M479.2,451.0l4.3,-3.9M428.7,472.4l3.8,-3.6M459.8,450.7l4.9,-5.6M438.8,468.3l5.6,-5.4M454.6,450.7l4.1,-4.6M451.8,466.0l3.6,-4.1M453.3,448.4l4.0,-3.7M438.4,498.1l7.0,-5.4M442.9,457.4l3.2,-2.6M445.9,470.5l7.2,-6.3M429.7,484.6l5.8,-6.6M444.3,478.8l6.4,-6.8M450.3,451.1l5.0,-6.2M478.9,445.0l4.8,-4.3M437.4,458.9l4.3,-4.2M453.4,439.4l3.3,-2.9M455.2,447.6l7.2,-5.9M433.8,481.6l7.6,-5.4M441.7,462.2l5.6,-7.5M465.7,458.5l3.5,-3.4M479.1,457.2l4.7,-3.3M431.4,495.7l4.3,-3.1M439.3,481.7l3.5,-2.9M450.6,443.2l4.9,-4.6M446.5,456.2l3.7,-3.8M442.0,454.2l6.8,-5.3M468.9,452.2l5.5,-4.2M437.6,495.1l4.2,-4.4M426.8,499.7l6.2,-5.1M438.2,462.4l5.3,-6.1M441.4,476.6l3.2,-4.5M478.3,444.7l4.3,-5.0M463.1,450.5l6.9,-6.6M455.8,441.3l6.2,-5.2M458.0,442.7l3.8,-3.4M447.6,476.8l5.3,-7.3M444.9,445.8l2.5,-3.4M458.3,447.2l3.2,-4.3M426.0,472.6l5.2,-5.8" stroke="#46c030" stroke-width="2.02" stroke-linecap="round" fill="none" opacity="0.85"/>
<path d="M472.7,451.5l3.0,-6.3M474.0,449.1l3.1,-6.5M490.2,486.8l2.8,-4.0M459.9,464.1l4.3,-4.4M475.0,471.4l2.0,-2.9M467.3,472.2l3.1,-4.6M468.2,471.4l4.7,-5.5M465.6,469.1l3.8,-5.1M463.0,489.8l2.8,-4.5M467.1,476.6l2.0,-4.1M470.4,468.1l4.7,-5.1M477.1,446.9l3.6,-4.7M469.5,462.6l2.2,-2.4M466.9,457.0l4.1,-5.0M484.4,495.1l2.0,-3.8M488.9,493.0l5.0,-6.1M486.8,480.5l4.7,-5.3M462.2,488.4l2.6,-2.7M484.3,447.6l2.5,-4.2M483.1,437.8l3.3,-6.4M471.6,479.8l3.0,-3.6M461.2,490.2l1.9,-2.6M489.8,486.3l3.5,-4.2M483.1,494.7l2.1,-4.0M481.7,496.5l3.8,-6.5M460.9,473.9l5.2,-5.9M482.7,480.6l3.1,-3.9M467.3,470.0l4.0,-4.5" stroke="#e81818" stroke-width="1.55" stroke-linecap="round" fill="none" opacity="0.95"/>
<path d="M464.0,445.8l1.7,-2.6M433.3,483.1l1.5,-4.0M446.9,490.7l3.0,-4.2M452.9,453.8l1.5,-3.5M429.3,494.7l1.6,-3.1M451.2,469.8l1.9,-2.9M457.0,459.6l2.1,-3.8M463.5,466.8l2.0,-2.6M460.5,445.6l2.3,-4.2M483.8,466.3l2.4,-4.9M453.6,443.9l2.3,-4.1M464.2,449.3l3.1,-4.6M455.7,442.7l3.9,-5.0M435.3,490.3l3.0,-5.0M464.9,446.2l1.7,-3.1M481.4,451.1l3.7,-4.8M473.7,460.5l1.6,-3.7M449.4,462.9l2.4,-3.3" stroke="#2a38c8" stroke-width="2.23" stroke-linecap="round" fill="none" opacity="0.85"/>
<g fill="#141850">
<ellipse cx="482" cy="470" rx="5" ry="3" transform="rotate(-30 482 470)"/>
<ellipse cx="476" cy="486" rx="5" ry="3" transform="rotate(-30 476 486)"/>
<ellipse cx="488" cy="458" rx="5" ry="3" transform="rotate(-30 488 458)"/>
<ellipse cx="470" cy="497" rx="5" ry="3" transform="rotate(-30 470 497)"/>
</g>
</g>
</g>
<rect x="428.0" y="437.6" width="34" height="2.0" fill="#fff"/>
<text x="446.2" y="437.6" font-size="6.8" text-anchor="middle" fill="#fff">50 μm</text>
<line x1="428.5" y1="452.9" x2="428.5" y2="462.9" stroke="#fff" stroke-width="0.9"/>
<path d="M428.5,466.7 L426.3,462.9 L430.7,462.9Z" fill="#fff"/>
<line x1="443.8" y1="460.5" x2="450.1" y2="466.8" stroke="#fff" stroke-width="0.9"/>
<path d="M452.8,469.5 L448.6,468.4 L451.7,465.3Z" fill="#fff"/>
<line x1="488.1" y1="446.6" x2="483.5" y2="440.6" stroke="#fff" stroke-width="0.9"/>
<path d="M481.2,437.6 L485.3,439.3 L481.8,442.0Z" fill="#fff"/>
<text x="297.8" y="10.1" font-size="10" font-weight="bold" fill="#000">B</text>
<path d="M358.5,52.5 C359.8,51.8 364.4,53.5 368.0,53.5 C371.6,53.5 376.2,52.9 380.0,52.3 C383.8,51.7 387.2,50.3 390.8,49.7 C394.4,49.1 398.4,49.3 401.5,48.8 C404.6,48.3 407.1,47.8 409.2,46.9 C411.3,46.0 412.5,44.5 414.0,43.5 C415.5,42.5 416.5,40.5 418.0,41.0 C419.5,41.5 420.7,45.3 423.1,46.2 C425.5,47.1 429.0,47.0 432.3,46.2 C435.6,45.4 440.8,41.6 442.7,41.6 C444.6,41.6 444.3,44.3 443.9,46.2 C443.5,48.1 441.5,51.2 440.4,53.1 C439.2,55.0 437.4,55.8 437.0,57.7 C436.6,59.6 436.8,62.8 438.1,64.7 C439.4,66.6 443.1,68.2 445.0,69.3 C446.9,70.4 450.9,70.1 449.7,71.6 C448.5,73.0 440.2,75.9 438.0,78.0 C435.8,80.1 436.5,81.9 436.5,84.0 C436.5,86.1 438.3,89.5 438.0,90.5 C437.7,91.5 437.9,90.7 434.6,90.0 C431.4,89.3 421.6,88.1 418.5,86.6 C415.4,85.1 419.3,81.9 416.2,80.8 C413.1,79.7 404.0,80.5 400.0,80.2 C396.0,79.9 395.5,80.0 392.3,79.2 C389.1,78.4 384.4,77.4 380.8,75.4 C377.2,73.4 373.8,69.5 371.0,67.2 C368.2,64.9 365.8,63.1 364.0,61.5 C362.2,59.9 361.4,59.0 360.5,57.5 C359.6,56.0 357.2,53.2 358.5,52.5Z" fill="#d4665f"/>
<path d="M416.2,34.6 C416.2,32.3 416.1,30.0 417.3,27.7 C418.5,25.4 420.6,23.1 423.1,20.8 C425.6,18.5 429.2,15.9 432.3,13.9 C435.4,11.9 438.1,9.9 441.6,8.8 C445.1,7.8 449.6,7.1 453.1,7.6 C456.6,8.0 459.9,9.3 462.4,11.5 C464.9,13.7 467.0,18.1 468.1,20.8 C469.2,23.5 469.4,25.0 468.8,27.7 C468.2,30.4 466.0,34.3 464.7,37.0 C463.4,39.7 462.8,43.5 461.2,43.9 C459.6,44.3 457.5,40.4 455.4,39.3 C453.3,38.1 450.8,36.6 448.5,37.0 C446.2,37.4 444.3,40.1 441.6,41.6 C438.9,43.1 435.4,45.4 432.3,46.2 C429.2,47.0 425.6,47.0 423.1,46.2 C420.6,45.4 418.5,43.5 417.3,41.6 C416.1,39.7 416.2,36.9 416.2,34.6Z" fill="#a8a133"/>
<path d="M437.5,75.4 C438.8,73.8 441.8,72.3 444.2,71.5 C446.6,70.7 448.7,70.6 451.9,70.6 C455.1,70.6 460.0,71.0 463.5,71.5 C467.0,72.0 470.8,73.7 473.0,73.5 C475.2,73.3 476.2,71.9 477.0,70.6 C477.8,69.3 477.4,66.9 477.9,65.8 C478.4,64.7 479.0,64.0 479.8,63.8 C480.6,63.6 482.4,63.5 482.7,64.8 C483.0,66.1 482.0,69.1 481.7,71.5 C481.4,73.9 481.3,77.0 480.8,79.2 C480.3,81.5 480.1,82.8 478.8,85.0 C477.5,87.2 475.2,90.3 473.0,92.7 C470.8,95.1 467.9,98.1 465.4,99.4 C462.8,100.7 459.9,100.7 457.7,100.4 C455.4,100.1 454.1,98.5 451.9,97.5 C449.6,96.5 446.8,95.7 444.2,94.6 C441.6,93.5 438.1,92.1 436.5,90.8 C434.9,89.5 434.6,88.5 434.6,86.9 C434.6,85.3 436.0,83.1 436.5,81.2 C437.0,79.3 436.2,77.0 437.5,75.4Z" fill="#5ca86c"/>
<path d="M345.4,25.8 C346.9,25.9 349.7,26.1 351.5,26.9 C353.3,27.7 355.2,29.1 356.2,30.8 C357.2,32.5 357.8,35.2 357.7,36.9 C357.6,38.6 355.1,38.8 355.4,40.8 C355.6,42.8 358.3,47.3 359.2,49.2 C360.1,51.1 361.3,50.8 360.8,52.3 C360.3,53.8 357.8,56.8 356.2,58.5 C354.6,60.2 353.8,61.3 351.5,62.3 C349.2,63.3 345.9,64.1 342.3,64.6 C338.7,65.1 333.2,66.0 330.0,65.4 C326.8,64.8 324.3,62.2 323.1,60.8 C321.9,59.4 322.0,59.3 322.6,56.9 C323.2,54.5 325.4,49.5 326.9,46.2 C328.4,42.9 329.7,39.5 331.5,36.9 C333.3,34.3 335.9,32.5 337.7,30.8 C339.5,29.1 341.0,27.3 342.3,26.5 C343.6,25.7 343.9,25.7 345.4,25.8Z" fill="#5d9fdc"/>
<path d="M447.2,69.4h0M394.0,79.1h0M403.2,79.8h0M419.9,43.7h0M418.1,80.9h0M442.7,49.9h0M393.8,50.3h0M436.2,61.6h0M421.5,45.1h0M433.9,63.1h0M398.1,79.6h0M416.8,41.5h0M441.1,42.0h0M389.9,77.3h0M382.1,52.9h0M415.5,81.9h0M399.1,80.5h0M428.1,88.9h0M442.6,40.1h0M427.5,46.1h0M439.9,64.3h0M401.6,79.6h0M404.4,81.4h0M414.6,43.5h0M422.1,45.0h0M421.1,44.4h0M402.5,78.4h0M436.7,43.5h0M415.7,43.3h0M436.1,83.8h0M393.1,49.9h0M363.5,51.5h0M430.1,91.0h0M438.0,84.9h0M448.9,72.4h0M364.6,55.0h0M404.6,48.3h0M416.2,83.1h0M413.0,45.4h0M442.0,44.3h0M417.2,43.8h0M392.2,47.7h0M434.0,45.0h0M361.2,53.9h0M416.0,82.2h0M399.4,81.1h0M417.1,42.6h0M393.5,79.5h0M359.3,53.6h0M429.2,89.3h0M425.2,45.6h0M442.4,47.9h0M442.5,42.9h0M411.2,45.8h0M359.7,55.4h0M424.3,46.0h0M418.1,40.4h0M361.9,58.8h0M429.5,89.1h0M377.5,52.9h0M393.5,49.1h0M373.9,70.2h0M440.4,55.7h0M443.3,69.8h0M416.1,43.7h0M360.0,56.4h0M395.1,49.8h0M423.5,45.9h0M391.2,48.9h0M439.8,52.0h0M370.0,51.6h0M441.7,65.9h0M437.0,83.7h0M416.9,40.2h0M393.2,79.1h0M403.1,80.5h0M437.4,78.1h0M370.3,65.1h0M437.5,85.9h0M417.1,42.3h0M358.8,53.5h0M447.0,70.2h0M434.3,62.4h0M450.5,69.9h0M374.2,54.6h0M407.7,46.2h0M406.3,47.4h0M380.9,52.1h0M437.5,83.4h0M414.0,43.8h0M443.0,43.0h0M410.6,46.1h0M359.8,53.6h0M437.2,59.0h0M435.7,82.4h0M373.1,51.2h0M360.4,57.5h0M393.5,80.7h0M444.0,76.8h0M374.7,52.0h0M388.5,78.0h0M426.4,89.2h0M442.7,50.5h0M442.6,41.8h0M398.4,80.1h0M394.7,49.6h0M363.2,58.9h0M420.1,85.6h0M364.2,64.1h0M360.0,58.5h0M419.7,40.0h0M440.6,45.1h0M406.2,78.7h0M439.8,63.7h0M417.8,80.5h0M386.5,77.8h0M435.5,60.5h0M396.3,49.5h0M357.8,56.7h0M409.6,44.1h0M391.9,80.7h0M394.2,49.2h0M446.3,73.9h0M438.7,78.1h0M407.5,47.0h0M435.7,89.1h0M432.6,46.0h0M409.7,45.7h0M395.8,81.1h0M438.2,56.9h0M438.3,53.7h0M425.7,45.7h0M415.4,43.2h0M360.9,52.9h0M443.7,75.7h0M444.0,45.2h0M416.5,82.7h0M424.7,46.8h0M446.5,71.0h0M429.5,44.5h0M377.7,51.5h0M398.5,49.4h0M362.8,58.0h0M435.7,59.2h0M380.7,73.6h0M432.3,45.0h0M389.0,77.2h0M401.0,48.3h0M435.4,89.3h0M428.9,48.3h0M386.2,51.3h0M437.2,61.7h0M361.0,57.8h0M413.2,44.0h0M359.4,52.6h0M435.2,84.5h0M409.5,46.6h0M444.1,45.5h0M409.2,48.7h0M399.9,80.2h0" stroke="#d4665f" stroke-width="1.00" stroke-linecap="round" fill="none"/>
<path d="M434.8,44.4h0M454.9,9.0h0M445.7,9.1h0M468.5,23.2h0M456.1,41.6h0M437.7,9.6h0M437.1,10.6h0M458.3,43.1h0M434.9,12.6h0M468.5,32.0h0M435.4,12.5h0M428.4,45.4h0M457.8,41.2h0M419.0,24.3h0M449.3,37.2h0M470.1,29.8h0M428.9,15.1h0M420.7,21.9h0M456.5,9.0h0M469.1,22.7h0M417.4,28.2h0M469.5,25.6h0M441.3,8.2h0M441.9,41.4h0M468.0,27.0h0M418.8,42.2h0M448.2,8.4h0M416.0,38.0h0M419.8,43.6h0M419.4,42.1h0M417.4,30.3h0M423.3,20.6h0M425.2,46.6h0M425.7,46.0h0M419.0,41.3h0M441.6,42.6h0M449.1,7.4h0M468.0,21.1h0M416.6,32.0h0M438.2,41.8h0M460.8,41.6h0M456.7,9.6h0M418.7,26.7h0M417.4,34.0h0M418.2,43.2h0M433.4,11.1h0M445.8,41.0h0M458.9,40.6h0M444.9,8.3h0M428.2,17.5h0M469.5,27.8h0M437.4,43.9h0M414.8,33.8h0M453.4,38.6h0M442.4,42.9h0M417.4,32.3h0M416.0,31.7h0M418.4,38.3h0M428.0,17.6h0M430.3,13.8h0M427.2,45.8h0M464.0,38.0h0M419.8,42.3h0M464.1,12.1h0M419.1,26.2h0M457.4,8.5h0M463.7,12.4h0M441.8,9.1h0M460.0,10.4h0M453.9,38.9h0M469.2,24.8h0M429.1,17.1h0M437.3,11.6h0M457.1,38.6h0M418.2,44.6h0M457.9,9.3h0M422.5,44.2h0M450.8,38.1h0M435.7,44.0h0M437.7,43.5h0M441.9,9.3h0M457.5,41.1h0M466.9,19.0h0M443.8,39.4h0M442.3,10.9h0M424.2,20.7h0M427.8,45.6h0M415.6,31.2h0M461.2,11.5h0M466.2,19.3h0" stroke="#a8a133" stroke-width="1.00" stroke-linecap="round" fill="none"/>
<path d="M477.7,64.2h0M484.4,64.8h0M479.5,83.2h0M481.0,69.2h0M441.8,73.1h0M458.5,101.6h0M443.5,70.3h0M476.4,73.4h0M455.6,101.7h0M435.1,91.0h0M440.1,74.8h0M442.1,72.0h0M446.1,93.4h0M464.5,73.3h0M434.2,87.5h0M480.1,64.0h0M441.2,91.2h0M433.5,85.7h0M438.1,74.4h0M477.3,86.2h0M478.7,90.8h0M450.3,97.0h0M477.1,66.0h0M481.6,62.8h0M435.9,85.2h0M452.8,71.2h0M452.2,71.5h0M445.5,69.5h0M436.3,77.4h0M481.8,65.7h0M452.7,98.4h0M441.0,92.3h0M482.3,63.6h0M435.9,82.6h0M440.9,72.1h0M453.5,72.1h0M476.7,71.5h0M435.5,90.2h0M442.2,70.4h0M474.1,73.0h0M440.4,74.7h0M442.8,73.4h0M478.9,64.2h0M440.8,92.9h0M476.9,66.4h0M435.9,76.2h0M480.9,62.5h0M463.0,72.1h0M466.6,70.5h0M471.2,95.5h0M470.0,73.8h0M466.9,72.2h0M482.3,65.3h0M479.5,64.6h0M478.0,70.3h0M480.1,83.4h0M437.9,81.8h0M435.3,83.4h0M476.4,86.2h0M479.9,80.1h0M437.1,86.2h0M435.5,85.1h0M451.7,69.9h0M436.2,84.1h0M449.9,95.7h0M462.1,100.7h0M459.1,101.7h0M447.7,95.8h0M442.8,94.7h0M481.0,73.8h0M478.5,68.3h0M481.8,68.7h0M442.5,73.5h0M473.7,74.0h0M447.5,95.2h0M479.8,64.9h0M475.6,71.2h0M447.6,69.9h0M479.3,82.7h0M436.4,83.2h0M460.0,102.2h0M476.9,86.5h0M447.0,96.9h0M470.5,73.8h0M461.2,99.2h0M454.0,70.1h0M482.1,63.6h0M482.3,70.2h0M478.0,68.4h0M435.5,80.5h0" stroke="#5ca86c" stroke-width="1.00" stroke-linecap="round" fill="none"/>
<path d="M356.5,36.9h0M352.3,59.2h0M336.9,65.7h0M359.8,50.9h0M333.0,36.1h0M324.1,57.5h0M324.1,61.3h0M332.8,33.9h0M354.8,37.3h0M332.2,36.7h0M326.3,49.2h0M322.3,56.5h0M357.5,33.1h0M357.6,37.9h0M358.5,35.2h0M357.2,40.0h0M341.7,25.9h0M329.2,65.3h0M323.8,56.0h0M356.4,30.3h0M342.1,27.8h0M360.7,54.6h0M351.8,27.1h0M350.0,62.6h0M322.5,60.8h0M346.9,27.0h0M344.4,26.6h0M352.5,27.7h0M323.3,53.1h0M355.5,58.9h0M328.0,42.8h0M327.0,44.1h0M338.9,32.4h0M347.1,61.9h0M337.6,31.6h0M356.6,44.9h0M338.5,30.2h0M331.9,65.0h0M356.9,34.2h0M336.7,65.4h0M359.9,50.8h0M335.7,33.8h0M343.1,65.6h0M339.8,26.1h0M337.6,30.9h0M355.8,30.6h0M322.8,57.2h0M339.3,29.9h0M322.3,55.3h0M341.5,27.3h0M349.6,26.6h0M357.8,35.5h0M357.6,32.2h0M355.3,41.9h0M355.2,36.3h0M338.0,32.4h0M362.2,50.4h0M356.1,29.8h0M360.1,48.2h0M326.2,46.9h0M361.3,50.2h0M356.6,46.2h0M353.9,61.3h0M355.2,60.0h0M322.5,58.8h0M343.1,64.0h0M357.8,37.5h0M357.2,30.5h0M359.0,56.9h0M357.8,46.8h0M344.4,26.0h0M349.0,27.1h0M344.8,25.4h0M355.4,58.2h0M349.5,61.2h0M354.2,60.0h0M356.6,35.1h0M329.7,40.9h0M323.3,60.8h0M343.9,63.9h0M353.3,25.3h0M346.1,64.1h0M338.9,64.6h0M354.1,62.2h0M354.3,29.3h0M357.8,55.3h0M343.9,26.9h0M361.0,50.9h0M357.5,35.3h0M344.4,26.1h0" stroke="#5d9fdc" stroke-width="1.00" stroke-linecap="round" fill="none"/>
<path d="M343.0,56.5 C344.2,55.6 347.8,55.0 350.0,55.0 C352.2,55.0 354.8,55.7 356.0,56.5 C357.2,57.3 358.0,59.2 357.0,60.0 C356.0,60.8 352.3,61.4 350.0,61.5 C347.7,61.6 344.2,61.3 343.0,60.5 C341.8,59.7 341.8,57.4 343.0,56.5Z" fill="#fff"/>
<path d="M356.7,56.7h0M353.0,57.1h0M358.2,52.6h0M357.4,55.2h0M354.5,59.3h0M352.2,61.2h0M354.8,49.1h0M359.5,52.3h0M357.4,50.3h0M354.1,52.1h0M356.0,43.8h0M358.9,50.1h0M352.0,60.9h0M352.8,59.8h0M355.4,57.0h0M355.5,49.8h0M355.2,52.0h0M356.6,48.4h0M357.8,48.6h0M355.5,47.6h0M356.5,46.8h0M357.7,49.6h0M358.1,47.1h0M355.7,52.8h0M358.2,54.8h0" stroke="#fff" stroke-width="1.00" stroke-linecap="round" fill="none"/>
<path d="M375.2,28.2 Q383,23.8 391,29.6" stroke="#b46fb9" stroke-width="1.6" fill="none" stroke-linecap="round"/>
<line x1="316.9" y1="2.5" x2="316.9" y2="104.2" stroke="#555" stroke-width="0.8"/>
<line x1="316.9" y1="104.2" x2="492.0" y2="104.2" stroke="#555" stroke-width="0.8"/>
<text x="314.6" y="31.7" font-size="9.2" text-anchor="end" fill="#1e1e1e" textLength="4.6" lengthAdjust="spacingAndGlyphs">5</text>
<line x1="315.0" y1="28.4" x2="316.9" y2="28.4" stroke="#555" stroke-width="0.6"/>
<text x="314.6" y="60.8" font-size="9.2" text-anchor="end" fill="#1e1e1e" textLength="4.6" lengthAdjust="spacingAndGlyphs">0</text>
<line x1="315.0" y1="57.5" x2="316.9" y2="57.5" stroke="#555" stroke-width="0.6"/>
<text x="314.6" y="89.3" font-size="9.2" text-anchor="end" fill="#1e1e1e" textLength="9.44" lengthAdjust="spacingAndGlyphs">−5</text>
<line x1="315.0" y1="86.0" x2="316.9" y2="86.0" stroke="#555" stroke-width="0.6"/>
<text x="341.9" y="114.3" font-size="9.2" text-anchor="middle" fill="#1e1e1e" textLength="14.04" lengthAdjust="spacingAndGlyphs">−10</text>
<line x1="342.7" y1="104.2" x2="342.7" y2="105.8" stroke="#555" stroke-width="0.6"/>
<text x="380.9" y="114.3" font-size="9.2" text-anchor="middle" fill="#1e1e1e" textLength="9.44" lengthAdjust="spacingAndGlyphs">−5</text>
<line x1="381.7" y1="104.2" x2="381.7" y2="105.8" stroke="#555" stroke-width="0.6"/>
<text x="420.8" y="114.3" font-size="9.2" text-anchor="middle" fill="#1e1e1e" textLength="4.6" lengthAdjust="spacingAndGlyphs">0</text>
<line x1="420.8" y1="104.2" x2="420.8" y2="105.8" stroke="#555" stroke-width="0.6"/>
<text x="460.6" y="114.3" font-size="9.2" text-anchor="middle" fill="#1e1e1e" textLength="4.6" lengthAdjust="spacingAndGlyphs">5</text>
<line x1="460.6" y1="104.2" x2="460.6" y2="105.8" stroke="#555" stroke-width="0.6"/>
<text x="401.8" y="122.9" font-size="9.2" text-anchor="middle" fill="#1e1e1e" textLength="34.0" lengthAdjust="spacingAndGlyphs">UMAP_1</text>
<text transform="translate(305.4,49.0) rotate(-90)" x="0" y="3.3" font-size="9.2" text-anchor="middle" fill="#1e1e1e" textLength="34.0" lengthAdjust="spacingAndGlyphs">UMAP_2</text>
<text x="340.0" y="49.3" font-size="9.0" text-anchor="middle" fill="#1a1a1a" textLength="4.5" lengthAdjust="spacingAndGlyphs">3</text>
<text x="411.7" y="67.4" font-size="9.0" text-anchor="middle" fill="#1a1a1a" textLength="4.5" lengthAdjust="spacingAndGlyphs">0</text>
<text x="445.8" y="28.0" font-size="9.0" text-anchor="middle" fill="#1a1a1a" textLength="4.5" lengthAdjust="spacingAndGlyphs">1</text>
<text x="461.6" y="85.6" font-size="9.0" text-anchor="middle" fill="#1a1a1a" textLength="4.5" lengthAdjust="spacingAndGlyphs">2</text>
<text x="384.0" y="28.4" font-size="9.0" text-anchor="middle" fill="#1a1a1a" textLength="4.5" lengthAdjust="spacingAndGlyphs">4</text>
<text x="0.6" y="511.6" font-size="10" font-weight="bold" fill="#000">I</text>
<text x="81.6" y="510.9" font-size="6.8" text-anchor="middle" font-weight="bold" fill="#111"><tspan font-style="italic">De novo</tspan> clusters</text>
<path d="M40.3,563.9 C40.4,561.0 41.1,556.4 42.1,553.5 C43.1,550.6 44.5,548.5 46.4,546.6 C48.3,544.7 51.0,543.4 53.3,542.3 C55.6,541.1 58.5,541.0 60.2,539.7 C61.9,538.4 62.2,536.5 63.7,534.5 C65.2,532.5 67.3,529.3 68.9,527.6 C70.5,525.9 71.6,525.0 73.2,524.1 C74.8,523.2 77.0,522.2 78.4,522.4 C79.9,522.5 80.9,523.6 81.9,525.0 C82.9,526.4 83.5,529.1 84.5,531.0 C85.5,532.9 86.8,534.5 87.9,536.2 C89.1,537.9 91.4,539.1 91.4,541.4 C91.4,543.7 89.1,547.2 87.9,550.1 C86.8,553.0 84.9,555.8 84.5,558.7 C84.1,561.6 85.0,564.5 85.3,567.4 C85.6,570.3 85.6,573.4 86.2,576.0 C86.8,578.6 87.7,581.3 88.8,583.0 C89.9,584.7 93.2,585.4 93.1,586.4 C92.9,587.4 90.2,587.9 87.9,589.0 C85.6,590.1 82.2,592.3 79.3,593.3 C76.4,594.3 73.8,594.8 70.6,595.1 C67.4,595.4 63.1,595.7 60.2,595.1 C57.3,594.5 55.0,593.3 53.3,591.6 C51.6,589.9 51.1,587.0 49.8,584.7 C48.5,582.4 46.9,580.1 45.5,577.8 C44.1,575.5 42.1,573.1 41.2,570.8 C40.3,568.5 40.1,566.8 40.3,563.9Z" fill="#c4001a"/>
<path d="M86.2,532.8 C86.8,531.6 89.4,530.2 91.4,529.3 C93.4,528.4 96.3,527.6 98.3,527.6 C100.3,527.6 101.8,528.1 103.5,529.3 C105.2,530.4 107.0,532.5 108.7,534.5 C110.4,536.5 112.5,538.8 113.9,541.4 C115.3,544.0 116.4,546.9 117.3,550.1 C118.2,553.3 118.8,557.0 119.1,560.5 C119.4,564.0 119.4,567.6 119.1,570.8 C118.8,574.0 118.4,576.9 117.3,579.5 C116.2,582.1 114.2,584.7 112.2,586.4 C110.2,588.1 107.5,589.5 105.2,589.9 C102.9,590.3 100.3,589.6 98.3,589.0 C96.3,588.4 94.7,587.4 93.1,586.4 C91.5,585.4 89.9,584.7 88.8,583.0 C87.7,581.3 86.8,578.6 86.2,576.0 C85.6,573.4 85.6,570.3 85.3,567.4 C85.0,564.5 84.1,561.6 84.5,558.7 C84.9,555.8 86.8,553.0 87.9,550.1 C89.1,547.2 91.4,543.7 91.4,541.4 C91.4,539.1 88.8,537.6 87.9,536.2 C87.0,534.8 85.6,533.9 86.2,532.8Z" fill="#4a7fc4"/>
<path d="M81.0,525.8 C81.4,524.4 84.2,521.9 86.2,520.7 C88.2,519.5 90.9,518.9 93.1,518.6 C95.3,518.3 97.8,518.1 99.2,518.9 C100.7,519.7 101.5,521.6 101.8,523.2 C102.1,524.8 102.1,527.7 100.9,528.4 C99.7,529.1 97.0,527.5 94.8,527.6 C92.6,527.8 89.8,529.0 87.9,529.3 C86.0,529.6 84.8,529.9 83.6,529.3 C82.4,528.7 80.6,527.2 81.0,525.8Z" fill="#8d4db0"/>
<path d="M111.3,518.9 C111.9,517.8 114.2,516.6 115.6,517.2 C117.0,517.8 119.0,520.5 119.9,522.4 C120.8,524.3 121.1,526.8 120.8,528.4 C120.5,530.0 119.1,532.0 118.2,531.9 C117.3,531.8 116.6,528.9 115.6,527.6 C114.6,526.3 112.9,525.6 112.2,524.1 C111.5,522.6 110.7,520.0 111.3,518.9Z" fill="#72b043"/>
<path d="M86.1,554.8h0M89.1,538.5h0M86.3,530.7h0M42.0,570.7h0M89.5,588.6h0M84.5,570.2h0M85.8,564.2h0M89.2,537.3h0M51.7,543.6h0M90.8,583.2h0M48.6,543.5h0M85.4,566.7h0M60.3,539.3h0M79.6,524.4h0M61.9,536.3h0M79.6,523.7h0M83.9,529.7h0M47.1,544.7h0M86.0,533.2h0M46.5,579.7h0M83.1,526.4h0M61.7,540.3h0M84.7,570.4h0M90.4,547.9h0M90.0,582.3h0M89.7,535.8h0M60.9,596.0h0M91.1,585.1h0M67.9,527.6h0M40.3,568.5h0M91.5,585.2h0M43.6,574.2h0M40.8,564.5h0M44.6,576.9h0M56.2,594.2h0M52.1,543.3h0M69.3,596.0h0M88.5,587.9h0M47.1,546.5h0M39.8,570.8h0M89.3,588.7h0M71.5,594.3h0M39.8,560.6h0M61.0,538.8h0M61.7,535.5h0M40.6,572.8h0M85.9,577.1h0M68.5,530.7h0M71.8,594.4h0M55.9,540.4h0M54.9,593.6h0M45.3,577.3h0M68.7,526.3h0M85.4,561.3h0M41.2,560.7h0M58.0,592.2h0M50.6,584.4h0M91.2,586.0h0M48.9,547.3h0M85.4,575.1h0M84.3,533.9h0M85.2,563.1h0M64.9,594.8h0M88.7,583.9h0M67.9,527.8h0M64.1,533.3h0M87.1,580.0h0M87.6,578.2h0M78.9,521.8h0M49.8,543.8h0M42.1,565.4h0M48.2,586.6h0M45.8,548.2h0M55.8,593.9h0M41.8,557.5h0M86.5,580.6h0M85.6,574.1h0M87.1,574.5h0M86.7,577.6h0M51.9,589.7h0M49.1,581.8h0M89.5,540.5h0M79.3,522.0h0M92.0,588.9h0M40.3,569.8h0M60.8,594.9h0M93.1,586.1h0M81.2,523.7h0M65.7,532.3h0M41.5,557.5h0M41.8,551.9h0M55.1,593.3h0M82.2,527.7h0M68.6,528.3h0M59.3,594.8h0M41.9,573.7h0M66.7,596.6h0M86.3,532.5h0M88.0,546.6h0M80.6,524.5h0M79.5,524.1h0M65.9,594.7h0M86.8,552.0h0M80.5,524.3h0M81.6,591.9h0M84.3,554.0h0M90.7,584.2h0M53.8,590.9h0M75.0,521.8h0M46.2,580.9h0" stroke="#c4001a" stroke-width="0.90" stroke-linecap="round" fill="none"/>
<path d="M102.5,528.9h0M118.8,568.1h0M106.0,589.5h0M99.4,528.0h0M91.8,528.4h0M110.4,534.9h0M87.6,554.1h0M84.4,561.4h0M115.6,581.9h0M106.0,530.1h0M85.0,558.4h0M100.0,587.7h0M99.8,526.9h0M97.8,589.5h0M88.0,581.7h0M107.0,532.2h0M105.8,588.9h0M105.1,590.2h0M120.5,562.6h0M85.8,569.3h0M85.5,564.8h0M109.1,533.0h0M89.4,536.0h0M115.8,580.9h0M108.9,536.5h0M93.9,529.1h0M114.0,585.3h0M119.4,554.0h0M90.1,541.7h0M83.8,564.7h0M86.1,555.3h0M117.0,555.8h0M108.5,535.9h0M90.2,548.2h0M84.8,576.7h0M92.5,586.9h0M104.8,589.4h0M118.0,569.2h0M109.3,585.1h0M97.1,588.9h0M110.3,537.1h0M101.7,587.4h0M85.1,561.6h0M85.6,534.6h0M85.4,570.3h0M118.8,562.2h0M90.9,531.4h0M112.7,586.7h0M90.5,528.4h0M92.9,528.1h0M110.9,537.4h0M119.7,566.7h0M116.5,544.4h0M99.6,527.7h0M100.4,528.0h0M108.5,534.5h0M89.3,530.0h0M91.2,529.1h0M117.3,552.3h0M104.3,529.8h0M87.6,578.9h0M88.6,532.5h0M89.9,581.1h0M99.8,589.9h0M83.6,534.5h0M92.0,529.0h0M99.3,587.5h0M117.0,559.8h0M109.2,535.5h0M97.3,587.0h0M85.3,570.8h0M89.0,547.8h0M111.1,539.0h0M113.7,541.1h0M111.0,536.7h0M88.8,540.2h0M88.0,534.7h0M90.6,528.4h0M99.7,527.7h0M101.1,527.9h0M87.2,532.8h0M119.6,560.3h0M113.6,538.9h0M96.1,587.9h0M94.6,587.7h0M113.9,543.6h0M84.5,565.2h0M119.0,554.9h0M100.1,587.9h0M96.3,526.9h0" stroke="#4a7fc4" stroke-width="0.90" stroke-linecap="round" fill="none"/>
<path d="M93.4,527.6h0M100.7,526.5h0M92.5,528.0h0M92.4,528.7h0M88.6,528.7h0M88.9,529.6h0M99.9,520.8h0M95.3,518.5h0M85.9,521.9h0M91.4,519.2h0M81.6,524.3h0M100.7,528.7h0M82.2,527.7h0M100.6,518.4h0M84.8,529.0h0M99.3,519.6h0M87.0,528.7h0M87.3,529.3h0M102.3,522.7h0M99.3,527.8h0" stroke="#8d4db0" stroke-width="0.90" stroke-linecap="round" fill="none"/>
<path d="M110.2,520.3h0M117.4,519.8h0M110.9,521.0h0M118.9,529.8h0M118.0,520.0h0M119.3,530.4h0M111.7,521.4h0M114.7,525.6h0M110.9,521.1h0M113.6,518.2h0M119.1,523.5h0M111.7,523.5h0M110.3,520.1h0M112.3,526.4h0M113.9,526.2h0M111.1,521.6h0M113.1,518.8h0M116.1,519.2h0M119.5,527.8h0M112.8,518.1h0" stroke="#72b043" stroke-width="0.90" stroke-linecap="round" fill="none"/>
<path d="M79.5,576.8h0M63.3,561.9h0M67.7,548.5h0M68.3,571.2h0M77.0,548.8h0M69.4,546.4h0M74.3,579.6h0M87.4,551.6h0M68.6,551.1h0M78.3,566.0h0M75.5,572.6h0M75.8,555.6h0M79.4,579.1h0M63.3,562.0h0M65.6,571.6h0M73.2,575.0h0M79.4,579.5h0M77.1,566.0h0M70.8,547.8h0M79.2,579.1h0M77.8,571.6h0M77.5,552.2h0M64.0,571.5h0M73.7,548.6h0M76.5,553.8h0M68.8,576.4h0M78.1,571.7h0M83.2,560.2h0M73.7,560.0h0M71.3,572.8h0M85.0,555.0h0M80.5,552.0h0M82.2,556.2h0M70.3,572.1h0M83.9,549.2h0M85.7,560.1h0M69.1,558.0h0M75.7,563.5h0M78.4,570.6h0M80.1,558.7h0M76.4,563.4h0M67.9,563.4h0M63.8,568.3h0M75.2,563.9h0M83.9,567.7h0M86.5,569.2h0M83.4,555.8h0M72.2,563.4h0M82.3,546.1h0M76.0,565.0h0M80.7,556.7h0M77.8,571.2h0M71.9,569.2h0M85.5,557.7h0M75.7,561.9h0M83.8,554.0h0M69.4,558.5h0M79.0,549.7h0M87.4,562.6h0M81.0,559.3h0M76.9,547.3h0M87.5,565.7h0M68.4,556.5h0M78.9,550.4h0M74.6,554.0h0M76.7,569.5h0M75.5,571.8h0M78.2,547.1h0M79.1,561.9h0M71.1,575.5h0M68.0,568.1h0M73.6,560.8h0M74.9,557.8h0M68.0,569.6h0M78.3,546.0h0M69.0,578.5h0M69.4,554.9h0M77.0,557.8h0M66.4,560.5h0M69.4,569.0h0M70.1,549.0h0M73.2,557.5h0M87.4,559.6h0M78.7,548.9h0M77.9,576.7h0M85.0,549.2h0M66.3,577.4h0M80.1,572.2h0M63.8,566.9h0M82.7,555.9h0M88.0,567.0h0M71.5,556.2h0M71.5,552.2h0M87.9,559.8h0M73.5,555.5h0M74.2,575.6h0M72.4,559.6h0M81.6,570.1h0M86.8,563.7h0M75.7,557.1h0M70.0,578.5h0M82.4,568.9h0M79.5,562.1h0M64.4,574.8h0M81.8,561.7h0M76.6,573.7h0M74.9,561.6h0M74.6,571.2h0M81.1,556.4h0M82.2,557.9h0M79.5,558.0h0M82.2,558.1h0M71.1,560.0h0M77.7,545.2h0M76.2,578.4h0M63.7,577.0h0M80.8,570.6h0M81.6,559.6h0M65.1,575.6h0M84.8,570.7h0M67.7,562.5h0M75.4,557.5h0M74.7,560.9h0M87.5,567.2h0M66.6,572.5h0M71.9,566.1h0M76.6,571.4h0M69.8,569.1h0M71.6,572.9h0M74.8,567.8h0M87.9,554.4h0M75.6,567.9h0M72.2,570.9h0M83.6,557.4h0M72.9,557.6h0M70.9,559.2h0M76.5,567.8h0M69.8,572.3h0M84.7,558.1h0M75.0,552.1h0M68.5,575.5h0M78.7,560.5h0M78.6,550.9h0M77.0,550.8h0M76.1,556.0h0M68.8,571.4h0M71.4,571.5h0M81.5,557.9h0M76.3,565.5h0M79.8,564.3h0" stroke="#fff" stroke-width="1.10" stroke-linecap="round" fill="none"/>
<path d="M82.7,559.6h0M79.3,526.3h0M81.8,563.7h0M81.4,565.5h0M77.2,526.7h0M86.2,568.9h0M76.8,527.0h0M75.2,529.4h0M87.4,560.2h0M84.7,564.7h0M84.4,548.7h0M82.5,566.1h0M83.1,548.9h0M84.0,541.6h0M86.1,571.9h0M88.2,537.7h0M82.3,552.3h0M82.3,536.1h0M88.5,555.9h0M89.6,540.3h0M79.3,561.1h0M89.1,554.6h0M81.6,528.8h0M85.6,571.9h0M76.5,530.1h0M88.4,553.1h0M90.6,549.5h0M80.7,557.3h0M86.3,551.9h0M84.6,557.7h0M85.7,569.9h0M81.0,534.2h0M87.4,537.6h0M83.6,552.8h0M79.3,529.7h0M82.4,534.3h0M83.7,534.1h0M89.4,578.3h0M80.8,528.5h0M87.6,570.9h0M93.0,579.6h0M84.7,576.6h0M82.0,539.8h0M80.5,545.9h0M83.1,530.5h0M81.7,542.0h0M86.5,541.6h0M93.8,581.7h0M81.9,566.9h0M89.3,564.6h0M90.0,536.0h0M76.0,528.2h0M85.4,530.6h0M83.0,535.3h0M83.0,561.6h0M92.1,579.3h0M80.8,525.5h0M88.0,566.6h0M87.6,573.8h0M76.0,534.4h0M87.5,543.0h0M84.2,555.2h0M81.3,548.0h0M91.3,576.1h0M89.7,551.7h0M87.8,536.2h0M89.8,566.6h0M83.9,575.1h0M88.8,546.7h0M87.5,536.3h0M87.2,558.1h0M86.9,535.5h0M84.0,575.8h0M87.0,539.1h0M84.8,550.7h0M80.1,552.0h0M75.1,529.0h0M84.9,570.7h0M84.6,576.6h0M82.5,558.4h0M86.5,531.3h0M81.0,546.9h0M89.5,572.5h0M88.6,535.2h0M83.7,556.8h0M86.6,543.7h0M89.9,568.3h0M82.7,533.4h0M90.1,567.5h0M85.8,570.2h0M88.5,574.0h0M81.8,552.4h0M86.3,573.9h0M77.0,534.6h0M80.1,526.9h0M86.0,562.5h0M82.3,573.5h0M85.5,566.4h0M86.5,547.4h0M88.1,578.0h0M91.4,583.8h0M79.8,544.4h0M85.0,576.4h0M88.1,560.8h0M82.5,547.7h0M82.5,568.4h0M83.3,568.3h0M82.5,537.9h0M82.7,567.9h0M80.0,546.0h0M84.6,538.7h0M83.0,570.4h0M81.3,559.4h0M85.8,546.6h0M85.4,549.4h0M87.1,578.8h0M80.7,527.7h0M86.6,570.8h0M82.2,544.1h0M88.5,559.2h0M81.2,566.9h0M87.4,544.4h0M88.6,542.4h0M89.2,568.2h0M84.3,551.5h0M89.7,552.5h0M86.2,540.8h0M82.0,552.9h0M80.1,534.6h0M88.0,562.8h0M79.9,546.6h0M87.1,540.0h0M81.5,551.6h0M84.1,528.3h0M83.1,548.2h0M87.6,566.5h0M85.1,545.4h0M85.6,548.2h0M81.0,552.9h0M81.7,566.2h0M85.9,545.1h0M88.6,575.1h0M85.9,562.3h0M87.4,564.2h0M85.1,543.9h0M88.3,576.1h0M88.6,547.8h0M88.1,551.0h0M86.5,552.9h0M82.4,539.5h0M86.8,546.0h0M86.7,579.6h0M82.6,531.1h0M83.8,551.4h0M83.9,559.5h0M78.5,525.9h0M89.6,574.5h0M86.3,576.8h0M87.3,561.4h0M82.9,575.0h0" stroke="#fff" stroke-width="1.10" stroke-linecap="round" fill="none"/>
<path d="M81.5,528.3h0M80.9,530.5h0M76.6,534.1h0M85.7,533.8h0M81.1,534.3h0M81.5,527.9h0M76.3,532.8h0M81.3,535.0h0M84.5,537.7h0M76.6,535.0h0M79.3,534.6h0M83.8,529.4h0M80.5,534.9h0M76.1,538.1h0M78.7,538.0h0M76.0,524.2h0M82.3,526.3h0M80.2,525.6h0M84.1,535.3h0M81.7,538.8h0M85.5,533.8h0M85.6,531.1h0M83.8,534.0h0M82.9,531.2h0M80.4,538.5h0M86.5,539.7h0M80.9,530.8h0M79.4,536.2h0M77.5,539.5h0M77.0,527.1h0M79.7,530.5h0M77.5,536.8h0M87.2,538.6h0M80.2,535.3h0M81.7,539.3h0M77.7,529.2h0M74.9,529.1h0M84.5,527.7h0M76.6,531.7h0M86.5,533.6h0" stroke="#fff" stroke-width="1.00" stroke-linecap="round" fill="none"/>
<path d="M46.1,553.8h0M52.4,581.4h0M62.4,554.6h0M86.6,544.0h0M64.0,593.7h0M56.5,561.6h0M74.5,546.7h0M73.5,553.0h0M84.2,562.9h0M78.7,564.1h0M77.1,550.8h0M48.1,548.8h0M80.9,560.6h0M65.7,573.6h0M78.2,525.4h0M61.8,547.4h0M63.2,578.3h0M64.7,574.7h0M67.4,576.4h0M66.4,564.6h0M62.5,590.4h0M69.8,529.9h0M70.2,590.0h0M53.1,578.7h0M53.7,574.3h0M55.2,565.7h0M81.2,524.7h0M53.2,544.7h0M69.6,576.3h0M52.5,568.5h0M61.6,577.9h0M78.7,549.1h0M71.4,533.0h0M72.5,569.5h0M52.8,570.9h0M69.2,589.4h0M75.6,538.0h0M79.0,567.1h0M60.3,572.8h0M80.4,571.8h0M53.2,558.0h0M79.0,523.8h0M72.6,552.1h0M77.8,541.2h0M65.6,537.9h0M59.7,543.9h0M68.9,532.6h0M62.0,586.0h0M83.8,581.9h0M88.6,539.2h0M74.6,562.1h0M59.8,574.2h0M51.9,566.6h0M81.3,535.8h0M82.6,577.7h0M63.4,555.4h0M77.1,549.4h0M70.0,549.2h0M80.6,553.9h0M48.6,563.1h0M81.4,524.7h0M84.2,553.1h0M54.2,585.7h0M55.3,587.9h0M84.3,589.3h0M47.7,553.1h0M84.3,545.0h0M68.5,562.4h0M73.7,535.0h0M81.8,585.8h0" stroke="#fff" stroke-width="0.90" stroke-linecap="round" fill="none"/>
<path d="M99.0,535.7h0M104.2,546.0h0M88.1,571.8h0M103.9,544.5h0M93.1,572.7h0M116.2,549.5h0M104.8,541.4h0M100.6,563.8h0M95.1,565.3h0M103.3,530.3h0M88.6,553.4h0M89.6,561.6h0M105.0,566.5h0M115.1,565.5h0M105.0,579.2h0M103.5,554.7h0M90.0,557.5h0M109.2,577.1h0M115.4,559.9h0M117.2,550.8h0M103.2,575.7h0M92.6,529.2h0M109.5,539.5h0M114.0,562.9h0M89.2,560.1h0M111.2,541.5h0M89.6,564.6h0M107.9,565.1h0M86.1,561.1h0M96.7,552.3h0M98.2,582.6h0M94.4,570.7h0M104.1,545.3h0M94.9,539.6h0M108.8,570.8h0M97.1,534.9h0M105.1,548.6h0M103.5,568.4h0M112.8,581.7h0M99.3,579.5h0" stroke="#fff" stroke-width="0.90" stroke-linecap="round" fill="none"/>
<path d="M64.2,552.9h0M57.0,558.0h0M62.3,561.1h0M64.1,561.0h0M62.7,561.2h0M59.6,559.7h0M63.8,556.3h0M57.8,554.7h0M58.6,561.0h0M61.1,555.0h0M57.4,560.3h0M64.2,554.8h0M60.0,555.7h0M63.1,558.8h0M57.4,553.8h0M58.0,557.7h0M58.2,560.8h0M56.5,552.1h0M56.7,557.6h0M60.3,558.2h0M58.2,560.4h0M63.0,561.3h0M59.4,557.4h0M62.8,553.7h0M60.1,557.4h0M59.2,552.0h0M63.5,553.0h0M61.3,560.4h0M61.4,561.5h0M61.0,555.4h0M62.3,558.8h0M59.6,559.2h0M58.4,553.0h0M57.9,554.8h0M59.5,556.2h0M60.7,557.5h0M60.9,560.1h0M60.6,555.5h0M58.2,552.9h0M56.8,556.2h0M57.4,559.6h0M61.5,556.3h0M61.9,553.2h0M58.6,559.5h0M58.3,552.3h0" stroke="#72b043" stroke-width="1.20" stroke-linecap="round" fill="none" opacity="1.0"/>
<path d="M70.0,559.0 C70.8,557.9 72.7,556.7 74.0,556.5 C75.3,556.3 77.1,556.9 78.0,558.0 C78.9,559.1 79.5,561.2 79.5,563.0 C79.5,564.8 78.9,567.7 78.0,569.0 C77.1,570.3 75.2,571.2 74.0,571.0 C72.8,570.8 71.3,568.8 70.5,567.5 C69.7,566.2 69.1,564.4 69.0,563.0 C68.9,561.6 69.2,560.1 70.0,559.0Z" fill="#72b043"/>
<path d="M70.2,560.5h0M69.5,562.7h0M75.8,568.0h0M72.2,558.2h0M69.0,560.8h0M77.9,558.4h0M77.9,565.2h0M69.7,557.8h0M75.2,557.8h0M77.2,557.0h0M73.1,565.5h0M75.8,563.1h0M75.3,563.4h0M74.3,565.2h0M73.8,563.9h0M75.0,571.0h0M73.9,570.6h0M74.5,561.3h0M73.2,563.0h0M71.6,563.7h0M70.0,566.2h0M71.0,560.5h0M73.7,566.5h0M74.9,565.5h0M69.5,564.1h0M76.1,563.2h0M70.3,566.0h0M72.9,558.2h0M76.1,567.8h0M77.9,562.5h0M71.0,569.5h0M69.9,561.0h0M73.8,557.4h0M74.3,560.7h0M74.7,570.1h0M77.6,569.2h0M69.6,561.4h0M73.2,560.0h0M77.7,566.3h0M73.7,569.2h0M75.3,560.3h0M77.0,570.3h0M74.1,561.5h0M78.5,570.6h0M78.1,563.9h0M78.1,563.0h0M77.0,561.0h0M75.9,559.3h0M70.9,558.5h0M79.0,568.5h0" stroke="#72b043" stroke-width="1.20" stroke-linecap="round" fill="none" opacity="1.0"/>
<path d="M74.5,566.2h0M75.8,562.9h0M74.6,559.4h0M72.7,561.8h0M73.5,565.3h0M72.7,560.6h0M77.1,566.6h0M77.5,566.6h0M72.4,563.4h0M76.8,566.9h0M72.6,563.3h0M75.1,558.1h0" stroke="#fff" stroke-width="1.00" stroke-linecap="round" fill="none"/>
<path d="M85.9,557.3h0M83.1,552.9h0M75.4,559.7h0M81.0,560.6h0M85.1,561.9h0M74.6,566.1h0M86.4,559.6h0M83.4,538.9h0M79.4,548.0h0M87.0,556.5h0M85.9,541.9h0M83.7,560.5h0M89.8,558.2h0M83.4,554.1h0M78.9,561.6h0M89.4,558.0h0M80.3,558.6h0M89.1,559.9h0M78.5,537.4h0M80.8,548.6h0M81.9,564.7h0M85.9,560.3h0M83.5,544.0h0M83.4,566.9h0M79.7,565.0h0M79.5,556.8h0M77.0,564.3h0M86.8,542.9h0M77.8,561.7h0M80.3,548.3h0M77.4,558.1h0M75.7,548.3h0M89.8,548.3h0M89.6,559.1h0M80.4,543.2h0M81.6,556.5h0M81.6,541.5h0M79.5,557.3h0M80.5,548.2h0M77.4,555.9h0" stroke="#4a7fc4" stroke-width="1.00" stroke-linecap="round" fill="none" opacity="1.0"/>
<line x1="36.4" y1="513.5" x2="36.4" y2="599.8" stroke="#555" stroke-width="0.8"/>
<line x1="36.4" y1="599.8" x2="125.2" y2="599.8" stroke="#555" stroke-width="0.8"/>
<text x="34.8" y="522.3" font-size="6.5" text-anchor="end" fill="#1e1e1e">5.0</text>
<line x1="35.1" y1="520.0" x2="36.4" y2="520.0" stroke="#555" stroke-width="0.5"/>
<text x="34.8" y="542.1" font-size="6.5" text-anchor="end" fill="#1e1e1e">2.5</text>
<line x1="35.1" y1="539.8" x2="36.4" y2="539.8" stroke="#555" stroke-width="0.5"/>
<text x="34.8" y="561.9" font-size="6.5" text-anchor="end" fill="#1e1e1e">0.0</text>
<line x1="35.1" y1="559.6" x2="36.4" y2="559.6" stroke="#555" stroke-width="0.5"/>
<text x="34.8" y="581.6" font-size="6.5" text-anchor="end" fill="#1e1e1e">−2.5</text>
<line x1="35.1" y1="579.3" x2="36.4" y2="579.3" stroke="#555" stroke-width="0.5"/>
<text x="34.8" y="601.4" font-size="6.5" text-anchor="end" fill="#1e1e1e">−5.0</text>
<line x1="35.1" y1="599.1" x2="36.4" y2="599.1" stroke="#555" stroke-width="0.5"/>
<text x="59.6" y="607.1" font-size="6.5" text-anchor="middle" fill="#1e1e1e">−5</text>
<line x1="59.6" y1="599.8" x2="59.6" y2="601.1" stroke="#555" stroke-width="0.5"/>
<text x="83.8" y="607.1" font-size="6.5" text-anchor="middle" fill="#1e1e1e">0</text>
<line x1="83.8" y1="599.8" x2="83.8" y2="601.1" stroke="#555" stroke-width="0.5"/>
<text x="107.9" y="607.1" font-size="6.5" text-anchor="middle" fill="#1e1e1e">5</text>
<line x1="107.9" y1="599.8" x2="107.9" y2="601.1" stroke="#555" stroke-width="0.5"/>
<text x="83.8" y="617.8" font-size="6.8" text-anchor="middle" fill="#1e1e1e">UMAP_1</text>
<text transform="translate(20.3,554.0) rotate(-90)" x="0" y="2.4" font-size="6.8" text-anchor="middle" fill="#1e1e1e">UMAP_2</text>
<text x="130.1" y="539.0" font-size="6.4" fill="#1e1e1e">Normal</text>
<text x="130.1" y="546.7" font-size="6.4" fill="#1e1e1e">clusters</text>
<circle cx="133.1" cy="549.8" r="1.50" fill="#c4001a"/>
<text x="138.2" y="552.0" font-size="6.0" fill="#1e1e1e">A</text>
<circle cx="133.1" cy="555.5" r="1.50" fill="#4a7fc4"/>
<text x="138.2" y="557.7" font-size="6.0" fill="#1e1e1e">B</text>
<circle cx="133.1" cy="560.9" r="1.50" fill="#72b043"/>
<text x="138.2" y="563.1" font-size="6.0" fill="#1e1e1e">C</text>
<circle cx="133.1" cy="566.7" r="1.50" fill="#8d4db0"/>
<text x="138.2" y="568.9" font-size="6.0" fill="#1e1e1e">D</text>
<text x="164.6" y="511.6" font-size="10" font-weight="bold" fill="#000">J</text>
<text x="235.5" y="509.5" font-size="6.5" text-anchor="middle" font-weight="bold" fill="#111">Label transfer</text>
<path d="M194.4,564.4 C194.6,561.5 195.2,556.9 196.2,554.0 C197.2,551.1 198.6,549.0 200.5,547.1 C202.4,545.2 205.1,543.9 207.4,542.8 C209.7,541.6 212.6,541.5 214.3,540.2 C216.0,538.9 216.4,537.0 217.8,535.0 C219.2,533.0 221.4,529.8 223.0,528.1 C224.6,526.4 225.7,525.5 227.3,524.6 C228.9,523.7 231.1,522.7 232.5,522.9 C233.9,523.1 235.0,526.3 236.0,526.0 C237.0,525.7 237.2,522.2 238.5,521.0 C239.8,519.8 241.9,519.3 244.0,519.0 C246.1,518.7 249.0,518.2 251.0,519.0 C253.0,519.8 254.8,521.8 256.0,523.5 C257.2,525.2 256.9,527.1 258.0,529.0 C259.1,530.9 261.1,532.9 262.8,535.0 C264.5,537.1 266.6,539.3 268.0,541.9 C269.4,544.5 270.5,547.4 271.4,550.6 C272.3,553.8 272.9,557.5 273.2,561.0 C273.5,564.5 273.5,568.1 273.2,571.3 C272.9,574.5 272.5,577.4 271.4,580.0 C270.2,582.6 268.3,585.2 266.3,586.9 C264.3,588.6 261.6,590.0 259.3,590.4 C257.0,590.8 254.4,590.1 252.4,589.5 C250.4,588.9 248.9,586.9 247.2,586.9 C245.5,586.9 244.3,588.4 242.0,589.5 C239.7,590.6 236.3,592.8 233.4,593.8 C230.5,594.8 227.9,595.3 224.7,595.6 C221.5,595.9 217.2,596.2 214.3,595.6 C211.4,595.0 209.1,593.8 207.4,592.1 C205.7,590.4 205.2,587.5 203.9,585.2 C202.6,582.9 201.0,580.6 199.6,578.3 C198.2,576.0 196.2,573.6 195.3,571.3 C194.4,569.0 194.2,567.3 194.4,564.4Z" fill="#a6a22e"/>
<path d="M194.4,564.4 C194.6,561.5 195.2,556.9 196.2,554.0 C197.2,551.1 198.6,549.0 200.5,547.1 C202.4,545.2 205.1,543.9 207.4,542.8 C209.7,541.6 212.6,541.5 214.3,540.2 C216.0,538.9 216.4,537.0 217.8,535.0 C219.2,533.0 221.4,529.8 223.0,528.1 C224.6,526.4 225.7,525.5 227.3,524.6 C228.9,523.7 231.1,522.7 232.5,522.9 C233.9,523.1 235.1,524.5 236.0,526.0 C236.9,527.5 237.2,530.0 238.0,532.0 C238.8,534.0 240.3,536.2 241.0,538.0 C241.7,539.8 242.5,540.7 242.0,543.0 C241.5,545.3 239.3,548.8 238.0,552.0 C236.7,555.2 235.0,558.7 234.0,562.0 C233.0,565.3 232.7,568.8 232.0,572.0 C231.3,575.2 231.0,578.0 230.0,581.0 C229.0,584.0 226.9,587.6 226.0,590.0 C225.1,592.4 226.6,594.7 224.7,595.6 C222.8,596.5 217.2,596.2 214.3,595.6 C211.4,595.0 209.1,593.8 207.4,592.1 C205.7,590.4 205.2,587.5 203.9,585.2 C202.6,582.9 201.0,580.6 199.6,578.3 C198.2,576.0 196.2,573.6 195.3,571.3 C194.4,569.0 194.2,567.3 194.4,564.4Z" fill="#d9665f"/>
<path d="M236.0,527.0 C236.1,525.0 237.5,522.4 239.0,521.0 C240.5,519.6 242.8,518.8 245.0,518.5 C247.2,518.2 250.2,518.2 252.0,519.0 C253.8,519.8 255.1,521.2 256.0,523.0 C256.9,524.8 257.7,527.8 257.5,530.0 C257.3,532.2 256.4,534.5 255.0,536.0 C253.6,537.5 251.0,538.6 249.0,539.0 C247.0,539.4 244.8,539.5 243.0,538.5 C241.2,537.5 239.7,534.9 238.5,533.0 C237.3,531.1 235.9,529.0 236.0,527.0Z" fill="#5ea2e0"/>
<path d="M265.4,519.4 C266.0,518.2 268.3,517.1 269.7,517.7 C271.1,518.3 273.1,521.0 274.0,522.9 C274.9,524.8 275.2,527.3 274.9,528.9 C274.6,530.5 273.2,532.5 272.3,532.4 C271.4,532.3 270.7,529.4 269.7,528.1 C268.7,526.8 267.0,526.1 266.3,524.6 C265.6,523.1 264.8,520.5 265.4,519.4Z" fill="#b471b8"/>
<path d="M205.5,583.9h0M262.7,587.3h0M197.8,574.6h0M250.1,588.5h0M257.9,591.2h0M218.6,545.4h0M206.6,589.1h0M243.7,519.3h0M263.1,588.9h0M266.8,587.2h0M245.8,586.6h0M273.2,578.8h0M273.0,564.9h0M196.6,575.0h0M233.5,593.1h0M243.7,587.5h0M260.5,534.0h0M266.9,585.9h0M268.6,545.9h0M249.4,518.5h0M225.8,594.7h0M262.0,533.0h0M200.7,562.4h0M250.8,518.9h0M214.4,595.2h0M231.9,591.2h0M243.2,589.7h0M229.7,593.8h0M272.8,563.7h0M195.0,573.6h0M243.2,518.4h0M253.6,589.7h0M264.6,537.6h0M272.1,577.1h0M230.9,595.4h0M204.8,583.8h0M255.9,590.9h0M273.3,571.0h0M206.4,592.5h0M263.5,588.0h0M247.2,519.3h0M245.6,586.4h0M271.6,571.8h0M256.4,523.6h0M198.0,577.0h0M265.3,587.2h0M209.1,589.3h0M267.2,583.9h0M259.0,531.8h0M250.4,519.8h0M273.0,564.1h0M219.6,540.0h0M256.5,523.9h0M221.2,595.3h0M271.6,561.9h0M265.7,586.0h0M271.9,552.6h0M262.7,534.3h0M199.9,581.3h0M212.9,597.1h0M272.6,550.8h0M272.2,553.7h0M266.5,543.7h0M257.0,527.4h0M241.1,521.3h0M210.2,595.1h0M241.7,519.4h0M257.3,524.2h0M264.0,534.0h0M261.8,536.4h0M237.8,591.5h0M244.8,587.9h0M243.5,586.7h0M215.2,594.7h0M239.1,519.7h0M257.9,591.5h0M247.1,586.5h0M251.2,585.3h0M207.3,591.8h0M205.4,589.4h0M247.3,588.1h0M262.7,589.4h0M211.8,594.4h0M256.2,590.9h0M252.2,519.0h0M251.4,589.5h0M267.7,541.6h0M246.4,587.7h0M262.9,590.0h0M261.6,535.8h0" stroke="#a6a22e" stroke-width="0.90" stroke-linecap="round" fill="none"/>
<path d="M227.3,586.0h0M197.2,553.3h0M212.7,595.8h0M227.0,522.9h0M213.8,537.0h0M226.7,587.9h0M216.6,534.8h0M227.7,584.3h0M207.7,592.4h0M196.8,556.3h0M205.8,586.0h0M209.2,542.9h0M242.5,543.2h0M242.2,542.3h0M223.0,527.2h0M210.6,542.7h0M214.7,537.4h0M210.7,542.0h0M192.7,566.3h0M231.6,521.9h0M228.7,588.8h0M214.4,594.0h0M233.7,562.8h0M228.4,586.1h0M240.1,548.5h0M200.9,581.2h0M199.0,547.3h0M225.9,526.1h0M240.8,538.9h0M219.0,532.6h0M237.7,532.4h0M237.4,552.0h0M239.8,534.6h0M219.5,594.8h0M197.0,551.0h0M195.5,554.3h0M204.9,544.3h0M236.9,527.8h0M233.1,524.3h0M199.9,579.1h0M216.0,535.5h0M213.7,595.3h0M197.3,553.0h0M199.1,548.1h0M235.4,561.2h0M238.5,553.7h0M197.6,553.3h0M239.5,536.5h0M194.7,557.6h0M227.2,527.2h0M223.3,594.9h0M225.1,596.3h0M216.3,538.1h0M207.3,590.9h0M237.2,559.3h0M199.3,578.7h0M201.7,580.8h0M230.3,577.4h0M234.3,525.9h0M237.6,531.6h0M238.9,549.7h0M212.2,538.9h0M199.4,579.7h0M224.2,596.5h0M225.2,591.1h0M219.6,597.3h0M205.0,587.6h0M224.7,528.3h0M209.2,592.3h0M209.1,591.9h0M242.4,542.1h0M203.1,546.1h0M199.1,576.4h0M210.6,594.9h0M227.4,583.8h0M222.8,530.4h0M217.9,595.8h0M225.7,591.1h0M232.4,568.5h0M228.0,583.0h0M233.7,564.2h0M240.1,546.9h0M229.0,582.1h0M228.3,582.6h0M193.6,560.3h0M234.6,560.5h0M232.6,523.1h0M196.3,570.4h0M204.9,543.7h0M228.9,583.0h0M197.0,574.2h0M195.9,563.3h0M196.2,564.8h0M232.9,523.2h0M209.4,542.2h0M231.1,574.3h0M226.5,526.2h0M215.4,539.9h0M235.1,525.6h0M228.4,588.2h0" stroke="#d9665f" stroke-width="0.90" stroke-linecap="round" fill="none"/>
<path d="M249.0,518.7h0M241.3,537.4h0M238.4,533.7h0M241.3,535.9h0M239.4,533.0h0M236.7,524.0h0M243.8,517.2h0M241.1,538.0h0M235.4,528.5h0M255.7,521.8h0M255.7,528.3h0M240.0,520.9h0M252.6,520.2h0M251.8,537.8h0M238.3,522.4h0M247.1,538.1h0M246.3,538.8h0M237.7,530.2h0M243.6,538.4h0M249.9,519.8h0M240.0,522.3h0M255.8,533.5h0M257.5,526.5h0M245.0,518.4h0M242.1,519.9h0" stroke="#5ea2e0" stroke-width="0.90" stroke-linecap="round" fill="none"/>
<path d="M271.4,530.9h0M274.5,527.2h0M272.3,522.1h0M269.4,517.3h0M271.1,518.7h0M270.3,520.8h0M271.7,520.1h0M274.4,529.2h0M273.8,530.0h0M266.3,518.9h0M272.6,523.4h0M270.6,528.4h0M271.9,531.2h0M271.4,520.8h0M272.5,532.1h0M265.8,520.8h0M274.0,530.4h0M274.3,525.4h0M272.3,521.3h0M269.0,518.5h0" stroke="#b471b8" stroke-width="0.90" stroke-linecap="round" fill="none"/>
<path d="M239.1,552.8h0M231.6,578.7h0M228.1,559.7h0M240.1,570.2h0M230.1,576.7h0M240.9,552.8h0M241.2,554.1h0M220.7,554.1h0M225.2,561.8h0M237.4,573.7h0M239.3,557.4h0M222.0,563.0h0M240.3,566.7h0M238.7,551.3h0M229.2,577.9h0M230.8,573.4h0M237.0,560.4h0M233.9,569.6h0M227.4,563.2h0M241.7,557.6h0M233.6,564.4h0M238.1,552.9h0M228.1,553.5h0M236.9,570.3h0M219.7,565.9h0M236.2,556.7h0M218.1,565.7h0M232.0,559.9h0M223.0,556.8h0M222.0,574.1h0M225.9,570.4h0M230.3,552.5h0M223.3,568.8h0M220.0,553.6h0M226.0,570.6h0M239.8,565.9h0M219.8,557.9h0M219.7,554.3h0M230.9,562.6h0M220.5,554.2h0M239.3,567.3h0M231.6,555.9h0M223.8,572.2h0M216.4,568.2h0M240.9,567.5h0M236.4,550.9h0M227.0,568.1h0M233.6,554.7h0M233.7,577.8h0M228.2,558.7h0M233.8,576.3h0M233.9,578.3h0M222.5,568.9h0M221.4,548.3h0M224.9,579.0h0M223.7,555.4h0M235.7,557.0h0M224.7,552.9h0M238.3,560.5h0M238.1,562.1h0M225.7,556.6h0M227.5,574.9h0M221.4,547.1h0M235.2,570.4h0M234.3,573.4h0M233.1,550.3h0M227.3,549.5h0M218.4,561.9h0M230.1,575.3h0M217.9,564.4h0M220.3,556.3h0M241.2,568.0h0M233.4,566.4h0M221.2,569.3h0M237.8,556.7h0M221.2,568.2h0M238.1,550.2h0M221.1,562.5h0M221.3,562.8h0M227.1,551.5h0M220.3,565.8h0M240.6,561.4h0M230.5,569.9h0M224.7,550.6h0M239.8,566.4h0M239.0,549.4h0M236.5,548.4h0M225.4,559.4h0M233.1,578.7h0M227.2,565.4h0M226.7,558.2h0M222.6,570.7h0M236.8,569.4h0M227.5,559.2h0M220.9,553.0h0M241.9,565.7h0M226.5,563.8h0M228.8,554.9h0M226.9,559.9h0M223.5,560.9h0M221.8,579.3h0M219.5,561.8h0M219.9,562.5h0M228.3,555.2h0M225.0,547.8h0M231.6,552.1h0M229.8,570.3h0M232.6,577.1h0M233.9,575.0h0M233.2,552.3h0M237.1,572.0h0M228.7,578.2h0M225.3,564.1h0M236.7,550.2h0M221.7,559.8h0M219.1,578.5h0M229.2,575.6h0M223.1,561.1h0M222.4,565.8h0M234.4,565.2h0M231.2,555.5h0M220.3,568.7h0M222.4,578.9h0M227.9,565.1h0M232.8,566.8h0M224.2,577.0h0M224.2,569.3h0M220.1,567.6h0M233.3,558.3h0M235.4,568.0h0M218.6,567.5h0M230.1,548.6h0M240.3,565.2h0M232.1,553.7h0M220.0,556.1h0M228.9,558.4h0M235.8,549.2h0M221.4,563.4h0M233.9,555.6h0M221.4,548.6h0M225.5,558.0h0M236.7,552.9h0M224.9,571.6h0M224.2,554.5h0M228.0,551.8h0M236.4,576.8h0M234.5,558.8h0M220.8,568.7h0M236.7,559.2h0M235.3,554.8h0" stroke="#fff" stroke-width="1.10" stroke-linecap="round" fill="none"/>
<path d="M235.7,559.6h0M243.0,538.6h0M233.8,555.8h0M232.1,561.7h0M231.2,535.2h0M234.0,566.2h0M231.4,573.6h0M237.3,531.9h0M236.7,562.5h0M239.1,552.6h0M235.1,542.2h0M237.2,557.7h0M238.8,554.0h0M240.2,537.5h0M226.7,583.0h0M240.1,549.4h0M237.6,565.3h0M238.1,561.8h0M238.5,547.3h0M228.7,588.1h0M228.6,583.5h0M236.1,548.0h0M238.1,555.6h0M229.4,579.5h0M224.6,587.0h0M232.1,583.2h0M240.1,558.9h0M235.0,539.6h0M235.1,532.9h0M230.3,569.5h0M226.8,582.7h0M228.4,585.7h0M229.9,570.3h0M225.5,588.3h0M231.3,586.1h0M240.6,548.2h0M235.4,552.1h0M225.6,585.0h0M237.4,566.5h0M237.4,556.5h0M231.5,528.7h0M228.4,580.7h0M232.0,581.0h0M235.1,541.9h0M229.4,573.1h0M237.7,549.7h0M233.9,564.3h0M234.0,555.7h0M233.2,535.2h0M229.6,582.8h0M236.3,558.2h0M235.2,554.4h0M236.0,532.1h0M236.9,565.9h0M237.0,560.3h0M239.7,556.1h0M238.8,551.1h0M235.7,573.5h0M236.3,565.4h0M237.8,555.6h0M230.1,566.8h0M242.4,540.1h0M237.6,560.9h0M232.4,528.6h0M231.4,577.3h0M226.7,582.9h0M234.3,556.1h0M238.5,561.7h0M226.8,588.5h0M239.4,550.3h0M226.3,588.5h0M236.1,542.8h0M242.5,541.9h0M242.5,548.7h0M234.5,559.5h0M228.4,574.1h0M227.6,582.5h0M232.3,574.7h0M242.3,548.3h0M232.4,572.1h0M229.3,577.2h0M237.7,539.9h0M228.3,580.3h0M241.2,540.4h0M226.0,580.1h0M241.7,545.7h0M238.8,535.7h0M230.3,584.5h0M234.7,568.1h0M235.5,554.1h0M233.3,580.8h0M242.0,546.9h0M234.5,575.4h0M240.4,546.5h0M230.9,581.9h0M234.9,555.4h0M227.1,575.7h0M235.6,547.9h0M242.2,538.9h0M234.5,531.8h0M233.0,564.1h0M237.8,530.9h0M244.4,540.5h0M232.3,531.9h0M235.4,552.8h0M234.8,536.9h0M242.4,537.4h0M239.0,554.7h0M238.7,561.6h0M229.2,580.8h0M227.5,580.7h0M227.3,584.9h0M227.1,585.5h0M235.2,565.0h0M243.4,542.1h0M241.0,543.5h0M227.5,579.5h0M239.0,534.1h0M228.6,575.4h0M239.6,548.1h0M236.2,547.5h0M235.5,560.9h0M227.2,580.4h0M232.0,576.5h0M230.8,572.2h0M228.1,574.9h0M230.2,569.2h0M236.9,548.4h0M229.3,568.0h0M237.3,541.2h0M238.9,532.7h0M235.9,560.8h0M232.9,578.2h0M233.8,537.8h0M234.3,531.2h0M238.2,552.9h0M237.7,560.1h0M233.0,574.5h0M234.6,538.0h0M239.7,550.2h0M242.1,544.9h0M234.2,562.0h0M228.2,577.4h0M227.5,577.6h0M239.5,534.0h0M224.9,586.4h0M235.0,562.4h0M236.0,532.1h0M237.8,534.9h0M239.7,536.9h0" stroke="#fff" stroke-width="1.10" stroke-linecap="round" fill="none"/>
<path d="M237.0,527.8h0M232.2,536.7h0M230.3,533.4h0M231.2,533.8h0M230.8,525.5h0M237.9,533.9h0M230.6,534.0h0M243.0,532.5h0M236.5,536.8h0M229.4,531.8h0M240.0,538.5h0M236.4,532.7h0M231.1,524.7h0M231.1,532.1h0M248.8,535.8h0M242.8,536.5h0M232.6,526.1h0M237.0,532.8h0M233.9,535.1h0M231.3,523.9h0M240.7,530.4h0M232.6,532.5h0M236.9,531.0h0M232.4,525.4h0M236.1,536.1h0M240.0,538.1h0M241.6,533.6h0M237.4,537.0h0M232.9,536.4h0M229.3,525.2h0M241.8,534.3h0M238.2,533.7h0M237.2,532.6h0M228.9,529.4h0M235.5,533.2h0M237.2,536.8h0M235.8,536.5h0M236.0,538.5h0M238.7,537.6h0M230.8,529.3h0M238.2,539.5h0M236.5,527.5h0M231.0,538.5h0M244.0,537.0h0M242.3,537.7h0M238.5,529.7h0M233.0,534.2h0M242.6,531.1h0M228.8,524.9h0M234.7,534.5h0" stroke="#fff" stroke-width="1.00" stroke-linecap="round" fill="none"/>
<path d="M200.7,550.0h0M223.9,577.8h0M203.5,563.6h0M223.2,563.1h0M222.8,550.7h0M205.7,571.4h0M206.5,564.7h0M233.3,537.6h0M213.1,594.3h0M216.0,562.4h0M222.8,584.7h0M216.1,588.2h0M228.0,552.1h0M223.7,544.7h0M196.9,558.2h0M211.2,555.7h0M201.9,562.1h0M207.4,569.9h0M199.9,558.8h0M205.9,588.3h0M202.6,558.4h0M229.1,566.6h0M237.2,544.7h0M196.7,569.0h0M234.0,550.5h0M227.5,555.2h0M216.0,574.3h0M222.3,567.7h0M206.7,574.0h0M230.5,569.1h0M222.1,577.7h0M214.4,573.4h0M210.3,545.8h0M202.4,553.0h0M222.0,530.9h0M229.2,548.1h0M239.0,543.7h0M212.4,582.4h0M226.1,555.0h0M225.9,572.4h0M225.5,564.3h0M219.4,551.6h0M208.5,577.5h0M229.5,527.8h0M222.8,595.1h0M223.3,594.5h0M218.2,581.9h0M231.2,525.8h0M230.9,569.3h0M235.3,532.7h0M206.5,545.0h0M234.6,557.2h0M235.1,540.5h0M218.6,584.8h0M221.9,569.1h0M228.0,574.8h0M221.7,545.3h0M210.8,586.0h0M221.3,531.5h0M227.7,575.3h0M221.4,592.2h0M217.0,570.1h0M208.7,554.1h0M227.3,526.9h0M206.4,565.4h0M198.3,553.3h0M220.5,573.3h0M204.1,582.7h0M223.4,581.0h0M226.3,544.5h0" stroke="#fff" stroke-width="0.90" stroke-linecap="round" fill="none"/>
<path d="M244.3,547.0h0M265.7,563.6h0M244.5,586.5h0M259.4,574.0h0M252.5,569.4h0M249.5,558.1h0M240.4,546.6h0M249.9,574.6h0M239.7,533.8h0M259.0,554.4h0M251.0,581.2h0M263.5,545.4h0M253.9,548.7h0M242.5,584.2h0M241.0,540.4h0M255.6,571.1h0M259.2,542.1h0M247.0,520.0h0M265.0,547.2h0M245.0,534.5h0M253.0,530.2h0M246.4,526.9h0M241.0,558.5h0M246.5,527.0h0M249.8,540.9h0M251.0,570.5h0M243.7,547.4h0M269.2,566.5h0M251.1,534.9h0M242.9,582.6h0M248.3,554.8h0M243.0,534.2h0M246.1,579.0h0M245.4,562.5h0M241.1,587.0h0M253.9,563.2h0M265.0,558.2h0M252.9,572.2h0M252.3,562.1h0M245.3,530.4h0" stroke="#fff" stroke-width="0.90" stroke-linecap="round" fill="none"/>
<path d="M208.0,564.0 C208.7,562.8 210.8,561.8 212.0,562.0 C213.2,562.2 215.0,563.7 215.5,565.0 C216.0,566.3 215.8,568.8 215.0,570.0 C214.2,571.2 212.2,572.7 211.0,572.5 C209.8,572.3 208.5,570.4 208.0,569.0 C207.5,567.6 207.3,565.2 208.0,564.0Z" fill="#5ea2e0"/>
<path d="M215.3,567.9h0M209.0,567.8h0M215.4,571.0h0M213.9,571.8h0M215.1,565.8h0M213.0,570.0h0M214.1,565.4h0M212.3,571.6h0M212.5,570.6h0M213.1,563.5h0M210.0,568.5h0M212.8,563.2h0M209.7,567.5h0M215.1,564.3h0M214.4,567.9h0M213.2,563.3h0M209.3,566.5h0M214.4,571.0h0M215.5,571.6h0M214.5,571.5h0M210.4,568.3h0M210.2,566.8h0M208.7,570.0h0M213.1,566.3h0M209.8,562.9h0M209.6,564.0h0M211.5,570.9h0M211.0,566.4h0M208.5,565.0h0M215.0,568.0h0" stroke="#5ea2e0" stroke-width="1.20" stroke-linecap="round" fill="none" opacity="1.0"/>
<path d="M209.5,570.7h0M213.6,564.8h0M210.6,563.3h0M213.3,564.7h0M213.8,568.7h0M213.4,567.5h0M209.7,563.3h0M212.2,563.1h0M211.6,569.2h0M209.0,566.5h0" stroke="#fff" stroke-width="1.00" stroke-linecap="round" fill="none"/>
<path d="M223.5,560.0 C224.2,558.6 225.8,557.7 227.0,557.5 C228.2,557.3 230.2,557.9 231.0,559.0 C231.8,560.1 232.2,562.3 232.0,564.0 C231.8,565.7 231.0,568.0 230.0,569.0 C229.0,570.0 227.2,570.5 226.0,570.0 C224.8,569.5 223.4,567.7 223.0,566.0 C222.6,564.3 222.8,561.4 223.5,560.0Z" fill="#b471b8"/>
<path d="M223.9,559.4h0M224.1,558.8h0M230.9,567.8h0M227.7,561.9h0M224.8,564.8h0M231.1,560.4h0M231.0,558.7h0M226.8,560.8h0M227.7,568.4h0M222.9,561.5h0M226.4,557.7h0M224.5,561.2h0M228.5,565.6h0M223.8,566.9h0M229.6,559.1h0M223.2,565.1h0M230.1,567.1h0M229.0,568.3h0M228.3,564.4h0M228.7,558.7h0M223.3,558.1h0M226.3,559.5h0M225.1,563.5h0M224.2,568.9h0M230.5,560.6h0M230.7,568.3h0M223.9,558.0h0M228.8,557.6h0M225.7,565.7h0M229.0,568.5h0M226.1,565.9h0M230.1,569.0h0M226.7,558.8h0M226.0,568.7h0M231.4,566.7h0M225.9,565.0h0M225.6,568.1h0M224.1,562.9h0M228.1,564.1h0M230.4,562.4h0" stroke="#b471b8" stroke-width="1.20" stroke-linecap="round" fill="none" opacity="1.0"/>
<path d="M229.4,566.2h0M230.9,564.2h0M228.1,566.7h0M225.6,559.5h0M229.7,565.9h0M229.2,567.0h0M225.4,567.8h0M228.5,568.4h0M227.9,567.7h0M224.4,560.7h0M227.9,565.7h0M226.7,559.7h0" stroke="#fff" stroke-width="1.00" stroke-linecap="round" fill="none"/>
<path d="M234.9,570.9h0M242.5,562.6h0M237.9,552.8h0M237.3,561.2h0M235.4,565.5h0M245.4,557.3h0M242.6,571.2h0M242.8,555.3h0M237.6,547.0h0M240.5,563.5h0M239.0,557.4h0M236.3,561.2h0M234.3,570.7h0M239.7,552.1h0M238.9,562.3h0M240.1,548.4h0M239.1,555.3h0M237.5,568.2h0M235.4,562.1h0M236.4,573.7h0M239.7,568.6h0M237.6,549.6h0M236.3,567.1h0M236.6,567.7h0M239.8,573.2h0M234.2,558.9h0M245.0,560.6h0M236.0,556.7h0M234.6,565.9h0M236.7,558.2h0M236.8,546.1h0M242.4,549.9h0M244.4,572.2h0M240.6,565.6h0M241.7,555.9h0M237.8,548.3h0M243.2,546.3h0M234.3,561.3h0M245.5,554.9h0M237.1,571.3h0" stroke="#a6a22e" stroke-width="1.00" stroke-linecap="round" fill="none" opacity="1.0"/>
<path d="M242.6,532.3h0M243.5,538.6h0M240.5,534.6h0M240.8,535.2h0M241.6,531.8h0M244.3,534.8h0M240.7,530.1h0M248.5,537.0h0M243.0,533.1h0M243.9,537.1h0M239.5,532.3h0M244.4,538.7h0M247.0,540.0h0M249.6,530.9h0M240.7,536.1h0M240.1,530.8h0M246.5,534.1h0M246.6,537.0h0M244.0,531.7h0M239.5,532.1h0" stroke="#d9665f" stroke-width="1.00" stroke-linecap="round" fill="none" opacity="1.0"/>
<line x1="190.5" y1="514.5" x2="190.5" y2="600.4" stroke="#555" stroke-width="0.8"/>
<line x1="190.5" y1="600.4" x2="279.0" y2="600.4" stroke="#555" stroke-width="0.8"/>
<text x="188.9" y="522.3" font-size="6.5" text-anchor="end" fill="#1e1e1e">5.0</text>
<line x1="189.2" y1="520.0" x2="190.5" y2="520.0" stroke="#555" stroke-width="0.5"/>
<text x="188.9" y="542.5" font-size="6.5" text-anchor="end" fill="#1e1e1e">2.5</text>
<line x1="189.2" y1="540.2" x2="190.5" y2="540.2" stroke="#555" stroke-width="0.5"/>
<text x="188.9" y="562.9" font-size="6.5" text-anchor="end" fill="#1e1e1e">0.0</text>
<line x1="189.2" y1="560.6" x2="190.5" y2="560.6" stroke="#555" stroke-width="0.5"/>
<text x="188.9" y="582.6" font-size="6.5" text-anchor="end" fill="#1e1e1e">−2.5</text>
<line x1="189.2" y1="580.3" x2="190.5" y2="580.3" stroke="#555" stroke-width="0.5"/>
<text x="188.9" y="601.6" font-size="6.5" text-anchor="end" fill="#1e1e1e">−5.0</text>
<line x1="189.2" y1="599.3" x2="190.5" y2="599.3" stroke="#555" stroke-width="0.5"/>
<text x="213.7" y="607.7" font-size="6.5" text-anchor="middle" fill="#1e1e1e">−5</text>
<line x1="213.7" y1="600.4" x2="213.7" y2="601.7" stroke="#555" stroke-width="0.5"/>
<text x="237.9" y="607.7" font-size="6.5" text-anchor="middle" fill="#1e1e1e">0</text>
<line x1="237.9" y1="600.4" x2="237.9" y2="601.7" stroke="#555" stroke-width="0.5"/>
<text x="262.8" y="607.7" font-size="6.5" text-anchor="middle" fill="#1e1e1e">5</text>
<line x1="262.8" y1="600.4" x2="262.8" y2="601.7" stroke="#555" stroke-width="0.5"/>
<text x="237.9" y="618.0" font-size="6.8" text-anchor="middle" fill="#1e1e1e">UMAP_1</text>
<text transform="translate(173.4,552.0) rotate(-90)" x="0" y="2.4" font-size="6.8" text-anchor="middle" fill="#1e1e1e">UMAP_2</text>
<text x="280.8" y="531.0" font-size="6.5" fill="#1e1e1e">Predicted</text>
<text x="280.8" y="538.7" font-size="6.5" fill="#1e1e1e">PDAC</text>
<text x="280.8" y="546.5" font-size="6.5" fill="#1e1e1e">cluster</text>
<circle cx="285.0" cy="551.7" r="1.50" fill="#d9665f"/>
<text x="289.8" y="554.1" font-size="6.6" fill="#1e1e1e">0</text>
<circle cx="285.0" cy="558.5" r="1.50" fill="#a6a22e"/>
<text x="289.8" y="560.9" font-size="6.6" fill="#1e1e1e">1</text>
<circle cx="285.0" cy="564.0" r="1.50" fill="#4fa36a"/>
<text x="289.8" y="566.4" font-size="6.6" fill="#1e1e1e">2</text>
<circle cx="285.0" cy="569.8" r="1.50" fill="#5ea2e0"/>
<text x="289.8" y="572.2" font-size="6.6" fill="#1e1e1e">3</text>
<circle cx="285.0" cy="575.3" r="1.50" fill="#b471b8"/>
<text x="289.8" y="577.7" font-size="6.6" fill="#1e1e1e">4</text>
</svg></body></html>
